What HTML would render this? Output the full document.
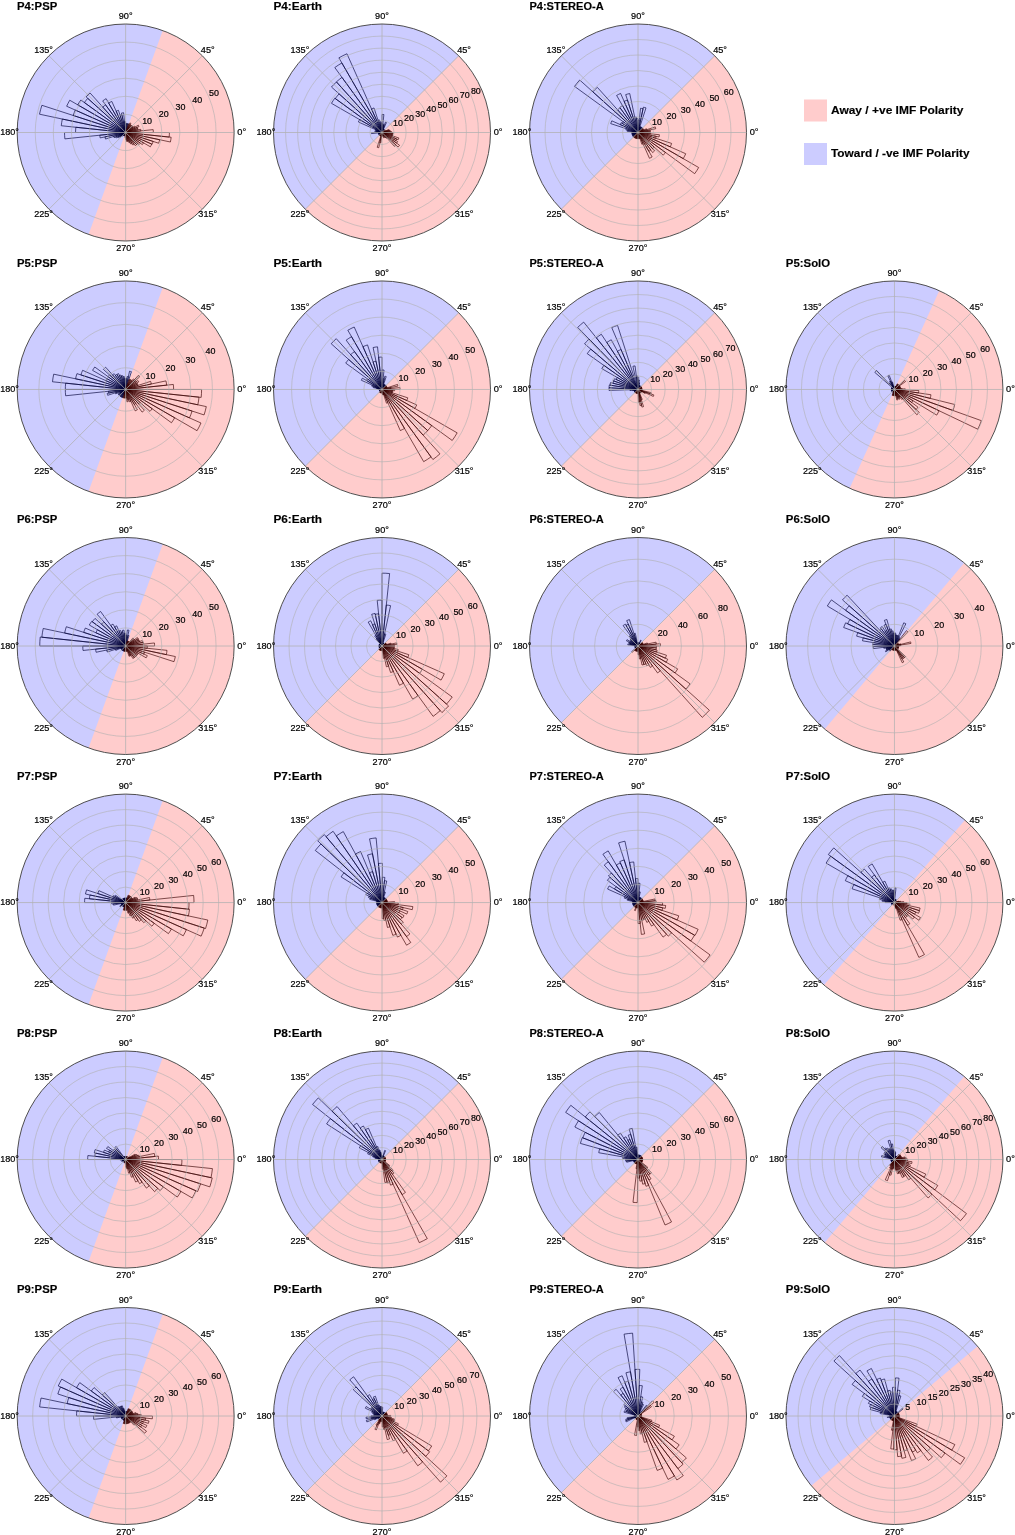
<!DOCTYPE html><html><head><meta charset="utf-8"><style>html,body{margin:0;padding:0;background:#fff;overflow:hidden;width:1015px;height:1535px;}svg{display:block;will-change:transform;}text{font-family:"Liberation Sans",sans-serif;}.t{font-size:8.5px;fill:#000;stroke:#000;stroke-width:0.2px;}.ti{font-size:10.6px;font-weight:bold;fill:#000;stroke:#000;stroke-width:0.15px;}.lg{font-size:10.5px;font-weight:bold;fill:#000;stroke:#000;stroke-width:0.15px;}</style></head><body>
<svg width="1015" height="1535" viewBox="0 0 1015 1535">
<clipPath id="c0"><circle cx="125.65" cy="132.5" r="108.5"/></clipPath>
<g clip-path="url(#c0)">
<circle cx="125.65" cy="132.5" r="108.5" fill="#ffcccc"/>
<polygon points="181.31,-20.43 0.11,-17.11 -66.68,166.41 69.99,285.43 125.65,132.5" fill="#ccccff"/>
<g fill="none" stroke="#000038" stroke-width="0.65"><path d="M125.65 132.5L128.44 123.9A9.04 9.04 0 0 0 127.53 123.66Z"/><path d="M125.65 132.5L127.53 123.66A9.04 9.04 0 0 0 126.6 123.51Z"/><path d="M125.65 132.5L126.6 123.51A9.04 9.04 0 0 0 125.65 123.46Z"/><path d="M125.65 132.5L125.65 121.65A10.85 10.85 0 0 0 124.52 121.71Z"/><path d="M125.65 132.5L123.57 112.72A19.89 19.89 0 0 0 121.51 113.04Z"/><path d="M125.65 132.5L121.89 114.81A18.08 18.08 0 0 0 120.06 115.3Z"/><path d="M125.65 132.5L118.44 110.31A23.33 23.33 0 0 0 116.16 111.19Z"/><path d="M125.65 132.5L111.82 101.44A34 34 0 0 0 108.65 103.06Z"/><path d="M125.65 132.5L106.12 98.67A39.06 39.06 0 0 0 102.69 100.9Z"/><path d="M125.65 132.5L105.56 104.85A34.18 34.18 0 0 0 102.78 107.1Z"/><path d="M125.65 132.5L90.08 92.99A53.16 53.16 0 0 0 86.14 96.93Z"/><path d="M125.65 132.5L87.75 98.38A50.99 50.99 0 0 0 84.39 102.53Z"/><path d="M125.65 132.5L80.88 99.97A55.34 55.34 0 0 0 77.73 104.83Z"/><path d="M125.65 132.5L69.74 100.22A64.56 64.56 0 0 0 66.67 106.24Z"/><path d="M125.65 132.5L75.26 110.07A55.15 55.15 0 0 0 73.2 115.46Z"/><path d="M125.65 132.5L41.89 105.29A88.07 88.07 0 0 0 39.51 114.19Z"/><path d="M125.65 132.5L62.33 119.04A64.74 64.74 0 0 0 61.27 125.73Z"/><path d="M125.65 132.5L75.83 127.26A50.09 50.09 0 0 0 75.56 132.5Z"/><path d="M125.65 132.5L64.53 132.5A61.12 61.12 0 0 0 64.86 138.89Z"/><path d="M125.65 132.5L99.75 135.22A26.04 26.04 0 0 0 100.18 137.91Z"/><path d="M125.65 132.5L104.95 136.9A21.16 21.16 0 0 0 105.53 139.04Z"/><path d="M125.65 132.5L113.61 136.41A12.66 12.66 0 0 0 114.09 137.65Z"/><path d="M125.65 132.5L115.74 136.91A10.85 10.85 0 0 0 116.25 137.93Z"/><path d="M125.65 132.5L117.82 137.02A9.04 9.04 0 0 0 118.34 137.81Z"/><path d="M125.65 132.5L119.8 136.75A7.23 7.23 0 0 0 120.27 137.34Z"/><path d="M125.65 132.5L121.62 136.13A5.42 5.42 0 0 0 122.02 136.53Z"/><path d="M125.65 132.5L123.23 135.19A3.62 3.62 0 0 0 123.52 135.43Z"/><path d="M125.65 132.5L123.52 135.43A3.62 3.62 0 0 0 123.84 135.63Z"/><path d="M125.65 132.5L123.84 135.63A3.62 3.62 0 0 0 124.18 135.8Z"/><path d="M125.65 132.5L124.18 135.8A3.62 3.62 0 0 0 124.53 135.94Z"/></g>
<g fill="none" stroke="#380000" stroke-width="0.65"><path d="M125.65 132.5L153.32 132.5A27.67 27.67 0 0 0 153.17 129.61Z"/><path d="M125.65 132.5L140.94 130.89A15.37 15.37 0 0 0 140.68 129.3Z"/><path d="M125.65 132.5L138.03 129.87A12.66 12.66 0 0 0 137.69 128.59Z"/><path d="M125.65 132.5L137.69 128.59A12.66 12.66 0 0 0 137.21 127.35Z"/><path d="M125.65 132.5L139.03 126.54A14.65 14.65 0 0 0 138.34 125.18Z"/><path d="M125.65 132.5L135.05 127.08A10.85 10.85 0 0 0 134.43 126.12Z"/><path d="M125.65 132.5L132.96 127.19A9.04 9.04 0 0 0 132.37 126.45Z"/><path d="M125.65 132.5L132.37 126.45A9.04 9.04 0 0 0 131.7 125.78Z"/><path d="M125.65 132.5L131.7 125.78A9.04 9.04 0 0 0 130.96 125.19Z"/><path d="M125.65 132.5L130.96 125.19A9.04 9.04 0 0 0 130.17 124.67Z"/><path d="M125.65 132.5L130.89 123.42A10.49 10.49 0 0 0 129.92 122.92Z"/><path d="M125.65 132.5L129.33 124.24A9.04 9.04 0 0 0 128.44 123.9Z"/><path d="M125.65 132.5L125.09 134.22A1.81 1.81 0 0 0 125.27 134.27Z"/><path d="M125.65 132.5L124.9 136.04A3.62 3.62 0 0 0 125.27 136.1Z"/><path d="M125.65 132.5L125.08 137.9A5.42 5.42 0 0 0 125.65 137.93Z"/><path d="M125.65 132.5L125.65 139.73A7.23 7.23 0 0 0 126.41 139.69Z"/><path d="M125.65 132.5L126.6 141.49A9.04 9.04 0 0 0 127.53 141.34Z"/><path d="M125.65 132.5L127.53 141.34A9.04 9.04 0 0 0 128.44 141.1Z"/><path d="M125.65 132.5L129 142.82A10.85 10.85 0 0 0 130.06 142.41Z"/><path d="M125.65 132.5L130.8 144.06A12.66 12.66 0 0 0 131.98 143.46Z"/><path d="M125.65 132.5L132.88 145.03A14.47 14.47 0 0 0 134.15 144.2Z"/><path d="M125.65 132.5L135.22 145.67A16.27 16.27 0 0 0 136.54 144.59Z"/><path d="M125.65 132.5L136.54 144.59A16.27 16.27 0 0 0 137.74 143.39Z"/><path d="M125.65 132.5L139.09 144.6A18.08 18.08 0 0 0 140.28 143.13Z"/><path d="M125.65 132.5L142.33 144.62A20.62 20.62 0 0 0 143.5 142.81Z"/><path d="M125.65 132.5L150.39 146.79A28.57 28.57 0 0 0 151.75 144.12Z"/><path d="M125.65 132.5L152.08 144.27A28.93 28.93 0 0 0 153.17 141.44Z"/><path d="M125.65 132.5L158.67 143.23A34.72 34.72 0 0 0 159.61 139.72Z"/><path d="M125.65 132.5L170.4 142.01A45.75 45.75 0 0 0 171.15 137.28Z"/><path d="M125.65 132.5L169.17 137.07A43.76 43.76 0 0 0 169.41 132.5Z"/></g>
<circle cx="125.65" cy="132.5" r="18.08" fill="none" stroke="#b0b0b0" stroke-width="0.6"/>
<circle cx="125.65" cy="132.5" r="36.17" fill="none" stroke="#b0b0b0" stroke-width="0.6"/>
<circle cx="125.65" cy="132.5" r="54.25" fill="none" stroke="#b0b0b0" stroke-width="0.6"/>
<circle cx="125.65" cy="132.5" r="72.33" fill="none" stroke="#b0b0b0" stroke-width="0.6"/>
<circle cx="125.65" cy="132.5" r="90.42" fill="none" stroke="#b0b0b0" stroke-width="0.6"/>
<path d="M234.15 132.5L17.15 132.5M202.37 55.78L48.93 209.22M125.65 24L125.65 241M48.93 55.78L202.37 209.22" stroke="#b0b0b0" stroke-width="0.75"/>
</g>
<circle cx="125.65" cy="132.5" r="108.5" fill="none" stroke="#474747" stroke-width="0.95"/>
<text class="t" x="241.75" y="135.2" text-anchor="middle" textLength="8.86" lengthAdjust="spacingAndGlyphs">0°</text>
<text class="t" x="207.75" y="53.1" text-anchor="middle" textLength="13.83" lengthAdjust="spacingAndGlyphs">45°</text>
<text class="t" x="125.65" y="19.1" text-anchor="middle" textLength="13.83" lengthAdjust="spacingAndGlyphs">90°</text>
<text class="t" x="43.55" y="53.1" text-anchor="middle" textLength="18.79" lengthAdjust="spacingAndGlyphs">135°</text>
<text class="t" x="9.55" y="135.2" text-anchor="middle" textLength="18.79" lengthAdjust="spacingAndGlyphs">180°</text>
<text class="t" x="43.55" y="217.3" text-anchor="middle" textLength="18.79" lengthAdjust="spacingAndGlyphs">225°</text>
<text class="t" x="125.65" y="251.3" text-anchor="middle" textLength="18.79" lengthAdjust="spacingAndGlyphs">270°</text>
<text class="t" x="207.75" y="217.3" text-anchor="middle" textLength="18.79" lengthAdjust="spacingAndGlyphs">315°</text>
<text class="t" x="142.16" y="123.78" textLength="9.93" lengthAdjust="spacingAndGlyphs">10</text>
<text class="t" x="158.86" y="116.86" textLength="9.93" lengthAdjust="spacingAndGlyphs">20</text>
<text class="t" x="175.57" y="109.94" textLength="9.93" lengthAdjust="spacingAndGlyphs">30</text>
<text class="t" x="192.28" y="103.02" textLength="9.93" lengthAdjust="spacingAndGlyphs">40</text>
<text class="t" x="208.98" y="96.1" textLength="9.93" lengthAdjust="spacingAndGlyphs">50</text>
<text class="ti" x="17.05" y="9.8" textLength="40.15" lengthAdjust="spacingAndGlyphs">P4:PSP</text>
<clipPath id="c1"><circle cx="382" cy="132.5" r="108.5"/></clipPath>
<g clip-path="url(#c1)">
<circle cx="382" cy="132.5" r="108.5" fill="#ffcccc"/>
<polygon points="497.08,17.42 331.45,-56.15 193.35,81.95 266.92,247.58 382,132.5" fill="#ccccff"/>
<g fill="none" stroke="#000038" stroke-width="0.65"><path d="M382 132.5L384.69 130.08A3.62 3.62 0 0 0 384.42 129.81Z"/><path d="M382 132.5L384.42 129.81A3.62 3.62 0 0 0 384.13 129.57Z"/><path d="M382 132.5L384.13 129.57A3.62 3.62 0 0 0 383.81 129.37Z"/><path d="M382 132.5L383.81 129.37A3.62 3.62 0 0 0 383.47 129.2Z"/><path d="M382 132.5L386.41 122.59A10.85 10.85 0 0 0 385.35 122.18Z"/><path d="M382 132.5L384.24 125.62A7.23 7.23 0 0 0 383.5 125.42Z"/><path d="M382 132.5L383.75 124.25A8.44 8.44 0 0 0 382.88 124.11Z"/><path d="M382 132.5L383.89 114.52A18.08 18.08 0 0 0 382 114.42Z"/><path d="M382 132.5L382 122.86A9.64 9.64 0 0 0 380.99 122.91Z"/><path d="M382 132.5L380.87 121.71A10.85 10.85 0 0 0 379.74 121.89Z"/><path d="M382 132.5L379.32 119.88A12.9 12.9 0 0 0 378.01 120.23Z"/><path d="M382 132.5L374.03 107.96A25.8 25.8 0 0 0 371.51 108.93Z"/><path d="M382 132.5L346.94 53.75A86.2 86.2 0 0 0 338.9 57.85Z"/><path d="M382 132.5L341.86 62.97A80.29 80.29 0 0 0 334.81 67.54Z"/><path d="M382 132.5L341.96 77.39A68.11 68.11 0 0 0 336.42 81.88Z"/><path d="M382 132.5L336.5 81.97A67.99 67.99 0 0 0 331.47 87Z"/><path d="M382 132.5L339.09 93.86A57.75 57.75 0 0 0 335.28 98.56Z"/><path d="M382 132.5L334.79 98.2A58.35 58.35 0 0 0 331.47 103.33Z"/><path d="M382 132.5L359.66 119.6A25.8 25.8 0 0 0 358.43 122.01Z"/><path d="M382 132.5L375.39 129.56A7.23 7.23 0 0 0 375.12 130.26Z"/><path d="M382 132.5L376.27 130.64A6.03 6.03 0 0 0 376.1 131.25Z"/><path d="M382 132.5L374.92 131A7.23 7.23 0 0 0 374.81 131.74Z"/><path d="M382 132.5L376.01 131.87A6.03 6.03 0 0 0 375.97 132.5Z"/><path d="M382 132.5L371.39 132.5A10.61 10.61 0 0 0 371.45 133.61Z"/><path d="M382 132.5L378.4 132.88A3.62 3.62 0 0 0 378.46 133.25Z"/><path d="M382 132.5L378.46 133.25A3.62 3.62 0 0 0 378.56 133.62Z"/><path d="M382 132.5L378.56 133.62A3.62 3.62 0 0 0 378.7 133.97Z"/><path d="M382 132.5L378.7 133.97A3.62 3.62 0 0 0 378.87 134.31Z"/><path d="M382 132.5L378.87 134.31A3.62 3.62 0 0 0 379.07 134.63Z"/><path d="M382 132.5L379.07 134.63A3.62 3.62 0 0 0 379.31 134.92Z"/></g>
<g fill="none" stroke="#380000" stroke-width="0.65"><path d="M382 132.5L391.64 132.5A9.64 9.64 0 0 0 391.59 131.49Z"/><path d="M382 132.5L390.39 131.62A8.44 8.44 0 0 0 390.25 130.75Z"/><path d="M382 132.5L389.9 130.82A8.08 8.08 0 0 0 389.68 130Z"/><path d="M382 132.5L388.88 130.26A7.23 7.23 0 0 0 388.61 129.56Z"/><path d="M382 132.5L385.3 131.03A3.62 3.62 0 0 0 385.13 130.69Z"/><path d="M382 132.5L385.13 130.69A3.62 3.62 0 0 0 384.93 130.37Z"/><path d="M382 132.5L384.93 130.37A3.62 3.62 0 0 0 384.69 130.08Z"/><path d="M382 132.5L379.31 134.92A3.62 3.62 0 0 0 379.58 135.19Z"/><path d="M382 132.5L379.58 135.19A3.62 3.62 0 0 0 379.87 135.43Z"/><path d="M382 132.5L379.87 135.43A3.62 3.62 0 0 0 380.19 135.63Z"/><path d="M382 132.5L380.19 135.63A3.62 3.62 0 0 0 380.53 135.8Z"/><path d="M382 132.5L380.53 135.8A3.62 3.62 0 0 0 380.88 135.94Z"/><path d="M382 132.5L377.19 147.29A15.55 15.55 0 0 0 378.77 147.71Z"/><path d="M382 132.5L379.84 142.64A10.37 10.37 0 0 0 380.92 142.81Z"/><path d="M382 132.5L381.62 136.1A3.62 3.62 0 0 0 382 136.12Z"/><path d="M382 132.5L382 136.12A3.62 3.62 0 0 0 382.38 136.1Z"/><path d="M382 132.5L382.38 136.1A3.62 3.62 0 0 0 382.75 136.04Z"/><path d="M382 132.5L382.75 136.04A3.62 3.62 0 0 0 383.12 135.94Z"/><path d="M382 132.5L383.75 137.89A5.67 5.67 0 0 0 384.3 137.68Z"/><path d="M382 132.5L383.47 135.8A3.62 3.62 0 0 0 383.81 135.63Z"/><path d="M382 132.5L385.01 137.72A6.03 6.03 0 0 0 385.54 137.38Z"/><path d="M382 132.5L386.25 138.35A7.23 7.23 0 0 0 386.84 137.88Z"/><path d="M382 132.5L394.42 146.3A18.57 18.57 0 0 0 395.8 144.92Z"/><path d="M382 132.5L398.13 147.02A21.7 21.7 0 0 0 399.56 145.25Z"/><path d="M382 132.5L396.63 143.13A18.08 18.08 0 0 0 397.66 141.54Z"/><path d="M382 132.5L395.99 140.58A16.15 16.15 0 0 0 396.76 139.07Z"/><path d="M382 132.5L398.19 139.71A17.72 17.72 0 0 0 398.85 137.98Z"/><path d="M382 132.5L392.32 135.85A10.85 10.85 0 0 0 392.61 134.76Z"/><path d="M382 132.5L392.61 134.76A10.85 10.85 0 0 0 392.79 133.63Z"/><path d="M382 132.5L393.15 133.67A11.21 11.21 0 0 0 393.21 132.5Z"/></g>
<circle cx="382" cy="132.5" r="12.06" fill="none" stroke="#b0b0b0" stroke-width="0.6"/>
<circle cx="382" cy="132.5" r="24.11" fill="none" stroke="#b0b0b0" stroke-width="0.6"/>
<circle cx="382" cy="132.5" r="36.17" fill="none" stroke="#b0b0b0" stroke-width="0.6"/>
<circle cx="382" cy="132.5" r="48.22" fill="none" stroke="#b0b0b0" stroke-width="0.6"/>
<circle cx="382" cy="132.5" r="60.28" fill="none" stroke="#b0b0b0" stroke-width="0.6"/>
<circle cx="382" cy="132.5" r="72.33" fill="none" stroke="#b0b0b0" stroke-width="0.6"/>
<circle cx="382" cy="132.5" r="84.39" fill="none" stroke="#b0b0b0" stroke-width="0.6"/>
<circle cx="382" cy="132.5" r="96.44" fill="none" stroke="#b0b0b0" stroke-width="0.6"/>
<path d="M490.5 132.5L273.5 132.5M458.72 55.78L305.28 209.22M382 24L382 241M305.28 55.78L458.72 209.22" stroke="#b0b0b0" stroke-width="0.75"/>
</g>
<circle cx="382" cy="132.5" r="108.5" fill="none" stroke="#474747" stroke-width="0.95"/>
<text class="t" x="498.1" y="135.2" text-anchor="middle" textLength="8.86" lengthAdjust="spacingAndGlyphs">0°</text>
<text class="t" x="464.1" y="53.1" text-anchor="middle" textLength="13.83" lengthAdjust="spacingAndGlyphs">45°</text>
<text class="t" x="382" y="19.1" text-anchor="middle" textLength="13.83" lengthAdjust="spacingAndGlyphs">90°</text>
<text class="t" x="299.9" y="53.1" text-anchor="middle" textLength="18.79" lengthAdjust="spacingAndGlyphs">135°</text>
<text class="t" x="265.9" y="135.2" text-anchor="middle" textLength="18.79" lengthAdjust="spacingAndGlyphs">180°</text>
<text class="t" x="299.9" y="217.3" text-anchor="middle" textLength="18.79" lengthAdjust="spacingAndGlyphs">225°</text>
<text class="t" x="382" y="251.3" text-anchor="middle" textLength="18.79" lengthAdjust="spacingAndGlyphs">270°</text>
<text class="t" x="464.1" y="217.3" text-anchor="middle" textLength="18.79" lengthAdjust="spacingAndGlyphs">315°</text>
<text class="t" x="392.94" y="126.09" textLength="9.93" lengthAdjust="spacingAndGlyphs">10</text>
<text class="t" x="404.08" y="121.47" textLength="9.93" lengthAdjust="spacingAndGlyphs">20</text>
<text class="t" x="415.21" y="116.86" textLength="9.93" lengthAdjust="spacingAndGlyphs">30</text>
<text class="t" x="426.35" y="112.25" textLength="9.93" lengthAdjust="spacingAndGlyphs">40</text>
<text class="t" x="437.49" y="107.63" textLength="9.93" lengthAdjust="spacingAndGlyphs">50</text>
<text class="t" x="448.63" y="103.02" textLength="9.93" lengthAdjust="spacingAndGlyphs">60</text>
<text class="t" x="459.77" y="98.41" textLength="9.93" lengthAdjust="spacingAndGlyphs">70</text>
<text class="t" x="470.9" y="93.79" textLength="9.93" lengthAdjust="spacingAndGlyphs">80</text>
<text class="ti" x="273.4" y="9.8" textLength="48.7" lengthAdjust="spacingAndGlyphs">P4:Earth</text>
<clipPath id="c2"><circle cx="638" cy="132.5" r="108.5"/></clipPath>
<g clip-path="url(#c2)">
<circle cx="638" cy="132.5" r="108.5" fill="#ffcccc"/>
<polygon points="753.08,17.42 587.45,-56.15 449.35,81.95 522.92,247.58 638,132.5" fill="#ccccff"/>
<g fill="none" stroke="#000038" stroke-width="0.65"><path d="M638 132.5L642.61 128.35A6.2 6.2 0 0 0 642.15 127.89Z"/><path d="M638 132.5L642.15 127.89A6.2 6.2 0 0 0 641.64 127.48Z"/><path d="M638 132.5L641.64 127.48A6.2 6.2 0 0 0 641.1 127.13Z"/><path d="M638 132.5L641.1 127.13A6.2 6.2 0 0 0 640.52 126.84Z"/><path d="M638 132.5L640.52 126.84A6.2 6.2 0 0 0 639.92 126.6Z"/><path d="M638 132.5L646 107.88A25.88 25.88 0 0 0 643.38 107.18Z"/><path d="M638 132.5L643.06 108.7A24.34 24.34 0 0 0 640.54 108.3Z"/><path d="M638 132.5L639.3 120.17A12.4 12.4 0 0 0 638 120.1Z"/><path d="M638 132.5L638 118.55A13.95 13.95 0 0 0 636.54 118.63Z"/><path d="M638 132.5L636.38 117.08A15.5 15.5 0 0 0 634.78 117.34Z"/><path d="M638 132.5L629.72 93.54A39.84 39.84 0 0 0 625.69 94.61Z"/><path d="M638 132.5L627.46 100.07A34.1 34.1 0 0 0 624.13 101.35Z"/><path d="M638 132.5L620.6 93.42A42.78 42.78 0 0 0 616.61 95.45Z"/><path d="M638 132.5L622.5 105.65A31 31 0 0 0 619.78 107.42Z"/><path d="M638 132.5L620.05 107.8A30.54 30.54 0 0 0 617.57 109.81Z"/><path d="M638 132.5L597.34 87.35A60.76 60.76 0 0 0 592.85 91.84Z"/><path d="M638 132.5L579.72 80.02A78.43 78.43 0 0 0 574.55 86.4Z"/><path d="M638 132.5L622.95 121.57A18.6 18.6 0 0 0 621.89 123.2Z"/><path d="M638 132.5L621.09 122.73A19.53 19.53 0 0 0 620.16 124.56Z"/><path d="M638 132.5L611.8 120.84A28.68 28.68 0 0 0 610.73 123.64Z"/><path d="M638 132.5L626.21 128.67A12.4 12.4 0 0 0 625.87 129.92Z"/><path d="M638 132.5L627.39 130.24A10.85 10.85 0 0 0 627.21 131.37Z"/><path d="M638 132.5L631.83 131.85A6.2 6.2 0 0 0 631.8 132.5Z"/><path d="M638 132.5L631.8 132.5A6.2 6.2 0 0 0 631.83 133.15Z"/><path d="M638 132.5L631.83 133.15A6.2 6.2 0 0 0 631.94 133.79Z"/><path d="M638 132.5L631.94 133.79A6.2 6.2 0 0 0 632.1 134.42Z"/><path d="M638 132.5L632.1 134.42A6.2 6.2 0 0 0 632.34 135.02Z"/><path d="M638 132.5L632.34 135.02A6.2 6.2 0 0 0 632.63 135.6Z"/><path d="M638 132.5L632.63 135.6A6.2 6.2 0 0 0 632.98 136.14Z"/><path d="M638 132.5L632.98 136.14A6.2 6.2 0 0 0 633.39 136.65Z"/></g>
<g fill="none" stroke="#380000" stroke-width="0.65"><path d="M638 132.5L650.4 132.5A12.4 12.4 0 0 0 650.33 131.2Z"/><path d="M638 132.5L650.33 131.2A12.4 12.4 0 0 0 650.13 129.92Z"/><path d="M638 132.5L655.74 128.73A18.13 18.13 0 0 0 655.25 126.9Z"/><path d="M638 132.5L646.84 129.63A9.3 9.3 0 0 0 646.5 128.72Z"/><path d="M638 132.5L643.66 129.98A6.2 6.2 0 0 0 643.37 129.4Z"/><path d="M638 132.5L643.37 129.4A6.2 6.2 0 0 0 643.02 128.86Z"/><path d="M638 132.5L643.02 128.86A6.2 6.2 0 0 0 642.61 128.35Z"/><path d="M638 132.5L633.39 136.65A6.2 6.2 0 0 0 633.85 137.11Z"/><path d="M638 132.5L633.85 137.11A6.2 6.2 0 0 0 634.36 137.52Z"/><path d="M638 132.5L634.36 137.52A6.2 6.2 0 0 0 634.9 137.87Z"/><path d="M638 132.5L634.9 137.87A6.2 6.2 0 0 0 635.48 138.16Z"/><path d="M638 132.5L635.48 138.16A6.2 6.2 0 0 0 636.08 138.4Z"/><path d="M638 132.5L636.08 138.4A6.2 6.2 0 0 0 636.71 138.56Z"/><path d="M638 132.5L636.71 138.56A6.2 6.2 0 0 0 637.35 138.67Z"/><path d="M638 132.5L637.35 138.67A6.2 6.2 0 0 0 638 138.7Z"/><path d="M638 132.5L638 138.7A6.2 6.2 0 0 0 638.65 138.67Z"/><path d="M638 132.5L638.65 138.67A6.2 6.2 0 0 0 639.29 138.56Z"/><path d="M638 132.5L639.29 138.56A6.2 6.2 0 0 0 639.92 138.4Z"/><path d="M638 132.5L641.83 144.29A12.4 12.4 0 0 0 643.04 143.83Z"/><path d="M638 132.5L649.47 158.27A28.21 28.21 0 0 0 652.11 156.93Z"/><path d="M638 132.5L648.85 151.29A21.7 21.7 0 0 0 650.75 150.06Z"/><path d="M638 132.5L652.58 152.56A24.8 24.8 0 0 0 654.59 150.93Z"/><path d="M638 132.5L652.52 148.63A21.7 21.7 0 0 0 654.13 147.02Z"/><path d="M638 132.5L663.23 155.21A33.95 33.95 0 0 0 665.46 152.45Z"/><path d="M638 132.5L694.68 173.68A70.06 70.06 0 0 0 698.67 167.53Z"/><path d="M638 132.5L683.24 158.62A52.24 52.24 0 0 0 685.72 153.75Z"/><path d="M638 132.5L670.28 146.87A35.34 35.34 0 0 0 671.61 143.42Z"/><path d="M638 132.5L655.69 138.25A18.6 18.6 0 0 0 656.19 136.37Z"/><path d="M638 132.5L659.07 136.98A21.55 21.55 0 0 0 659.43 134.75Z"/><path d="M638 132.5L650.33 133.8A12.4 12.4 0 0 0 650.4 132.5Z"/></g>
<circle cx="638" cy="132.5" r="15.5" fill="none" stroke="#b0b0b0" stroke-width="0.6"/>
<circle cx="638" cy="132.5" r="31" fill="none" stroke="#b0b0b0" stroke-width="0.6"/>
<circle cx="638" cy="132.5" r="46.5" fill="none" stroke="#b0b0b0" stroke-width="0.6"/>
<circle cx="638" cy="132.5" r="62" fill="none" stroke="#b0b0b0" stroke-width="0.6"/>
<circle cx="638" cy="132.5" r="77.5" fill="none" stroke="#b0b0b0" stroke-width="0.6"/>
<circle cx="638" cy="132.5" r="93" fill="none" stroke="#b0b0b0" stroke-width="0.6"/>
<path d="M746.5 132.5L529.5 132.5M714.72 55.78L561.28 209.22M638 24L638 241M561.28 55.78L714.72 209.22" stroke="#b0b0b0" stroke-width="0.75"/>
</g>
<circle cx="638" cy="132.5" r="108.5" fill="none" stroke="#474747" stroke-width="0.95"/>
<text class="t" x="754.1" y="135.2" text-anchor="middle" textLength="8.86" lengthAdjust="spacingAndGlyphs">0°</text>
<text class="t" x="720.1" y="53.1" text-anchor="middle" textLength="13.83" lengthAdjust="spacingAndGlyphs">45°</text>
<text class="t" x="638" y="19.1" text-anchor="middle" textLength="13.83" lengthAdjust="spacingAndGlyphs">90°</text>
<text class="t" x="555.9" y="53.1" text-anchor="middle" textLength="18.79" lengthAdjust="spacingAndGlyphs">135°</text>
<text class="t" x="521.9" y="135.2" text-anchor="middle" textLength="18.79" lengthAdjust="spacingAndGlyphs">180°</text>
<text class="t" x="555.9" y="217.3" text-anchor="middle" textLength="18.79" lengthAdjust="spacingAndGlyphs">225°</text>
<text class="t" x="638" y="251.3" text-anchor="middle" textLength="18.79" lengthAdjust="spacingAndGlyphs">270°</text>
<text class="t" x="720.1" y="217.3" text-anchor="middle" textLength="18.79" lengthAdjust="spacingAndGlyphs">315°</text>
<text class="t" x="652.12" y="124.77" textLength="9.93" lengthAdjust="spacingAndGlyphs">10</text>
<text class="t" x="666.44" y="118.84" textLength="9.93" lengthAdjust="spacingAndGlyphs">20</text>
<text class="t" x="680.76" y="112.91" textLength="9.93" lengthAdjust="spacingAndGlyphs">30</text>
<text class="t" x="695.08" y="106.97" textLength="9.93" lengthAdjust="spacingAndGlyphs">40</text>
<text class="t" x="709.4" y="101.04" textLength="9.93" lengthAdjust="spacingAndGlyphs">50</text>
<text class="t" x="723.72" y="95.11" textLength="9.93" lengthAdjust="spacingAndGlyphs">60</text>
<text class="ti" x="529.4" y="9.8" textLength="74.25" lengthAdjust="spacingAndGlyphs">P4:STEREO-A</text>
<clipPath id="c3"><circle cx="125.65" cy="389.46" r="108.5"/></clipPath>
<g clip-path="url(#c3)">
<circle cx="125.65" cy="389.46" r="108.5" fill="#ffcccc"/>
<polygon points="181.31,236.53 0.11,239.85 -66.68,423.37 69.99,542.39 125.65,389.46" fill="#ccccff"/>
<g fill="none" stroke="#000038" stroke-width="0.65"><path d="M125.65 389.46L131.42 371.71A18.66 18.66 0 0 0 129.53 371.21Z"/><path d="M125.65 389.46L128.36 376.72A13.02 13.02 0 0 0 127.01 376.51Z"/><path d="M125.65 389.46L126.78 378.67A10.85 10.85 0 0 0 125.65 378.61Z"/><path d="M125.65 389.46L125.65 378.61A10.85 10.85 0 0 0 124.52 378.67Z"/><path d="M125.65 389.46L124.29 376.51A13.02 13.02 0 0 0 122.94 376.72Z"/><path d="M125.65 389.46L122.72 375.66A14.11 14.11 0 0 0 121.29 376.05Z"/><path d="M125.65 389.46L120.96 375.01A15.19 15.19 0 0 0 119.47 375.58Z"/><path d="M125.65 389.46L118.59 373.6A17.36 17.36 0 0 0 116.97 374.43Z"/><path d="M125.65 389.46L116.97 374.43A17.36 17.36 0 0 0 115.45 375.42Z"/><path d="M125.65 389.46L114.17 373.66A19.53 19.53 0 0 0 112.58 374.95Z"/><path d="M125.65 389.46L105.61 367.21A29.95 29.95 0 0 0 103.4 369.42Z"/><path d="M125.65 389.46L109.52 374.94A21.7 21.7 0 0 0 108.09 376.71Z"/><path d="M125.65 389.46L94.75 367.01A38.19 38.19 0 0 0 92.57 370.36Z"/><path d="M125.65 389.46L106.86 378.61A21.7 21.7 0 0 0 105.83 380.63Z"/><path d="M125.65 389.46L82.63 370.31A47.09 47.09 0 0 0 80.87 374.91Z"/><path d="M125.65 389.46L76.94 373.63A51.21 51.21 0 0 0 75.56 378.81Z"/><path d="M125.65 389.46L53.69 374.17A73.56 73.56 0 0 0 52.49 381.77Z"/><path d="M125.65 389.46L65.65 383.15A60.33 60.33 0 0 0 65.32 389.46Z"/><path d="M125.65 389.46L65.32 389.46A60.33 60.33 0 0 0 65.65 395.77Z"/><path d="M125.65 389.46L108.39 391.27A17.36 17.36 0 0 0 108.67 393.07Z"/><path d="M125.65 389.46L107.18 393.39A18.88 18.88 0 0 0 107.7 395.29Z"/><path d="M125.65 389.46L115.33 392.81A10.85 10.85 0 0 0 115.74 393.87Z"/><path d="M125.65 389.46L119.7 392.11A6.51 6.51 0 0 0 120.01 392.71Z"/><path d="M125.65 389.46L118.13 393.8A8.68 8.68 0 0 0 118.63 394.56Z"/><path d="M125.65 389.46L118.63 394.56A8.68 8.68 0 0 0 119.2 395.27Z"/><path d="M125.65 389.46L119.2 395.27A8.68 8.68 0 0 0 119.84 395.91Z"/><path d="M125.65 389.46L119.84 395.91A8.68 8.68 0 0 0 120.55 396.48Z"/><path d="M125.65 389.46L120.55 396.48A8.68 8.68 0 0 0 121.31 396.98Z"/><path d="M125.65 389.46L121.31 396.98A8.68 8.68 0 0 0 122.12 397.39Z"/><path d="M125.65 389.46L122.12 397.39A8.68 8.68 0 0 0 122.97 397.72Z"/></g>
<g fill="none" stroke="#380000" stroke-width="0.65"><path d="M125.65 389.46L173.61 389.46A47.96 47.96 0 0 0 173.34 384.45Z"/><path d="M125.65 389.46L166.65 385.15A41.23 41.23 0 0 0 165.98 380.89Z"/><path d="M125.65 389.46L151.33 384A26.26 26.26 0 0 0 150.62 381.35Z"/><path d="M125.65 389.46L138.03 385.44A13.02 13.02 0 0 0 137.54 384.16Z"/><path d="M125.65 389.46L137.54 384.16A13.02 13.02 0 0 0 136.93 382.95Z"/><path d="M125.65 389.46L138.8 381.87A15.19 15.19 0 0 0 137.94 380.53Z"/><path d="M125.65 389.46L136.18 381.81A13.02 13.02 0 0 0 135.33 380.75Z"/><path d="M125.65 389.46L139.68 376.83A18.88 18.88 0 0 0 138.28 375.43Z"/><path d="M125.65 389.46L134.36 379.78A13.02 13.02 0 0 0 133.3 378.93Z"/><path d="M125.65 389.46L132.03 380.68A10.85 10.85 0 0 0 131.08 380.06Z"/><path d="M125.65 389.46L131.08 380.06A10.85 10.85 0 0 0 130.06 379.55Z"/><path d="M125.65 389.46L130.06 379.55A10.85 10.85 0 0 0 129 379.14Z"/><path d="M125.65 389.46L122.97 397.72A8.68 8.68 0 0 0 123.85 397.95Z"/><path d="M125.65 389.46L123.85 397.95A8.68 8.68 0 0 0 124.74 398.09Z"/><path d="M125.65 389.46L124.74 398.09A8.68 8.68 0 0 0 125.65 398.14Z"/><path d="M125.65 389.46L125.65 398.14A8.68 8.68 0 0 0 126.56 398.09Z"/><path d="M125.65 389.46L126.94 401.76A12.37 12.37 0 0 0 128.22 401.56Z"/><path d="M125.65 389.46L127.91 400.07A10.85 10.85 0 0 0 129 399.78Z"/><path d="M125.65 389.46L129.67 401.84A13.02 13.02 0 0 0 130.95 401.35Z"/><path d="M125.65 389.46L135.18 410.87A23.44 23.44 0 0 0 137.37 409.76Z"/><path d="M125.65 389.46L134.33 404.49A17.36 17.36 0 0 0 135.85 403.5Z"/><path d="M125.65 389.46L142.1 412.11A27.99 27.99 0 0 0 144.38 410.26Z"/><path d="M125.65 389.46L138.72 403.97A19.53 19.53 0 0 0 140.16 402.53Z"/><path d="M125.65 389.46L150 411.39A32.77 32.77 0 0 0 152.16 408.72Z"/><path d="M125.65 389.46L171.47 422.75A56.64 56.64 0 0 0 174.7 417.78Z"/><path d="M125.65 389.46L197.06 430.69A82.46 82.46 0 0 0 200.98 423Z"/><path d="M125.65 389.46L189.48 417.88A69.87 69.87 0 0 0 192.1 411.05Z"/><path d="M125.65 389.46L204.07 414.94A82.46 82.46 0 0 0 206.31 406.6Z"/><path d="M125.65 389.46L197.82 404.8A73.78 73.78 0 0 0 199.03 397.17Z"/><path d="M125.65 389.46L201.18 397.4A75.95 75.95 0 0 0 201.6 389.46Z"/></g>
<circle cx="125.65" cy="389.46" r="21.7" fill="none" stroke="#b0b0b0" stroke-width="0.6"/>
<circle cx="125.65" cy="389.46" r="43.4" fill="none" stroke="#b0b0b0" stroke-width="0.6"/>
<circle cx="125.65" cy="389.46" r="65.1" fill="none" stroke="#b0b0b0" stroke-width="0.6"/>
<circle cx="125.65" cy="389.46" r="86.8" fill="none" stroke="#b0b0b0" stroke-width="0.6"/>
<path d="M234.15 389.46L17.15 389.46M202.37 312.74L48.93 466.18M125.65 280.96L125.65 497.96M48.93 312.74L202.37 466.18" stroke="#b0b0b0" stroke-width="0.75"/>
</g>
<circle cx="125.65" cy="389.46" r="108.5" fill="none" stroke="#474747" stroke-width="0.95"/>
<text class="t" x="241.75" y="392.16" text-anchor="middle" textLength="8.86" lengthAdjust="spacingAndGlyphs">0°</text>
<text class="t" x="207.75" y="310.06" text-anchor="middle" textLength="13.83" lengthAdjust="spacingAndGlyphs">45°</text>
<text class="t" x="125.65" y="276.06" text-anchor="middle" textLength="13.83" lengthAdjust="spacingAndGlyphs">90°</text>
<text class="t" x="43.55" y="310.06" text-anchor="middle" textLength="18.79" lengthAdjust="spacingAndGlyphs">135°</text>
<text class="t" x="9.55" y="392.16" text-anchor="middle" textLength="18.79" lengthAdjust="spacingAndGlyphs">180°</text>
<text class="t" x="43.55" y="474.26" text-anchor="middle" textLength="18.79" lengthAdjust="spacingAndGlyphs">225°</text>
<text class="t" x="125.65" y="508.26" text-anchor="middle" textLength="18.79" lengthAdjust="spacingAndGlyphs">270°</text>
<text class="t" x="207.75" y="474.26" text-anchor="middle" textLength="18.79" lengthAdjust="spacingAndGlyphs">315°</text>
<text class="t" x="145.5" y="379.36" textLength="9.93" lengthAdjust="spacingAndGlyphs">10</text>
<text class="t" x="165.55" y="371.05" textLength="9.93" lengthAdjust="spacingAndGlyphs">20</text>
<text class="t" x="185.59" y="362.75" textLength="9.93" lengthAdjust="spacingAndGlyphs">30</text>
<text class="t" x="205.64" y="354.44" textLength="9.93" lengthAdjust="spacingAndGlyphs">40</text>
<text class="ti" x="17.05" y="266.76" textLength="40.15" lengthAdjust="spacingAndGlyphs">P5:PSP</text>
<clipPath id="c4"><circle cx="382" cy="389.46" r="108.5"/></clipPath>
<g clip-path="url(#c4)">
<circle cx="382" cy="389.46" r="108.5" fill="#ffcccc"/>
<polygon points="497.08,274.38 331.45,200.81 193.35,338.91 266.92,504.54 382,389.46" fill="#ccccff"/>
<g fill="none" stroke="#000038" stroke-width="0.65"><path d="M382 389.46L386.03 385.83A5.42 5.42 0 0 0 385.63 385.43Z"/><path d="M382 389.46L385.63 385.43A5.42 5.42 0 0 0 385.19 385.07Z"/><path d="M382 389.46L385.19 385.07A5.42 5.42 0 0 0 384.71 384.76Z"/><path d="M382 389.46L384.71 384.76A5.42 5.42 0 0 0 384.21 384.5Z"/><path d="M382 389.46L384.21 384.5A5.42 5.42 0 0 0 383.68 384.3Z"/><path d="M382 389.46L386.19 376.56A13.56 13.56 0 0 0 384.82 376.19Z"/><path d="M382 389.46L384.26 378.85A10.85 10.85 0 0 0 383.13 378.67Z"/><path d="M382 389.46L384.04 370.04A19.53 19.53 0 0 0 382 369.93Z"/><path d="M382 389.46L382 357.09A32.37 32.37 0 0 0 378.62 357.27Z"/><path d="M382 389.46L377.52 346.84A42.86 42.86 0 0 0 373.09 347.54Z"/><path d="M382 389.46L375.98 361.16A28.93 28.93 0 0 0 373.06 361.94Z"/><path d="M382 389.46L367.53 344.92A46.84 46.84 0 0 0 362.95 346.67Z"/><path d="M382 389.46L354.2 327.01A68.35 68.35 0 0 0 347.82 330.26Z"/><path d="M382 389.46L351.53 336.68A60.94 60.94 0 0 0 346.18 340.16Z"/><path d="M382 389.46L354.47 351.57A46.84 46.84 0 0 0 350.66 354.65Z"/><path d="M382 389.46L336.26 338.66A68.35 68.35 0 0 0 331.2 343.72Z"/><path d="M382 389.46L348.67 359.45A44.85 44.85 0 0 0 345.72 363.1Z"/><path d="M382 389.46L367.37 378.83A18.08 18.08 0 0 0 366.34 380.42Z"/><path d="M382 389.46L362.42 378.16A22.6 22.6 0 0 0 361.35 380.27Z"/><path d="M382 389.46L372.09 385.05A10.85 10.85 0 0 0 371.68 386.11Z"/><path d="M382 389.46L373.4 386.67A9.04 9.04 0 0 0 373.16 387.58Z"/><path d="M382 389.46L376.69 388.33A5.42 5.42 0 0 0 376.6 388.89Z"/><path d="M382 389.46L378.4 389.08A3.62 3.62 0 0 0 378.38 389.46Z"/><path d="M382 389.46L379.29 389.46A2.71 2.71 0 0 0 379.3 389.74Z"/><path d="M382 389.46L379.3 389.74A2.71 2.71 0 0 0 379.35 390.02Z"/><path d="M382 389.46L379.35 390.02A2.71 2.71 0 0 0 379.42 390.3Z"/><path d="M382 389.46L379.42 390.3A2.71 2.71 0 0 0 379.52 390.56Z"/><path d="M382 389.46L379.52 390.56A2.71 2.71 0 0 0 379.65 390.82Z"/><path d="M382 389.46L379.65 390.82A2.71 2.71 0 0 0 379.81 391.05Z"/><path d="M382 389.46L379.81 391.05A2.71 2.71 0 0 0 379.98 391.28Z"/></g>
<g fill="none" stroke="#380000" stroke-width="0.65"><path d="M382 389.46L400.08 389.46A18.08 18.08 0 0 0 399.98 387.57Z"/><path d="M382 389.46L390.99 388.51A9.04 9.04 0 0 0 390.84 387.58Z"/><path d="M382 389.46L397.92 386.08A16.27 16.27 0 0 0 397.48 384.43Z"/><path d="M382 389.46L387.16 387.78A5.42 5.42 0 0 0 386.96 387.25Z"/><path d="M382 389.46L386.96 387.25A5.42 5.42 0 0 0 386.7 386.75Z"/><path d="M382 389.46L386.7 386.75A5.42 5.42 0 0 0 386.39 386.27Z"/><path d="M382 389.46L386.39 386.27A5.42 5.42 0 0 0 386.03 385.83Z"/><path d="M382 389.46L379.98 391.28A2.71 2.71 0 0 0 380.18 391.48Z"/><path d="M382 389.46L379.58 392.15A3.62 3.62 0 0 0 379.87 392.39Z"/><path d="M382 389.46L379.87 392.39A3.62 3.62 0 0 0 380.19 392.59Z"/><path d="M382 389.46L380.19 392.59A3.62 3.62 0 0 0 380.53 392.76Z"/><path d="M382 389.46L380.53 392.76A3.62 3.62 0 0 0 380.88 392.9Z"/><path d="M382 389.46L380.88 392.9A3.62 3.62 0 0 0 381.25 393Z"/><path d="M382 389.46L381.25 393A3.62 3.62 0 0 0 381.62 393.06Z"/><path d="M382 389.46L381.62 393.06A3.62 3.62 0 0 0 382 393.08Z"/><path d="M382 389.46L382 393.08A3.62 3.62 0 0 0 382.38 393.06Z"/><path d="M382 389.46L382.57 394.86A5.42 5.42 0 0 0 383.13 394.77Z"/><path d="M382 389.46L383.13 394.77A5.42 5.42 0 0 0 383.68 394.62Z"/><path d="M382 389.46L386.47 403.22A14.47 14.47 0 0 0 387.88 402.68Z"/><path d="M382 389.46L400.31 430.59A45.03 45.03 0 0 0 404.51 428.45Z"/><path d="M382 389.46L423.68 461.66A83.36 83.36 0 0 0 431 456.9Z"/><path d="M382 389.46L432.91 459.54A86.62 86.62 0 0 0 439.96 453.83Z"/><path d="M382 389.46L423.14 435.15A61.48 61.48 0 0 0 427.69 430.6Z"/><path d="M382 389.46L427.69 430.6A61.48 61.48 0 0 0 431.74 425.6Z"/><path d="M382 389.46L452.22 440.48A86.8 86.8 0 0 0 457.17 432.86Z"/><path d="M382 389.46L414.89 408.45A37.98 37.98 0 0 0 416.69 404.91Z"/><path d="M382 389.46L406.78 400.49A27.12 27.12 0 0 0 407.8 397.84Z"/><path d="M382 389.46L392.32 392.81A10.85 10.85 0 0 0 392.61 391.72Z"/><path d="M382 389.46L392.61 391.72A10.85 10.85 0 0 0 392.79 390.59Z"/><path d="M382 389.46L394.59 390.78A12.66 12.66 0 0 0 394.66 389.46Z"/></g>
<circle cx="382" cy="389.46" r="18.08" fill="none" stroke="#b0b0b0" stroke-width="0.6"/>
<circle cx="382" cy="389.46" r="36.17" fill="none" stroke="#b0b0b0" stroke-width="0.6"/>
<circle cx="382" cy="389.46" r="54.25" fill="none" stroke="#b0b0b0" stroke-width="0.6"/>
<circle cx="382" cy="389.46" r="72.33" fill="none" stroke="#b0b0b0" stroke-width="0.6"/>
<circle cx="382" cy="389.46" r="90.42" fill="none" stroke="#b0b0b0" stroke-width="0.6"/>
<path d="M490.5 389.46L273.5 389.46M458.72 312.74L305.28 466.18M382 280.96L382 497.96M305.28 312.74L458.72 466.18" stroke="#b0b0b0" stroke-width="0.75"/>
</g>
<circle cx="382" cy="389.46" r="108.5" fill="none" stroke="#474747" stroke-width="0.95"/>
<text class="t" x="498.1" y="392.16" text-anchor="middle" textLength="8.86" lengthAdjust="spacingAndGlyphs">0°</text>
<text class="t" x="464.1" y="310.06" text-anchor="middle" textLength="13.83" lengthAdjust="spacingAndGlyphs">45°</text>
<text class="t" x="382" y="276.06" text-anchor="middle" textLength="13.83" lengthAdjust="spacingAndGlyphs">90°</text>
<text class="t" x="299.9" y="310.06" text-anchor="middle" textLength="18.79" lengthAdjust="spacingAndGlyphs">135°</text>
<text class="t" x="265.9" y="392.16" text-anchor="middle" textLength="18.79" lengthAdjust="spacingAndGlyphs">180°</text>
<text class="t" x="299.9" y="474.26" text-anchor="middle" textLength="18.79" lengthAdjust="spacingAndGlyphs">225°</text>
<text class="t" x="382" y="508.26" text-anchor="middle" textLength="18.79" lengthAdjust="spacingAndGlyphs">270°</text>
<text class="t" x="464.1" y="474.26" text-anchor="middle" textLength="18.79" lengthAdjust="spacingAndGlyphs">315°</text>
<text class="t" x="398.51" y="380.74" textLength="9.93" lengthAdjust="spacingAndGlyphs">10</text>
<text class="t" x="415.21" y="373.82" textLength="9.93" lengthAdjust="spacingAndGlyphs">20</text>
<text class="t" x="431.92" y="366.9" textLength="9.93" lengthAdjust="spacingAndGlyphs">30</text>
<text class="t" x="448.63" y="359.98" textLength="9.93" lengthAdjust="spacingAndGlyphs">40</text>
<text class="t" x="465.33" y="353.06" textLength="9.93" lengthAdjust="spacingAndGlyphs">50</text>
<text class="ti" x="273.4" y="266.76" textLength="48.7" lengthAdjust="spacingAndGlyphs">P5:Earth</text>
<clipPath id="c5"><circle cx="638" cy="389.46" r="108.5"/></clipPath>
<g clip-path="url(#c5)">
<circle cx="638" cy="389.46" r="108.5" fill="#ffcccc"/>
<polygon points="753.08,274.38 587.45,200.81 449.35,338.91 522.92,504.54 638,389.46" fill="#ccccff"/>
<g fill="none" stroke="#000038" stroke-width="0.65"><path d="M638 389.46L640.92 386.63A4.07 4.07 0 0 0 640.65 386.37Z"/><path d="M638 389.46L640.65 386.37A4.07 4.07 0 0 0 640.35 386.14Z"/><path d="M638 389.46L640.35 386.14A4.07 4.07 0 0 0 640.03 385.94Z"/><path d="M638 389.46L640.03 385.94A4.07 4.07 0 0 0 639.7 385.76Z"/><path d="M638 389.46L639.7 385.76A4.07 4.07 0 0 0 639.35 385.62Z"/><path d="M638 389.46L639.35 385.62A4.07 4.07 0 0 0 638.99 385.51Z"/><path d="M638 389.46L639.65 382.88A6.78 6.78 0 0 0 639.04 382.76Z"/><path d="M638 389.46L639.45 380.08A9.49 9.49 0 0 0 638.58 379.98Z"/><path d="M638 389.46L638.75 377.28A12.21 12.21 0 0 0 637.62 377.26Z"/><path d="M638 389.46L637.57 375.9A13.56 13.56 0 0 0 636.32 376Z"/><path d="M638 389.46L635.07 365.91A23.73 23.73 0 0 0 632.9 366.28Z"/><path d="M638 389.46L637.13 385.49A4.07 4.07 0 0 0 636.76 385.58Z"/><path d="M638 389.46L617.55 325.37A67.27 67.27 0 0 0 611.72 327.54Z"/><path d="M638 389.46L621.04 349.51A43.4 43.4 0 0 0 617.42 351.25Z"/><path d="M638 389.46L611.25 339.78A56.42 56.42 0 0 0 606.78 342.47Z"/><path d="M638 389.46L601.3 334.22A66.32 66.32 0 0 0 596.35 337.85Z"/><path d="M638 389.46L583.66 322.12A86.53 86.53 0 0 0 577.68 327.43Z"/><path d="M638 389.46L589.02 339.09A70.25 70.25 0 0 0 584.58 343.83Z"/><path d="M638 389.46L590.77 349.12A62.12 62.12 0 0 0 587.24 353.65Z"/><path d="M638 389.46L603.87 365.38A41.77 41.77 0 0 0 601.79 368.64Z"/><path d="M638 389.46L617.07 377.43A24.14 24.14 0 0 0 616.05 379.41Z"/><path d="M638 389.46L614.57 378.73A25.77 25.77 0 0 0 613.68 380.94Z"/><path d="M638 389.46L613.68 380.94A25.77 25.77 0 0 0 613 383.23Z"/><path d="M638 389.46L610.5 382.6A28.35 28.35 0 0 0 609.98 385.17Z"/><path d="M638 389.46L609.31 385.07A29.02 29.02 0 0 0 609.03 387.74Z"/><path d="M638 389.46L609.03 387.74A29.02 29.02 0 0 0 608.99 390.42Z"/><path d="M638 389.46L629.87 389.73A8.14 8.14 0 0 0 629.93 390.48Z"/><path d="M638 389.46L632.62 390.14A5.42 5.42 0 0 0 632.7 390.63Z"/><path d="M638 389.46L634.03 390.34A4.07 4.07 0 0 0 634.13 390.7Z"/><path d="M638 389.46L634.13 390.7A4.07 4.07 0 0 0 634.26 391.06Z"/><path d="M638 389.46L634.26 391.06A4.07 4.07 0 0 0 634.42 391.4Z"/><path d="M638 389.46L634.42 391.4A4.07 4.07 0 0 0 634.61 391.72Z"/><path d="M638 389.46L634.61 391.72A4.07 4.07 0 0 0 634.84 392.02Z"/><path d="M638 389.46L634.84 392.02A4.07 4.07 0 0 0 635.09 392.3Z"/></g>
<g fill="none" stroke="#380000" stroke-width="0.65"><path d="M638 389.46L642.06 389.72A4.07 4.07 0 0 0 642.07 389.34Z"/><path d="M638 389.46L642.07 389.34A4.07 4.07 0 0 0 642.04 388.96Z"/><path d="M638 389.46L642.04 388.96A4.07 4.07 0 0 0 641.98 388.59Z"/><path d="M638 389.46L641.98 388.59A4.07 4.07 0 0 0 641.88 388.23Z"/><path d="M638 389.46L641.88 388.23A4.07 4.07 0 0 0 641.75 387.88Z"/><path d="M638 389.46L641.75 387.88A4.07 4.07 0 0 0 641.59 387.54Z"/><path d="M638 389.46L641.59 387.54A4.07 4.07 0 0 0 641.39 387.21Z"/><path d="M638 389.46L641.39 387.21A4.07 4.07 0 0 0 641.17 386.91Z"/><path d="M638 389.46L641.17 386.91A4.07 4.07 0 0 0 640.92 386.63Z"/><path d="M638 389.46L635.09 392.3A4.07 4.07 0 0 0 635.36 392.56Z"/><path d="M638 389.46L635.36 392.56A4.07 4.07 0 0 0 635.66 392.79Z"/><path d="M638 389.46L635.66 392.79A4.07 4.07 0 0 0 635.98 392.99Z"/><path d="M638 389.46L635.98 392.99A4.07 4.07 0 0 0 636.31 393.16Z"/><path d="M638 389.46L636.31 393.16A4.07 4.07 0 0 0 636.66 393.3Z"/><path d="M638 389.46L636.66 393.3A4.07 4.07 0 0 0 637.02 393.41Z"/><path d="M638 389.46L637.02 393.41A4.07 4.07 0 0 0 637.39 393.48Z"/><path d="M638 389.46L637.39 393.48A4.07 4.07 0 0 0 637.77 393.52Z"/><path d="M638 389.46L637.77 393.52A4.07 4.07 0 0 0 638.14 393.53Z"/><path d="M638 389.46L638.45 402.34A12.88 12.88 0 0 0 639.64 402.24Z"/><path d="M638 389.46L640.07 405.6A16.27 16.27 0 0 0 641.55 405.34Z"/><path d="M638 389.46L641.93 407.06A18.04 18.04 0 0 0 643.54 406.62Z"/><path d="M638 389.46L641.33 399.78A10.85 10.85 0 0 0 642.27 399.43Z"/><path d="M638 389.46L639.6 393.2A4.07 4.07 0 0 0 639.94 393.04Z"/><path d="M638 389.46L639.94 393.04A4.07 4.07 0 0 0 640.26 392.84Z"/><path d="M638 389.46L640.26 392.84A4.07 4.07 0 0 0 640.57 392.62Z"/><path d="M638 389.46L640.57 392.62A4.07 4.07 0 0 0 640.85 392.37Z"/><path d="M638 389.46L640.85 392.37A4.07 4.07 0 0 0 641.1 392.09Z"/><path d="M638 389.46L641.1 392.09A4.07 4.07 0 0 0 641.33 391.79Z"/><path d="M638 389.46L641.33 391.79A4.07 4.07 0 0 0 641.53 391.48Z"/><path d="M638 389.46L645.07 393.49A8.14 8.14 0 0 0 645.41 392.82Z"/><path d="M638 389.46L653.32 396.41A16.82 16.82 0 0 0 653.89 394.96Z"/><path d="M638 389.46L650.82 393.9A13.56 13.56 0 0 0 651.17 392.7Z"/><path d="M638 389.46L641.95 390.43A4.07 4.07 0 0 0 642.02 390.06Z"/><path d="M638 389.46L642.02 390.06A4.07 4.07 0 0 0 642.06 389.69Z"/><path d="M638 389.46L642.06 389.69A4.07 4.07 0 0 0 642.07 389.31Z"/></g>
<circle cx="638" cy="389.46" r="13.56" fill="none" stroke="#b0b0b0" stroke-width="0.6"/>
<circle cx="638" cy="389.46" r="27.12" fill="none" stroke="#b0b0b0" stroke-width="0.6"/>
<circle cx="638" cy="389.46" r="40.69" fill="none" stroke="#b0b0b0" stroke-width="0.6"/>
<circle cx="638" cy="389.46" r="54.25" fill="none" stroke="#b0b0b0" stroke-width="0.6"/>
<circle cx="638" cy="389.46" r="67.81" fill="none" stroke="#b0b0b0" stroke-width="0.6"/>
<circle cx="638" cy="389.46" r="81.38" fill="none" stroke="#b0b0b0" stroke-width="0.6"/>
<circle cx="638" cy="389.46" r="94.94" fill="none" stroke="#b0b0b0" stroke-width="0.6"/>
<path d="M746.5 389.46L529.5 389.46M714.72 312.74L561.28 466.18M638 280.96L638 497.96M561.28 312.74L714.72 466.18" stroke="#b0b0b0" stroke-width="0.75"/>
</g>
<circle cx="638" cy="389.46" r="108.5" fill="none" stroke="#474747" stroke-width="0.95"/>
<text class="t" x="754.1" y="392.16" text-anchor="middle" textLength="8.86" lengthAdjust="spacingAndGlyphs">0°</text>
<text class="t" x="720.1" y="310.06" text-anchor="middle" textLength="13.83" lengthAdjust="spacingAndGlyphs">45°</text>
<text class="t" x="638" y="276.06" text-anchor="middle" textLength="13.83" lengthAdjust="spacingAndGlyphs">90°</text>
<text class="t" x="555.9" y="310.06" text-anchor="middle" textLength="18.79" lengthAdjust="spacingAndGlyphs">135°</text>
<text class="t" x="521.9" y="392.16" text-anchor="middle" textLength="18.79" lengthAdjust="spacingAndGlyphs">180°</text>
<text class="t" x="555.9" y="474.26" text-anchor="middle" textLength="18.79" lengthAdjust="spacingAndGlyphs">225°</text>
<text class="t" x="638" y="508.26" text-anchor="middle" textLength="18.79" lengthAdjust="spacingAndGlyphs">270°</text>
<text class="t" x="720.1" y="474.26" text-anchor="middle" textLength="18.79" lengthAdjust="spacingAndGlyphs">315°</text>
<text class="t" x="650.33" y="382.47" textLength="9.93" lengthAdjust="spacingAndGlyphs">10</text>
<text class="t" x="662.86" y="377.28" textLength="9.93" lengthAdjust="spacingAndGlyphs">20</text>
<text class="t" x="675.39" y="372.09" textLength="9.93" lengthAdjust="spacingAndGlyphs">30</text>
<text class="t" x="687.92" y="366.9" textLength="9.93" lengthAdjust="spacingAndGlyphs">40</text>
<text class="t" x="700.45" y="361.71" textLength="9.93" lengthAdjust="spacingAndGlyphs">50</text>
<text class="t" x="712.98" y="356.52" textLength="9.93" lengthAdjust="spacingAndGlyphs">60</text>
<text class="t" x="725.51" y="351.33" textLength="9.93" lengthAdjust="spacingAndGlyphs">70</text>
<text class="ti" x="529.4" y="266.76" textLength="74.25" lengthAdjust="spacingAndGlyphs">P5:STEREO-A</text>
<clipPath id="c6"><circle cx="894.45" cy="389.46" r="108.5"/></clipPath>
<g clip-path="url(#c6)">
<circle cx="894.45" cy="389.46" r="108.5" fill="#ffcccc"/>
<polygon points="961.68,241.25 780.76,230.66 700.08,408.52 827.22,537.67 894.45,389.46" fill="#ccccff"/>
<g fill="none" stroke="#000038" stroke-width="0.65"><path d="M894.45 389.46L895.8 386.67A3.1 3.1 0 0 0 895.51 386.55Z"/><path d="M894.45 389.46L895.51 386.55A3.1 3.1 0 0 0 895.21 386.46Z"/><path d="M894.45 389.46L895.21 386.46A3.1 3.1 0 0 0 894.91 386.39Z"/><path d="M894.45 389.46L894.91 386.39A3.1 3.1 0 0 0 894.6 386.36Z"/><path d="M894.45 389.46L894.6 386.36A3.1 3.1 0 0 0 894.29 386.36Z"/><path d="M894.45 389.46L894.29 386.36A3.1 3.1 0 0 0 893.98 386.4Z"/><path d="M894.45 389.46L893.98 386.4A3.1 3.1 0 0 0 893.67 386.46Z"/><path d="M894.45 389.46L892.51 381.96A7.75 7.75 0 0 0 891.77 382.19Z"/><path d="M894.45 389.46L889.25 375.35A15.04 15.04 0 0 0 887.86 375.95Z"/><path d="M894.45 389.46L890.37 381.1A9.3 9.3 0 0 0 889.56 381.55Z"/><path d="M894.45 389.46L892.82 386.82A3.1 3.1 0 0 0 892.56 387Z"/><path d="M894.45 389.46L889.73 383.31A7.75 7.75 0 0 0 889.14 383.82Z"/><path d="M894.45 389.46L876.61 370.49A26.04 26.04 0 0 0 874.8 372.38Z"/><path d="M894.45 389.46L892.11 387.43A3.1 3.1 0 0 0 891.92 387.67Z"/><path d="M894.45 389.46L891.92 387.67A3.1 3.1 0 0 0 891.75 387.93Z"/><path d="M894.45 389.46L891.75 387.93A3.1 3.1 0 0 0 891.61 388.21Z"/><path d="M894.45 389.46L891.61 388.21A3.1 3.1 0 0 0 891.5 388.5Z"/><path d="M894.45 389.46L891.5 388.5A3.1 3.1 0 0 0 891.42 388.8Z"/><path d="M894.45 389.46L891.42 388.8A3.1 3.1 0 0 0 891.37 389.11Z"/><path d="M894.45 389.46L891.37 389.11A3.1 3.1 0 0 0 891.35 389.42Z"/><path d="M894.45 389.46L891.35 389.42A3.1 3.1 0 0 0 891.36 389.73Z"/><path d="M894.45 389.46L891.36 389.73A3.1 3.1 0 0 0 891.4 390.04Z"/><path d="M894.45 389.46L891.4 390.04A3.1 3.1 0 0 0 891.48 390.34Z"/><path d="M894.45 389.46L891.48 390.34A3.1 3.1 0 0 0 891.58 390.63Z"/><path d="M894.45 389.46L891.58 390.63A3.1 3.1 0 0 0 891.71 390.92Z"/><path d="M894.45 389.46L891.71 390.92A3.1 3.1 0 0 0 891.87 391.18Z"/><path d="M894.45 389.46L891.87 391.18A3.1 3.1 0 0 0 892.06 391.43Z"/><path d="M894.45 389.46L892.06 391.43A3.1 3.1 0 0 0 892.27 391.66Z"/><path d="M894.45 389.46L892.27 391.66A3.1 3.1 0 0 0 892.5 391.87Z"/><path d="M894.45 389.46L892.5 391.87A3.1 3.1 0 0 0 892.75 392.05Z"/><path d="M894.45 389.46L892.75 392.05A3.1 3.1 0 0 0 893.02 392.21Z"/><path d="M894.45 389.46L893.02 392.21A3.1 3.1 0 0 0 893.3 392.34Z"/></g>
<g fill="none" stroke="#380000" stroke-width="0.65"><path d="M894.45 389.46L900.63 389.97A6.2 6.2 0 0 0 900.65 389.35Z"/><path d="M894.45 389.46L902.2 389.32A7.75 7.75 0 0 0 902.15 388.55Z"/><path d="M894.45 389.46L900.61 388.73A6.2 6.2 0 0 0 900.5 388.12Z"/><path d="M894.45 389.46L900.5 388.12A6.2 6.2 0 0 0 900.34 387.52Z"/><path d="M894.45 389.46L900.34 387.52A6.2 6.2 0 0 0 900.11 386.94Z"/><path d="M894.45 389.46L900.11 386.94A6.2 6.2 0 0 0 899.83 386.38Z"/><path d="M894.45 389.46L899.83 386.38A6.2 6.2 0 0 0 899.5 385.86Z"/><path d="M894.45 389.46L905.55 381.54A13.64 13.64 0 0 0 904.71 380.47Z"/><path d="M894.45 389.46L899.11 385.37A6.2 6.2 0 0 0 898.68 384.93Z"/><path d="M894.45 389.46L898.68 384.93A6.2 6.2 0 0 0 898.2 384.52Z"/><path d="M894.45 389.46L898.2 384.52A6.2 6.2 0 0 0 897.69 384.17Z"/><path d="M894.45 389.46L897.69 384.17A6.2 6.2 0 0 0 897.14 383.88Z"/><path d="M894.45 389.46L892.15 395.22A6.2 6.2 0 0 0 892.74 395.42Z"/><path d="M894.45 389.46L892.74 395.42A6.2 6.2 0 0 0 893.35 395.56Z"/><path d="M894.45 389.46L893.35 395.56A6.2 6.2 0 0 0 893.96 395.64Z"/><path d="M894.45 389.46L893.96 395.64A6.2 6.2 0 0 0 894.59 395.66Z"/><path d="M894.45 389.46L894.59 395.66A6.2 6.2 0 0 0 895.21 395.61Z"/><path d="M894.45 389.46L895.21 395.61A6.2 6.2 0 0 0 895.82 395.51Z"/><path d="M894.45 389.46L896.84 400.04A10.85 10.85 0 0 0 897.89 399.75Z"/><path d="M894.45 389.46L897.4 398.28A9.3 9.3 0 0 0 898.27 397.94Z"/><path d="M894.45 389.46L898.91 399.35A10.85 10.85 0 0 0 899.88 398.86Z"/><path d="M894.45 389.46L899.1 397.51A9.3 9.3 0 0 0 899.88 397.01Z"/><path d="M894.45 389.46L901.69 399.52A12.4 12.4 0 0 0 902.67 398.75Z"/><path d="M894.45 389.46L916.84 414.77A33.79 33.79 0 0 0 919.26 412.4Z"/><path d="M894.45 389.46L916.08 409.45A29.45 29.45 0 0 0 917.97 407.18Z"/><path d="M894.45 389.46L911.78 402.52A21.7 21.7 0 0 0 913 400.72Z"/><path d="M894.45 389.46L936.72 415.11A49.45 49.45 0 0 0 939.08 410.75Z"/><path d="M894.45 389.46L977.83 429.23A92.38 92.38 0 0 0 981.4 420.68Z"/><path d="M894.45 389.46L952.95 410.46A62.16 62.16 0 0 0 954.76 404.5Z"/><path d="M894.45 389.46L930.24 398.38A36.89 36.89 0 0 0 930.96 394.75Z"/><path d="M894.45 389.46L918.53 392.95A24.34 24.34 0 0 0 918.76 390.52Z"/><path d="M894.45 389.46L905.29 389.93A10.85 10.85 0 0 0 905.28 388.84Z"/></g>
<circle cx="894.45" cy="389.46" r="15.5" fill="none" stroke="#b0b0b0" stroke-width="0.6"/>
<circle cx="894.45" cy="389.46" r="31" fill="none" stroke="#b0b0b0" stroke-width="0.6"/>
<circle cx="894.45" cy="389.46" r="46.5" fill="none" stroke="#b0b0b0" stroke-width="0.6"/>
<circle cx="894.45" cy="389.46" r="62" fill="none" stroke="#b0b0b0" stroke-width="0.6"/>
<circle cx="894.45" cy="389.46" r="77.5" fill="none" stroke="#b0b0b0" stroke-width="0.6"/>
<circle cx="894.45" cy="389.46" r="93" fill="none" stroke="#b0b0b0" stroke-width="0.6"/>
<path d="M1002.95 389.46L785.95 389.46M971.17 312.74L817.73 466.18M894.45 280.96L894.45 497.96M817.73 312.74L971.17 466.18" stroke="#b0b0b0" stroke-width="0.75"/>
</g>
<circle cx="894.45" cy="389.46" r="108.5" fill="none" stroke="#474747" stroke-width="0.95"/>
<text class="t" x="1010.55" y="392.16" text-anchor="middle" textLength="8.86" lengthAdjust="spacingAndGlyphs">0°</text>
<text class="t" x="976.55" y="310.06" text-anchor="middle" textLength="13.83" lengthAdjust="spacingAndGlyphs">45°</text>
<text class="t" x="894.45" y="276.06" text-anchor="middle" textLength="13.83" lengthAdjust="spacingAndGlyphs">90°</text>
<text class="t" x="812.35" y="310.06" text-anchor="middle" textLength="18.79" lengthAdjust="spacingAndGlyphs">135°</text>
<text class="t" x="778.35" y="392.16" text-anchor="middle" textLength="18.79" lengthAdjust="spacingAndGlyphs">180°</text>
<text class="t" x="812.35" y="474.26" text-anchor="middle" textLength="18.79" lengthAdjust="spacingAndGlyphs">225°</text>
<text class="t" x="894.45" y="508.26" text-anchor="middle" textLength="18.79" lengthAdjust="spacingAndGlyphs">270°</text>
<text class="t" x="976.55" y="474.26" text-anchor="middle" textLength="18.79" lengthAdjust="spacingAndGlyphs">315°</text>
<text class="t" x="908.57" y="381.73" textLength="9.93" lengthAdjust="spacingAndGlyphs">10</text>
<text class="t" x="922.89" y="375.8" textLength="9.93" lengthAdjust="spacingAndGlyphs">20</text>
<text class="t" x="937.21" y="369.87" textLength="9.93" lengthAdjust="spacingAndGlyphs">30</text>
<text class="t" x="951.53" y="363.93" textLength="9.93" lengthAdjust="spacingAndGlyphs">40</text>
<text class="t" x="965.85" y="358" textLength="9.93" lengthAdjust="spacingAndGlyphs">50</text>
<text class="t" x="980.17" y="352.07" textLength="9.93" lengthAdjust="spacingAndGlyphs">60</text>
<text class="ti" x="785.85" y="266.76" textLength="44.29" lengthAdjust="spacingAndGlyphs">P5:SolO</text>
<clipPath id="c7"><circle cx="125.65" cy="646" r="108.5"/></clipPath>
<g clip-path="url(#c7)">
<circle cx="125.65" cy="646" r="108.5" fill="#ffcccc"/>
<polygon points="181.31,493.07 0.11,496.39 -66.68,679.91 69.99,798.93 125.65,646" fill="#ccccff"/>
<g fill="none" stroke="#000038" stroke-width="0.65"><path d="M125.65 646L129 635.68A10.85 10.85 0 0 0 127.91 635.39Z"/><path d="M125.65 646L129 630.26A16.09 16.09 0 0 0 127.33 629.99Z"/><path d="M125.65 646L126.78 635.21A10.85 10.85 0 0 0 125.65 635.15Z"/><path d="M125.65 646L125.65 633.34A12.66 12.66 0 0 0 124.33 633.41Z"/><path d="M125.65 646L123.99 630.17A15.91 15.91 0 0 0 122.34 630.43Z"/><path d="M125.65 646L122.64 631.85A14.47 14.47 0 0 0 121.18 632.24Z"/><path d="M125.65 646L120.62 630.52A16.27 16.27 0 0 0 119.03 631.13Z"/><path d="M125.65 646L116.68 625.85A22.06 22.06 0 0 0 114.62 626.89Z"/><path d="M125.65 646L112.99 624.08A25.32 25.32 0 0 0 110.77 625.52Z"/><path d="M125.65 646L100.57 611.47A42.68 42.68 0 0 0 97.09 614.29Z"/><path d="M125.65 646L103.87 621.81A32.55 32.55 0 0 0 101.46 624.22Z"/><path d="M125.65 646L95.01 618.41A41.23 41.23 0 0 0 92.29 621.77Z"/><path d="M125.65 646L91.71 621.34A41.95 41.95 0 0 0 89.32 625.02Z"/><path d="M125.65 646L97.46 629.73A32.55 32.55 0 0 0 95.91 632.76Z"/><path d="M125.65 646L85.34 628.05A44.12 44.12 0 0 0 83.69 632.37Z"/><path d="M125.65 646L66.32 626.72A62.39 62.39 0 0 0 64.63 633.03Z"/><path d="M125.65 646L43.22 628.48A84.27 84.27 0 0 0 41.84 637.19Z"/><path d="M125.65 646L40.22 637.02A85.9 85.9 0 0 0 39.75 646Z"/><path d="M125.65 646L82.79 646A42.86 42.86 0 0 0 83.03 650.48Z"/><path d="M125.65 646L95.62 649.16A30.2 30.2 0 0 0 96.11 652.28Z"/><path d="M125.65 646L106.72 650.02A19.35 19.35 0 0 0 107.25 651.98Z"/><path d="M125.65 646L115.33 649.35A10.85 10.85 0 0 0 115.74 650.41Z"/><path d="M125.65 646L120.69 648.21A5.42 5.42 0 0 0 120.95 648.71Z"/><path d="M125.65 646L120.95 648.71A5.42 5.42 0 0 0 121.26 649.19Z"/><path d="M125.65 646L121.26 649.19A5.42 5.42 0 0 0 121.62 649.63Z"/><path d="M125.65 646L121.62 649.63A5.42 5.42 0 0 0 122.02 650.03Z"/><path d="M125.65 646L122.02 650.03A5.42 5.42 0 0 0 122.46 650.39Z"/><path d="M125.65 646L122.46 650.39A5.42 5.42 0 0 0 122.94 650.7Z"/><path d="M125.65 646L122.94 650.7A5.42 5.42 0 0 0 123.44 650.96Z"/><path d="M125.65 646L123.44 650.96A5.42 5.42 0 0 0 123.97 651.16Z"/></g>
<g fill="none" stroke="#380000" stroke-width="0.65"><path d="M125.65 646L154.58 646A28.93 28.93 0 0 0 154.42 642.98Z"/><path d="M125.65 646L143.63 644.11A18.08 18.08 0 0 0 143.34 642.24Z"/><path d="M125.65 646L142.81 642.35A17.54 17.54 0 0 0 142.33 640.58Z"/><path d="M125.65 646L139.58 641.47A14.65 14.65 0 0 0 139.03 640.04Z"/><path d="M125.65 646L138.87 640.12A14.47 14.47 0 0 0 138.18 638.77Z"/><path d="M125.65 646L138.18 638.77A14.47 14.47 0 0 0 137.35 637.5Z"/><path d="M125.65 646L134.43 639.62A10.85 10.85 0 0 0 133.71 638.74Z"/><path d="M125.65 646L133.71 638.74A10.85 10.85 0 0 0 132.91 637.94Z"/><path d="M125.65 646L129.28 641.97A5.42 5.42 0 0 0 128.84 641.61Z"/><path d="M125.65 646L128.84 641.61A5.42 5.42 0 0 0 128.36 641.3Z"/><path d="M125.65 646L128.36 641.3A5.42 5.42 0 0 0 127.86 641.04Z"/><path d="M125.65 646L127.86 641.04A5.42 5.42 0 0 0 127.33 640.84Z"/><path d="M125.65 646L123.97 651.16A5.42 5.42 0 0 0 124.52 651.31Z"/><path d="M125.65 646L124.52 651.31A5.42 5.42 0 0 0 125.08 651.4Z"/><path d="M125.65 646L125.08 651.4A5.42 5.42 0 0 0 125.65 651.42Z"/><path d="M125.65 646L125.65 651.42A5.42 5.42 0 0 0 126.22 651.4Z"/><path d="M125.65 646L126.22 651.4A5.42 5.42 0 0 0 126.78 651.31Z"/><path d="M125.65 646L126.78 651.31A5.42 5.42 0 0 0 127.33 651.16Z"/><path d="M125.65 646L129 656.32A10.85 10.85 0 0 0 130.06 655.91Z"/><path d="M125.65 646L130.06 655.91A10.85 10.85 0 0 0 131.08 655.4Z"/><path d="M125.65 646L132.88 658.53A14.47 14.47 0 0 0 134.15 657.7Z"/><path d="M125.65 646L134.15 657.7A14.47 14.47 0 0 0 135.33 656.75Z"/><path d="M125.65 646L135.33 656.75A14.47 14.47 0 0 0 136.4 655.68Z"/><path d="M125.65 646L136.4 655.68A14.47 14.47 0 0 0 137.35 654.5Z"/><path d="M125.65 646L137.35 654.5A14.47 14.47 0 0 0 138.18 653.23Z"/><path d="M125.65 646L146.17 657.84A23.69 23.69 0 0 0 147.29 655.64Z"/><path d="M125.65 646L143.82 654.09A19.89 19.89 0 0 0 144.57 652.15Z"/><path d="M125.65 646L173.98 661.7A50.81 50.81 0 0 0 175.35 656.56Z"/><path d="M125.65 646L166.33 654.65A41.59 41.59 0 0 0 167.01 650.35Z"/><path d="M125.65 646L147.23 648.27A21.7 21.7 0 0 0 147.35 646Z"/></g>
<circle cx="125.65" cy="646" r="18.08" fill="none" stroke="#b0b0b0" stroke-width="0.6"/>
<circle cx="125.65" cy="646" r="36.17" fill="none" stroke="#b0b0b0" stroke-width="0.6"/>
<circle cx="125.65" cy="646" r="54.25" fill="none" stroke="#b0b0b0" stroke-width="0.6"/>
<circle cx="125.65" cy="646" r="72.33" fill="none" stroke="#b0b0b0" stroke-width="0.6"/>
<circle cx="125.65" cy="646" r="90.42" fill="none" stroke="#b0b0b0" stroke-width="0.6"/>
<path d="M234.15 646L17.15 646M202.37 569.28L48.93 722.72M125.65 537.5L125.65 754.5M48.93 569.28L202.37 722.72" stroke="#b0b0b0" stroke-width="0.75"/>
</g>
<circle cx="125.65" cy="646" r="108.5" fill="none" stroke="#474747" stroke-width="0.95"/>
<text class="t" x="241.75" y="648.7" text-anchor="middle" textLength="8.86" lengthAdjust="spacingAndGlyphs">0°</text>
<text class="t" x="207.75" y="566.6" text-anchor="middle" textLength="13.83" lengthAdjust="spacingAndGlyphs">45°</text>
<text class="t" x="125.65" y="532.6" text-anchor="middle" textLength="13.83" lengthAdjust="spacingAndGlyphs">90°</text>
<text class="t" x="43.55" y="566.6" text-anchor="middle" textLength="18.79" lengthAdjust="spacingAndGlyphs">135°</text>
<text class="t" x="9.55" y="648.7" text-anchor="middle" textLength="18.79" lengthAdjust="spacingAndGlyphs">180°</text>
<text class="t" x="43.55" y="730.8" text-anchor="middle" textLength="18.79" lengthAdjust="spacingAndGlyphs">225°</text>
<text class="t" x="125.65" y="764.8" text-anchor="middle" textLength="18.79" lengthAdjust="spacingAndGlyphs">270°</text>
<text class="t" x="207.75" y="730.8" text-anchor="middle" textLength="18.79" lengthAdjust="spacingAndGlyphs">315°</text>
<text class="t" x="142.16" y="637.28" textLength="9.93" lengthAdjust="spacingAndGlyphs">10</text>
<text class="t" x="158.86" y="630.36" textLength="9.93" lengthAdjust="spacingAndGlyphs">20</text>
<text class="t" x="175.57" y="623.44" textLength="9.93" lengthAdjust="spacingAndGlyphs">30</text>
<text class="t" x="192.28" y="616.52" textLength="9.93" lengthAdjust="spacingAndGlyphs">40</text>
<text class="t" x="208.98" y="609.6" textLength="9.93" lengthAdjust="spacingAndGlyphs">50</text>
<text class="ti" x="17.05" y="523.3" textLength="40.15" lengthAdjust="spacingAndGlyphs">P6:PSP</text>
<clipPath id="c8"><circle cx="382" cy="646" r="108.5"/></clipPath>
<g clip-path="url(#c8)">
<circle cx="382" cy="646" r="108.5" fill="#ffcccc"/>
<polygon points="497.08,530.92 331.45,457.35 193.35,595.45 266.92,761.08 382,646" fill="#ccccff"/>
<g fill="none" stroke="#000038" stroke-width="0.65"><path d="M382 646L384.3 643.93A3.1 3.1 0 0 0 384.07 643.7Z"/><path d="M382 646L384.07 643.7A3.1 3.1 0 0 0 383.82 643.49Z"/><path d="M382 646L383.82 643.49A3.1 3.1 0 0 0 383.55 643.32Z"/><path d="M382 646L383.55 643.32A3.1 3.1 0 0 0 383.26 643.17Z"/><path d="M382 646L383.26 643.17A3.1 3.1 0 0 0 382.96 643.05Z"/><path d="M382 646L385.83 634.21A12.4 12.4 0 0 0 384.58 633.87Z"/><path d="M382 646L390.57 605.67A41.23 41.23 0 0 0 386.31 605Z"/><path d="M382 646L389.61 573.55A72.85 72.85 0 0 0 382 573.15Z"/><path d="M382 646L382 600.12A45.88 45.88 0 0 0 377.2 600.37Z"/><path d="M382 646L378.61 613.78A32.39 32.39 0 0 0 375.26 614.31Z"/><path d="M382 646L375.07 613.4A33.33 33.33 0 0 0 371.7 614.31Z"/><path d="M382 646L374.82 623.89A23.25 23.25 0 0 0 372.54 624.76Z"/><path d="M382 646L370.78 620.8A27.59 27.59 0 0 0 368.2 622.11Z"/><path d="M382 646L375.8 635.26A12.4 12.4 0 0 0 374.71 635.97Z"/><path d="M382 646L376.53 638.48A9.3 9.3 0 0 0 375.78 639.09Z"/><path d="M382 646L379.93 643.7A3.1 3.1 0 0 0 379.7 643.93Z"/><path d="M382 646L379.7 643.93A3.1 3.1 0 0 0 379.49 644.18Z"/><path d="M382 646L379.49 644.18A3.1 3.1 0 0 0 379.32 644.45Z"/><path d="M382 646L379.32 644.45A3.1 3.1 0 0 0 379.17 644.74Z"/><path d="M382 646L379.17 644.74A3.1 3.1 0 0 0 379.05 645.04Z"/><path d="M382 646L379.05 645.04A3.1 3.1 0 0 0 378.97 645.36Z"/><path d="M382 646L378.97 645.36A3.1 3.1 0 0 0 378.92 645.68Z"/><path d="M382 646L378.92 645.68A3.1 3.1 0 0 0 378.9 646Z"/><path d="M382 646L378.9 646A3.1 3.1 0 0 0 378.92 646.32Z"/><path d="M382 646L378.92 646.32A3.1 3.1 0 0 0 378.97 646.64Z"/><path d="M382 646L378.97 646.64A3.1 3.1 0 0 0 379.05 646.96Z"/><path d="M382 646L379.05 646.96A3.1 3.1 0 0 0 379.17 647.26Z"/><path d="M382 646L379.17 647.26A3.1 3.1 0 0 0 379.32 647.55Z"/><path d="M382 646L379.32 647.55A3.1 3.1 0 0 0 379.49 647.82Z"/><path d="M382 646L379.49 647.82A3.1 3.1 0 0 0 379.7 648.07Z"/></g>
<g fill="none" stroke="#380000" stroke-width="0.65"><path d="M382 646L394.4 646A12.4 12.4 0 0 0 394.33 644.7Z"/><path d="M382 646L396.8 644.44A14.88 14.88 0 0 0 396.55 642.91Z"/><path d="M382 646L391.1 644.07A9.3 9.3 0 0 0 390.84 643.13Z"/><path d="M382 646L386.42 644.56A4.65 4.65 0 0 0 386.25 644.11Z"/><path d="M382 646L386.25 644.11A4.65 4.65 0 0 0 386.03 643.67Z"/><path d="M382 646L386.03 643.67A4.65 4.65 0 0 0 385.76 643.27Z"/><path d="M382 646L385.76 643.27A4.65 4.65 0 0 0 385.46 642.89Z"/><path d="M382 646L378.54 649.11A4.65 4.65 0 0 0 378.89 649.46Z"/><path d="M382 646L378.89 649.46A4.65 4.65 0 0 0 379.27 649.76Z"/><path d="M382 646L379.27 649.76A4.65 4.65 0 0 0 379.68 650.03Z"/><path d="M382 646L379.68 650.03A4.65 4.65 0 0 0 380.11 650.25Z"/><path d="M382 646L380.11 650.25A4.65 4.65 0 0 0 380.56 650.42Z"/><path d="M382 646L380.56 650.42A4.65 4.65 0 0 0 381.03 650.55Z"/><path d="M382 646L381.03 650.55A4.65 4.65 0 0 0 381.51 650.62Z"/><path d="M382 646L381.51 650.62A4.65 4.65 0 0 0 382 650.65Z"/><path d="M382 646L382 650.65A4.65 4.65 0 0 0 382.49 650.62Z"/><path d="M382 646L383.3 658.33A12.4 12.4 0 0 0 384.58 658.13Z"/><path d="M382 646L386.42 666.77A21.23 21.23 0 0 0 388.56 666.2Z"/><path d="M382 646L390.62 672.53A27.9 27.9 0 0 0 393.35 671.49Z"/><path d="M382 646L399.46 685.22A42.94 42.94 0 0 0 403.47 683.18Z"/><path d="M382 646L412.69 699.16A61.38 61.38 0 0 0 418.08 695.66Z"/><path d="M382 646L433.11 716.35A86.95 86.95 0 0 0 440.18 710.62Z"/><path d="M382 646L441.95 712.58A89.59 89.59 0 0 0 448.58 705.95Z"/><path d="M382 646L446.5 704.08A86.8 86.8 0 0 0 452.22 697.02Z"/><path d="M382 646L419.62 673.33A46.5 46.5 0 0 0 422.27 669.25Z"/><path d="M382 646L441.06 680.1A68.2 68.2 0 0 0 444.3 673.74Z"/><path d="M382 646L407.77 657.47A28.21 28.21 0 0 0 408.83 654.72Z"/><path d="M382 646L397.77 651.13A16.59 16.59 0 0 0 398.22 649.45Z"/><path d="M382 646L394.13 648.58A12.4 12.4 0 0 0 394.33 647.3Z"/><path d="M382 646L394.33 647.3A12.4 12.4 0 0 0 394.4 646Z"/></g>
<circle cx="382" cy="646" r="15.5" fill="none" stroke="#b0b0b0" stroke-width="0.6"/>
<circle cx="382" cy="646" r="31" fill="none" stroke="#b0b0b0" stroke-width="0.6"/>
<circle cx="382" cy="646" r="46.5" fill="none" stroke="#b0b0b0" stroke-width="0.6"/>
<circle cx="382" cy="646" r="62" fill="none" stroke="#b0b0b0" stroke-width="0.6"/>
<circle cx="382" cy="646" r="77.5" fill="none" stroke="#b0b0b0" stroke-width="0.6"/>
<circle cx="382" cy="646" r="93" fill="none" stroke="#b0b0b0" stroke-width="0.6"/>
<path d="M490.5 646L273.5 646M458.72 569.28L305.28 722.72M382 537.5L382 754.5M305.28 569.28L458.72 722.72" stroke="#b0b0b0" stroke-width="0.75"/>
</g>
<circle cx="382" cy="646" r="108.5" fill="none" stroke="#474747" stroke-width="0.95"/>
<text class="t" x="498.1" y="648.7" text-anchor="middle" textLength="8.86" lengthAdjust="spacingAndGlyphs">0°</text>
<text class="t" x="464.1" y="566.6" text-anchor="middle" textLength="13.83" lengthAdjust="spacingAndGlyphs">45°</text>
<text class="t" x="382" y="532.6" text-anchor="middle" textLength="13.83" lengthAdjust="spacingAndGlyphs">90°</text>
<text class="t" x="299.9" y="566.6" text-anchor="middle" textLength="18.79" lengthAdjust="spacingAndGlyphs">135°</text>
<text class="t" x="265.9" y="648.7" text-anchor="middle" textLength="18.79" lengthAdjust="spacingAndGlyphs">180°</text>
<text class="t" x="299.9" y="730.8" text-anchor="middle" textLength="18.79" lengthAdjust="spacingAndGlyphs">225°</text>
<text class="t" x="382" y="764.8" text-anchor="middle" textLength="18.79" lengthAdjust="spacingAndGlyphs">270°</text>
<text class="t" x="464.1" y="730.8" text-anchor="middle" textLength="18.79" lengthAdjust="spacingAndGlyphs">315°</text>
<text class="t" x="396.12" y="638.27" textLength="9.93" lengthAdjust="spacingAndGlyphs">10</text>
<text class="t" x="410.44" y="632.34" textLength="9.93" lengthAdjust="spacingAndGlyphs">20</text>
<text class="t" x="424.76" y="626.41" textLength="9.93" lengthAdjust="spacingAndGlyphs">30</text>
<text class="t" x="439.08" y="620.47" textLength="9.93" lengthAdjust="spacingAndGlyphs">40</text>
<text class="t" x="453.4" y="614.54" textLength="9.93" lengthAdjust="spacingAndGlyphs">50</text>
<text class="t" x="467.72" y="608.61" textLength="9.93" lengthAdjust="spacingAndGlyphs">60</text>
<text class="ti" x="273.4" y="523.3" textLength="48.7" lengthAdjust="spacingAndGlyphs">P6:Earth</text>
<clipPath id="c9"><circle cx="638" cy="646" r="108.5"/></clipPath>
<g clip-path="url(#c9)">
<circle cx="638" cy="646" r="108.5" fill="#ffcccc"/>
<polygon points="753.08,530.92 587.45,457.35 449.35,595.45 522.92,761.08 638,646" fill="#ccccff"/>
<g fill="none" stroke="#000038" stroke-width="0.65"><path d="M638 646L640.42 643.82A3.25 3.25 0 0 0 640.18 643.58Z"/><path d="M638 646L640.18 643.58A3.25 3.25 0 0 0 639.91 643.37Z"/><path d="M638 646L639.91 643.37A3.25 3.25 0 0 0 639.63 643.18Z"/><path d="M638 646L641.2 640.46A6.4 6.4 0 0 0 640.6 640.15Z"/><path d="M638 646L639.32 643.03A3.25 3.25 0 0 0 639.01 642.9Z"/><path d="M638 646L639.01 642.9A3.25 3.25 0 0 0 638.68 642.82Z"/><path d="M638 646L638.68 642.82A3.25 3.25 0 0 0 638.34 642.76Z"/><path d="M638 646L638.34 642.76A3.25 3.25 0 0 0 638 642.75Z"/><path d="M638 646L638 642.75A3.25 3.25 0 0 0 637.66 642.76Z"/><path d="M638 646L637.66 642.76A3.25 3.25 0 0 0 637.32 642.82Z"/><path d="M638 646L635.29 633.26A13.02 13.02 0 0 0 633.98 633.62Z"/><path d="M638 646L629.42 619.58A27.78 27.78 0 0 0 626.7 620.63Z"/><path d="M638 646L628.29 624.19A23.87 23.87 0 0 0 626.07 625.33Z"/><path d="M638 646L625.36 624.11A25.28 25.28 0 0 0 623.14 625.55Z"/><path d="M638 646L630.35 635.47A13.02 13.02 0 0 0 629.29 636.32Z"/><path d="M638 646L630.74 637.94A10.85 10.85 0 0 0 629.94 638.74Z"/><path d="M638 646L630.74 639.47A9.77 9.77 0 0 0 630.1 640.26Z"/><path d="M638 646L630.98 640.9A8.68 8.68 0 0 0 630.48 641.66Z"/><path d="M638 646L627.01 639.65A12.69 12.69 0 0 0 626.4 640.84Z"/><path d="M638 646L629.08 642.03A9.77 9.77 0 0 0 628.71 642.98Z"/><path d="M638 646L629.74 643.32A8.68 8.68 0 0 0 629.51 644.2Z"/><path d="M638 646L627.92 643.86A10.31 10.31 0 0 0 627.75 644.92Z"/><path d="M638 646L634.76 645.66A3.25 3.25 0 0 0 634.75 646Z"/><path d="M638 646L634.75 646A3.25 3.25 0 0 0 634.76 646.34Z"/><path d="M638 646L634.76 646.34A3.25 3.25 0 0 0 634.82 646.68Z"/><path d="M638 646L634.82 646.68A3.25 3.25 0 0 0 634.9 647.01Z"/><path d="M638 646L634.9 647.01A3.25 3.25 0 0 0 635.03 647.32Z"/><path d="M638 646L635.03 647.32A3.25 3.25 0 0 0 635.18 647.63Z"/><path d="M638 646L635.18 647.63A3.25 3.25 0 0 0 635.37 647.91Z"/><path d="M638 646L635.37 647.91A3.25 3.25 0 0 0 635.58 648.18Z"/></g>
<g fill="none" stroke="#380000" stroke-width="0.65"><path d="M638 646L660.46 646A22.46 22.46 0 0 0 660.34 643.65Z"/><path d="M638 646L656.34 644.07A18.45 18.45 0 0 0 656.04 642.17Z"/><path d="M638 646L647.55 643.97A9.77 9.77 0 0 0 647.29 642.98Z"/><path d="M638 646L643.16 644.32A5.42 5.42 0 0 0 642.96 643.79Z"/><path d="M638 646L642.96 643.79A5.42 5.42 0 0 0 642.7 643.29Z"/><path d="M638 646L642.7 643.29A5.42 5.42 0 0 0 642.39 642.81Z"/><path d="M638 646L642.39 642.81A5.42 5.42 0 0 0 642.03 642.37Z"/><path d="M638 646L631.63 651.74A8.57 8.57 0 0 0 632.26 652.37Z"/><path d="M638 646L634.37 650.03A5.42 5.42 0 0 0 634.81 650.39Z"/><path d="M638 646L634.81 650.39A5.42 5.42 0 0 0 635.29 650.7Z"/><path d="M638 646L635.29 650.7A5.42 5.42 0 0 0 635.79 650.96Z"/><path d="M638 646L635.79 650.96A5.42 5.42 0 0 0 636.32 651.16Z"/><path d="M638 646L636.32 651.16A5.42 5.42 0 0 0 636.87 651.31Z"/><path d="M638 646L636.87 651.31A5.42 5.42 0 0 0 637.43 651.4Z"/><path d="M638 646L637.43 651.4A5.42 5.42 0 0 0 638 651.42Z"/><path d="M638 646L638 654.68A8.68 8.68 0 0 0 638.91 654.63Z"/><path d="M638 646L639.36 658.95A13.02 13.02 0 0 0 640.71 658.74Z"/><path d="M638 646L642.04 665A19.42 19.42 0 0 0 644 664.47Z"/><path d="M638 646L644.04 664.57A19.53 19.53 0 0 0 645.94 663.84Z"/><path d="M638 646L646.83 665.82A21.7 21.7 0 0 0 648.85 664.79Z"/><path d="M638 646L650.37 667.42A24.74 24.74 0 0 0 652.54 666.01Z"/><path d="M638 646L657.58 672.95A33.31 33.31 0 0 0 660.29 670.75Z"/><path d="M638 646L702.25 717.36A96.02 96.02 0 0 0 709.36 710.25Z"/><path d="M638 646L685.89 689.12A64.45 64.45 0 0 0 690.14 683.88Z"/><path d="M638 646L675.04 672.91A45.79 45.79 0 0 0 677.65 668.89Z"/><path d="M638 646L666.19 662.27A32.55 32.55 0 0 0 667.74 659.24Z"/><path d="M638 646L665.36 658.18A29.95 29.95 0 0 0 666.48 655.25Z"/><path d="M638 646L656.57 652.04A19.53 19.53 0 0 0 657.1 650.06Z"/><path d="M638 646L656.04 649.83A18.45 18.45 0 0 0 656.34 647.93Z"/><path d="M638 646L656.34 647.93A18.45 18.45 0 0 0 656.45 646Z"/></g>
<circle cx="638" cy="646" r="21.7" fill="none" stroke="#b0b0b0" stroke-width="0.6"/>
<circle cx="638" cy="646" r="43.4" fill="none" stroke="#b0b0b0" stroke-width="0.6"/>
<circle cx="638" cy="646" r="65.1" fill="none" stroke="#b0b0b0" stroke-width="0.6"/>
<circle cx="638" cy="646" r="86.8" fill="none" stroke="#b0b0b0" stroke-width="0.6"/>
<path d="M746.5 646L529.5 646M714.72 569.28L561.28 722.72M638 537.5L638 754.5M561.28 569.28L714.72 722.72" stroke="#b0b0b0" stroke-width="0.75"/>
</g>
<circle cx="638" cy="646" r="108.5" fill="none" stroke="#474747" stroke-width="0.95"/>
<text class="t" x="754.1" y="648.7" text-anchor="middle" textLength="8.86" lengthAdjust="spacingAndGlyphs">0°</text>
<text class="t" x="720.1" y="566.6" text-anchor="middle" textLength="13.83" lengthAdjust="spacingAndGlyphs">45°</text>
<text class="t" x="638" y="532.6" text-anchor="middle" textLength="13.83" lengthAdjust="spacingAndGlyphs">90°</text>
<text class="t" x="555.9" y="566.6" text-anchor="middle" textLength="18.79" lengthAdjust="spacingAndGlyphs">135°</text>
<text class="t" x="521.9" y="648.7" text-anchor="middle" textLength="18.79" lengthAdjust="spacingAndGlyphs">180°</text>
<text class="t" x="555.9" y="730.8" text-anchor="middle" textLength="18.79" lengthAdjust="spacingAndGlyphs">225°</text>
<text class="t" x="638" y="764.8" text-anchor="middle" textLength="18.79" lengthAdjust="spacingAndGlyphs">270°</text>
<text class="t" x="720.1" y="730.8" text-anchor="middle" textLength="18.79" lengthAdjust="spacingAndGlyphs">315°</text>
<text class="t" x="657.85" y="635.9" textLength="9.93" lengthAdjust="spacingAndGlyphs">20</text>
<text class="t" x="677.9" y="627.59" textLength="9.93" lengthAdjust="spacingAndGlyphs">40</text>
<text class="t" x="697.94" y="619.29" textLength="9.93" lengthAdjust="spacingAndGlyphs">60</text>
<text class="t" x="717.99" y="610.98" textLength="9.93" lengthAdjust="spacingAndGlyphs">80</text>
<text class="ti" x="529.4" y="523.3" textLength="74.25" lengthAdjust="spacingAndGlyphs">P6:STEREO-A</text>
<clipPath id="c10"><circle cx="894.45" cy="646" r="108.5"/></clipPath>
<g clip-path="url(#c10)">
<circle cx="894.45" cy="646" r="108.5" fill="#ffcccc"/>
<polygon points="999.06,521.33 827.65,462.48 702.12,612.09 789.84,770.67 894.45,646" fill="#ccccff"/>
<g fill="none" stroke="#000038" stroke-width="0.65"><path d="M894.45 646L899.79 639.16A8.68 8.68 0 0 0 899.13 638.69Z"/><path d="M894.45 646L899.71 637.77A9.77 9.77 0 0 0 898.91 637.31Z"/><path d="M894.45 646L905.86 623.8A24.95 24.95 0 0 0 903.72 622.83Z"/><path d="M894.45 646L898.48 635.93A10.85 10.85 0 0 0 897.51 635.59Z"/><path d="M894.45 646L897.51 635.59A10.85 10.85 0 0 0 896.52 635.35Z"/><path d="M894.45 646L896.6 634.92A11.28 11.28 0 0 0 895.55 634.77Z"/><path d="M894.45 646L895.72 633.04A13.02 13.02 0 0 0 894.5 632.98Z"/><path d="M894.45 646L894.5 632.98A13.02 13.02 0 0 0 893.27 633.03Z"/><path d="M894.45 646L893.07 630.87A15.19 15.19 0 0 0 891.66 631.07Z"/><path d="M894.45 646L891.26 628.94A17.36 17.36 0 0 0 889.66 629.31Z"/><path d="M894.45 646L886.85 619.51A27.56 27.56 0 0 0 884.39 620.34Z"/><path d="M894.45 646L885.98 624.38A23.22 23.22 0 0 0 883.98 625.28Z"/><path d="M894.45 646L886.62 630.5A17.36 17.36 0 0 0 885.2 631.31Z"/><path d="M894.45 646L882.19 626.54A23 23 0 0 0 880.42 627.78Z"/><path d="M894.45 646L881.21 628.81A21.7 21.7 0 0 0 879.65 630.13Z"/><path d="M894.45 646L847.09 595.21A69.44 69.44 0 0 0 842.52 599.9Z"/><path d="M894.45 646L849.18 605.8A60.54 60.54 0 0 0 845.59 610.24Z"/><path d="M894.45 646L831.41 599.86A78.12 78.12 0 0 0 827.35 606Z"/><path d="M894.45 646L849.9 619.44A51.86 51.86 0 0 0 847.6 623.75Z"/><path d="M894.45 646L845.64 622.82A54.03 54.03 0 0 0 843.68 627.52Z"/><path d="M894.45 646L857.75 632.64A39.06 39.06 0 0 0 856.65 636.15Z"/><path d="M894.45 646L863.16 637.85A32.33 32.33 0 0 0 862.53 640.83Z"/><path d="M894.45 646L873.03 642.53A21.7 21.7 0 0 0 872.8 644.56Z"/><path d="M894.45 646L872.8 644.56A21.7 21.7 0 0 0 872.76 646.61Z"/><path d="M894.45 646L873.19 646.59A21.27 21.27 0 0 0 873.34 648.59Z"/><path d="M894.45 646L883.68 647.32A10.85 10.85 0 0 0 883.85 648.33Z"/><path d="M894.45 646L885.97 647.86A8.68 8.68 0 0 0 886.19 648.65Z"/><path d="M894.45 646L886.19 648.65A8.68 8.68 0 0 0 886.47 649.42Z"/><path d="M894.45 646L886.47 649.42A8.68 8.68 0 0 0 886.83 650.16Z"/><path d="M894.45 646L885.3 650.99A10.42 10.42 0 0 0 885.81 651.82Z"/><path d="M894.45 646L889.05 649.64A6.51 6.51 0 0 0 889.42 650.13Z"/><path d="M894.45 646L889.42 650.13A6.51 6.51 0 0 0 889.83 650.59Z"/><path d="M894.45 646L889.83 650.59A6.51 6.51 0 0 0 890.28 651Z"/></g>
<g fill="none" stroke="#380000" stroke-width="0.65"><path d="M894.45 646L898.79 646.15A4.34 4.34 0 0 0 898.78 645.74Z"/><path d="M894.45 646L900.95 645.61A6.51 6.51 0 0 0 900.88 645Z"/><path d="M894.45 646L910.96 643.44A16.71 16.71 0 0 0 910.65 641.9Z"/><path d="M894.45 646L900.76 644.4A6.51 6.51 0 0 0 900.58 643.82Z"/><path d="M894.45 646L898.54 644.54A4.34 4.34 0 0 0 898.38 644.17Z"/><path d="M894.45 646L898.38 644.17A4.34 4.34 0 0 0 898.19 643.8Z"/><path d="M894.45 646L898.19 643.8A4.34 4.34 0 0 0 897.97 643.46Z"/><path d="M894.45 646L897.97 643.46A4.34 4.34 0 0 0 897.72 643.14Z"/><path d="M894.45 646L897.72 643.14A4.34 4.34 0 0 0 897.43 642.85Z"/><path d="M894.45 646L907.87 631.81A19.53 19.53 0 0 0 906.47 630.61Z"/><path d="M894.45 646L891.67 649.33A4.34 4.34 0 0 0 892 649.58Z"/><path d="M894.45 646L892 649.58A4.34 4.34 0 0 0 892.35 649.8Z"/><path d="M894.45 646L892.35 649.8A4.34 4.34 0 0 0 892.71 649.98Z"/><path d="M894.45 646L892.71 649.98A4.34 4.34 0 0 0 893.09 650.12Z"/><path d="M894.45 646L893.09 650.12A4.34 4.34 0 0 0 893.49 650.23Z"/><path d="M894.45 646L893.49 650.23A4.34 4.34 0 0 0 893.89 650.3Z"/><path d="M894.45 646L893.89 650.3A4.34 4.34 0 0 0 894.3 650.34Z"/><path d="M894.45 646L894.3 650.34A4.34 4.34 0 0 0 894.71 650.33Z"/><path d="M894.45 646L894.71 650.33A4.34 4.34 0 0 0 895.11 650.29Z"/><path d="M894.45 646L895.11 650.29A4.34 4.34 0 0 0 895.51 650.21Z"/><path d="M894.45 646L895.51 650.21A4.34 4.34 0 0 0 895.91 650.09Z"/><path d="M894.45 646L895.91 650.09A4.34 4.34 0 0 0 896.28 649.93Z"/><path d="M894.45 646L902.25 662.72A18.45 18.45 0 0 0 903.78 661.91Z"/><path d="M894.45 646L902.14 659.1A15.19 15.19 0 0 0 903.34 658.32Z"/><path d="M894.45 646L903.34 658.32A15.19 15.19 0 0 0 904.46 657.43Z"/><path d="M894.45 646L904.6 657.59A15.41 15.41 0 0 0 905.64 656.59Z"/><path d="M894.45 646L897.6 648.98A4.34 4.34 0 0 0 897.87 648.67Z"/><path d="M894.45 646L897.87 648.67A4.34 4.34 0 0 0 898.11 648.34Z"/><path d="M894.45 646L898.11 648.34A4.34 4.34 0 0 0 898.31 647.98Z"/><path d="M894.45 646L898.31 647.98A4.34 4.34 0 0 0 898.48 647.61Z"/><path d="M894.45 646L898.48 647.61A4.34 4.34 0 0 0 898.61 647.23Z"/><path d="M894.45 646L898.61 647.23A4.34 4.34 0 0 0 898.71 646.83Z"/><path d="M894.45 646L898.71 646.83A4.34 4.34 0 0 0 898.77 646.42Z"/><path d="M894.45 646L898.77 646.42A4.34 4.34 0 0 0 898.79 646.02Z"/><path d="M894.45 646L898.79 646.02A4.34 4.34 0 0 0 898.77 645.61Z"/></g>
<circle cx="894.45" cy="646" r="21.7" fill="none" stroke="#b0b0b0" stroke-width="0.6"/>
<circle cx="894.45" cy="646" r="43.4" fill="none" stroke="#b0b0b0" stroke-width="0.6"/>
<circle cx="894.45" cy="646" r="65.1" fill="none" stroke="#b0b0b0" stroke-width="0.6"/>
<circle cx="894.45" cy="646" r="86.8" fill="none" stroke="#b0b0b0" stroke-width="0.6"/>
<path d="M1002.95 646L785.95 646M971.17 569.28L817.73 722.72M894.45 537.5L894.45 754.5M817.73 569.28L971.17 722.72" stroke="#b0b0b0" stroke-width="0.75"/>
</g>
<circle cx="894.45" cy="646" r="108.5" fill="none" stroke="#474747" stroke-width="0.95"/>
<text class="t" x="1010.55" y="648.7" text-anchor="middle" textLength="8.86" lengthAdjust="spacingAndGlyphs">0°</text>
<text class="t" x="976.55" y="566.6" text-anchor="middle" textLength="13.83" lengthAdjust="spacingAndGlyphs">45°</text>
<text class="t" x="894.45" y="532.6" text-anchor="middle" textLength="13.83" lengthAdjust="spacingAndGlyphs">90°</text>
<text class="t" x="812.35" y="566.6" text-anchor="middle" textLength="18.79" lengthAdjust="spacingAndGlyphs">135°</text>
<text class="t" x="778.35" y="648.7" text-anchor="middle" textLength="18.79" lengthAdjust="spacingAndGlyphs">180°</text>
<text class="t" x="812.35" y="730.8" text-anchor="middle" textLength="18.79" lengthAdjust="spacingAndGlyphs">225°</text>
<text class="t" x="894.45" y="764.8" text-anchor="middle" textLength="18.79" lengthAdjust="spacingAndGlyphs">270°</text>
<text class="t" x="976.55" y="730.8" text-anchor="middle" textLength="18.79" lengthAdjust="spacingAndGlyphs">315°</text>
<text class="t" x="914.3" y="635.9" textLength="9.93" lengthAdjust="spacingAndGlyphs">10</text>
<text class="t" x="934.35" y="627.59" textLength="9.93" lengthAdjust="spacingAndGlyphs">20</text>
<text class="t" x="954.39" y="619.29" textLength="9.93" lengthAdjust="spacingAndGlyphs">30</text>
<text class="t" x="974.44" y="610.98" textLength="9.93" lengthAdjust="spacingAndGlyphs">40</text>
<text class="ti" x="785.85" y="523.3" textLength="44.29" lengthAdjust="spacingAndGlyphs">P6:SolO</text>
<clipPath id="c11"><circle cx="125.65" cy="902.57" r="108.5"/></clipPath>
<g clip-path="url(#c11)">
<circle cx="125.65" cy="902.57" r="108.5" fill="#ffcccc"/>
<polygon points="181.31,749.64 0.11,752.96 -66.68,936.48 69.99,1055.5 125.65,902.57" fill="#ccccff"/>
<g fill="none" stroke="#000038" stroke-width="0.65"><path d="M125.65 902.57L127.09 898.15A4.65 4.65 0 0 0 126.62 898.02Z"/><path d="M125.65 902.57L126.62 898.02A4.65 4.65 0 0 0 126.14 897.95Z"/><path d="M125.65 902.57L126.14 897.95A4.65 4.65 0 0 0 125.65 897.92Z"/><path d="M125.65 902.57L125.65 897.92A4.65 4.65 0 0 0 125.16 897.95Z"/><path d="M125.65 902.57L125.16 897.95A4.65 4.65 0 0 0 124.68 898.02Z"/><path d="M125.65 902.57L124.68 898.02A4.65 4.65 0 0 0 124.21 898.15Z"/><path d="M125.65 902.57L124.21 898.15A4.65 4.65 0 0 0 123.76 898.32Z"/><path d="M125.65 902.57L123.76 898.32A4.65 4.65 0 0 0 123.33 898.54Z"/><path d="M125.65 902.57L123.33 898.54A4.65 4.65 0 0 0 122.92 898.81Z"/><path d="M125.65 902.57L122.92 898.81A4.65 4.65 0 0 0 122.54 899.11Z"/><path d="M125.65 902.57L122.54 899.11A4.65 4.65 0 0 0 122.19 899.46Z"/><path d="M125.65 902.57L122.19 899.46A4.65 4.65 0 0 0 121.89 899.84Z"/><path d="M125.65 902.57L115.62 895.28A12.4 12.4 0 0 0 114.91 896.37Z"/><path d="M125.65 902.57L113.57 895.6A13.95 13.95 0 0 0 112.91 896.9Z"/><path d="M125.65 902.57L98.89 890.65A29.29 29.29 0 0 0 97.79 893.52Z"/><path d="M125.65 902.57L86.59 889.88A41.08 41.08 0 0 0 85.47 894.03Z"/><path d="M125.65 902.57L90.02 895A36.43 36.43 0 0 0 89.42 898.76Z"/><path d="M125.65 902.57L84.8 898.28A41.08 41.08 0 0 0 84.58 902.57Z"/><path d="M125.65 902.57L111.7 902.57A13.95 13.95 0 0 0 111.78 904.03Z"/><path d="M125.65 902.57L113.32 903.87A12.4 12.4 0 0 0 113.52 905.15Z"/><path d="M125.65 902.57L121.1 903.54A4.65 4.65 0 0 0 121.23 904.01Z"/><path d="M125.65 902.57L121.23 904.01A4.65 4.65 0 0 0 121.4 904.46Z"/><path d="M125.65 902.57L121.4 904.46A4.65 4.65 0 0 0 121.62 904.9Z"/><path d="M125.65 902.57L119.74 905.98A6.82 6.82 0 0 0 120.13 906.58Z"/><path d="M125.65 902.57L121.89 905.3A4.65 4.65 0 0 0 122.19 905.68Z"/><path d="M125.65 902.57L122.19 905.68A4.65 4.65 0 0 0 122.54 906.03Z"/><path d="M125.65 902.57L122.54 906.03A4.65 4.65 0 0 0 122.92 906.33Z"/><path d="M125.65 902.57L122.92 906.33A4.65 4.65 0 0 0 123.33 906.6Z"/><path d="M125.65 902.57L123.33 906.6A4.65 4.65 0 0 0 123.76 906.82Z"/><path d="M125.65 902.57L123.76 906.82A4.65 4.65 0 0 0 124.21 906.99Z"/></g>
<g fill="none" stroke="#380000" stroke-width="0.65"><path d="M125.65 902.57L194 902.57A68.36 68.36 0 0 0 193.63 895.42Z"/><path d="M125.65 902.57L149.85 900.03A24.34 24.34 0 0 0 149.45 897.51Z"/><path d="M125.65 902.57L137.78 899.99A12.4 12.4 0 0 0 137.44 898.74Z"/><path d="M125.65 902.57L137.44 898.74A12.4 12.4 0 0 0 136.98 897.53Z"/><path d="M125.65 902.57L135.56 898.16A10.85 10.85 0 0 0 135.05 897.15Z"/><path d="M125.65 902.57L132.36 898.7A7.75 7.75 0 0 0 131.92 898.01Z"/><path d="M125.65 902.57L131.92 898.01A7.75 7.75 0 0 0 131.41 897.38Z"/><path d="M125.65 902.57L131.41 897.38A7.75 7.75 0 0 0 130.84 896.81Z"/><path d="M125.65 902.57L130.84 896.81A7.75 7.75 0 0 0 130.21 896.3Z"/><path d="M125.65 902.57L130.21 896.3A7.75 7.75 0 0 0 129.53 895.86Z"/><path d="M125.65 902.57L129.53 895.86A7.75 7.75 0 0 0 128.8 895.49Z"/><path d="M125.65 902.57L128.8 895.49A7.75 7.75 0 0 0 128.04 895.2Z"/><path d="M125.65 902.57L123.26 909.94A7.75 7.75 0 0 0 124.04 910.15Z"/><path d="M125.65 902.57L124.04 910.15A7.75 7.75 0 0 0 124.84 910.28Z"/><path d="M125.65 902.57L124.84 910.28A7.75 7.75 0 0 0 125.65 910.32Z"/><path d="M125.65 902.57L125.65 910.32A7.75 7.75 0 0 0 126.46 910.28Z"/><path d="M125.65 902.57L126.46 910.28A7.75 7.75 0 0 0 127.26 910.15Z"/><path d="M125.65 902.57L127.91 913.18A10.85 10.85 0 0 0 129 912.89Z"/><path d="M125.65 902.57L129.96 915.84A13.95 13.95 0 0 0 131.32 915.31Z"/><path d="M125.65 902.57L132.58 918.15A17.05 17.05 0 0 0 134.18 917.34Z"/><path d="M125.65 902.57L136.11 920.69A20.93 20.93 0 0 0 137.95 919.5Z"/><path d="M125.65 902.57L139.32 921.38A23.25 23.25 0 0 0 141.21 919.85Z"/><path d="M125.65 902.57L143.8 922.73A27.12 27.12 0 0 0 145.81 920.72Z"/><path d="M125.65 902.57L151.91 926.22A35.34 35.34 0 0 0 154.24 923.34Z"/><path d="M125.65 902.57L168.41 933.64A52.86 52.86 0 0 0 171.42 929Z"/><path d="M125.65 902.57L183.24 935.82A66.5 66.5 0 0 0 186.4 929.62Z"/><path d="M125.65 902.57L201.12 936.17A82.61 82.61 0 0 0 204.22 928.1Z"/><path d="M125.65 902.57L205.55 928.53A84.01 84.01 0 0 0 207.82 920.04Z"/><path d="M125.65 902.57L188.42 915.91A64.17 64.17 0 0 0 189.47 909.28Z"/><path d="M125.65 902.57L188.7 909.2A63.4 63.4 0 0 0 189.05 902.57Z"/></g>
<circle cx="125.65" cy="902.57" r="15.5" fill="none" stroke="#b0b0b0" stroke-width="0.6"/>
<circle cx="125.65" cy="902.57" r="31" fill="none" stroke="#b0b0b0" stroke-width="0.6"/>
<circle cx="125.65" cy="902.57" r="46.5" fill="none" stroke="#b0b0b0" stroke-width="0.6"/>
<circle cx="125.65" cy="902.57" r="62" fill="none" stroke="#b0b0b0" stroke-width="0.6"/>
<circle cx="125.65" cy="902.57" r="77.5" fill="none" stroke="#b0b0b0" stroke-width="0.6"/>
<circle cx="125.65" cy="902.57" r="93" fill="none" stroke="#b0b0b0" stroke-width="0.6"/>
<path d="M234.15 902.57L17.15 902.57M202.37 825.85L48.93 979.29M125.65 794.07L125.65 1011.07M48.93 825.85L202.37 979.29" stroke="#b0b0b0" stroke-width="0.75"/>
</g>
<circle cx="125.65" cy="902.57" r="108.5" fill="none" stroke="#474747" stroke-width="0.95"/>
<text class="t" x="241.75" y="905.27" text-anchor="middle" textLength="8.86" lengthAdjust="spacingAndGlyphs">0°</text>
<text class="t" x="207.75" y="823.17" text-anchor="middle" textLength="13.83" lengthAdjust="spacingAndGlyphs">45°</text>
<text class="t" x="125.65" y="789.17" text-anchor="middle" textLength="13.83" lengthAdjust="spacingAndGlyphs">90°</text>
<text class="t" x="43.55" y="823.17" text-anchor="middle" textLength="18.79" lengthAdjust="spacingAndGlyphs">135°</text>
<text class="t" x="9.55" y="905.27" text-anchor="middle" textLength="18.79" lengthAdjust="spacingAndGlyphs">180°</text>
<text class="t" x="43.55" y="987.37" text-anchor="middle" textLength="18.79" lengthAdjust="spacingAndGlyphs">225°</text>
<text class="t" x="125.65" y="1021.37" text-anchor="middle" textLength="18.79" lengthAdjust="spacingAndGlyphs">270°</text>
<text class="t" x="207.75" y="987.37" text-anchor="middle" textLength="18.79" lengthAdjust="spacingAndGlyphs">315°</text>
<text class="t" x="139.77" y="894.84" textLength="9.93" lengthAdjust="spacingAndGlyphs">10</text>
<text class="t" x="154.09" y="888.91" textLength="9.93" lengthAdjust="spacingAndGlyphs">20</text>
<text class="t" x="168.41" y="882.98" textLength="9.93" lengthAdjust="spacingAndGlyphs">30</text>
<text class="t" x="182.73" y="877.04" textLength="9.93" lengthAdjust="spacingAndGlyphs">40</text>
<text class="t" x="197.05" y="871.11" textLength="9.93" lengthAdjust="spacingAndGlyphs">50</text>
<text class="t" x="211.37" y="865.18" textLength="9.93" lengthAdjust="spacingAndGlyphs">60</text>
<text class="ti" x="17.05" y="779.87" textLength="40.15" lengthAdjust="spacingAndGlyphs">P7:PSP</text>
<clipPath id="c12"><circle cx="382" cy="902.57" r="108.5"/></clipPath>
<g clip-path="url(#c12)">
<circle cx="382" cy="902.57" r="108.5" fill="#ffcccc"/>
<polygon points="497.08,787.49 331.45,713.92 193.35,852.02 266.92,1017.65 382,902.57" fill="#ccccff"/>
<g fill="none" stroke="#000038" stroke-width="0.65"><path d="M382 902.57L386 898.9A5.42 5.42 0 0 0 385.6 898.51Z"/><path d="M382 902.57L385.6 898.51A5.42 5.42 0 0 0 385.17 898.17Z"/><path d="M382 902.57L385.17 898.17A5.42 5.42 0 0 0 384.7 897.87Z"/><path d="M382 902.57L384.7 897.87A5.42 5.42 0 0 0 384.21 897.62Z"/><path d="M382 902.57L384.21 897.62A5.42 5.42 0 0 0 383.69 897.42Z"/><path d="M382 902.57L385.39 892.26A10.85 10.85 0 0 0 384.32 891.97Z"/><path d="M382 902.57L386.72 881.02A22.06 22.06 0 0 0 384.5 880.65Z"/><path d="M382 902.57L384.87 877.42A25.32 25.32 0 0 0 382.29 877.25Z"/><path d="M382 902.57L382.45 863.33A39.24 39.24 0 0 0 378.44 863.49Z"/><path d="M382 902.57L376.12 837.92A64.92 64.92 0 0 0 369.56 838.85Z"/><path d="M382 902.57L372.47 853.76A49.73 49.73 0 0 0 367.54 854.99Z"/><path d="M382 902.57L372.59 871.6A32.37 32.37 0 0 0 369.48 872.72Z"/><path d="M382 902.57L360.6 851.54A55.34 55.34 0 0 0 355.51 853.99Z"/><path d="M382 902.57L343.31 831.6A80.83 80.83 0 0 0 336.27 835.91Z"/><path d="M382 902.57L333.1 831.29A86.44 86.44 0 0 0 326.09 836.65Z"/><path d="M382 902.57L324.34 834.58A89.15 89.15 0 0 0 317.71 840.81Z"/><path d="M382 902.57L320.97 843.94A84.63 84.63 0 0 0 315.31 850.47Z"/><path d="M382 902.57L343.95 872.84A48.28 48.28 0 0 0 341.12 876.88Z"/><path d="M382 902.57L366.69 892.95A18.08 18.08 0 0 0 365.79 894.56Z"/><path d="M382 902.57L369.03 896.16A14.47 14.47 0 0 0 368.45 897.52Z"/><path d="M382 902.57L370.14 898.15A12.66 12.66 0 0 0 369.75 899.38Z"/><path d="M382 902.57L376.75 901.2A5.42 5.42 0 0 0 376.64 901.74Z"/><path d="M382 902.57L376.64 901.74A5.42 5.42 0 0 0 376.58 902.3Z"/><path d="M382 902.57L376.58 902.3A5.42 5.42 0 0 0 376.58 902.85Z"/><path d="M382 902.57L376.58 902.85A5.42 5.42 0 0 0 376.64 903.4Z"/><path d="M382 902.57L376.64 903.4A5.42 5.42 0 0 0 376.75 903.94Z"/><path d="M382 902.57L376.75 903.94A5.42 5.42 0 0 0 376.92 904.47Z"/><path d="M382 902.57L376.92 904.47A5.42 5.42 0 0 0 377.14 904.98Z"/><path d="M382 902.57L377.14 904.98A5.42 5.42 0 0 0 377.41 905.46Z"/><path d="M382 902.57L377.41 905.46A5.42 5.42 0 0 0 377.73 905.91Z"/><path d="M382 902.57L377.73 905.91A5.42 5.42 0 0 0 378.09 906.33Z"/></g>
<g fill="none" stroke="#380000" stroke-width="0.65"><path d="M382 902.57L387.41 902.97A5.42 5.42 0 0 0 387.42 902.42Z"/><path d="M382 902.57L387.42 902.42A5.42 5.42 0 0 0 387.38 901.87Z"/><path d="M382 902.57L387.38 901.87A5.42 5.42 0 0 0 387.28 901.32Z"/><path d="M382 902.57L387.28 901.32A5.42 5.42 0 0 0 387.12 900.79Z"/><path d="M382 902.57L387.12 900.79A5.42 5.42 0 0 0 386.92 900.28Z"/><path d="M382 902.57L386.92 900.28A5.42 5.42 0 0 0 386.66 899.79Z"/><path d="M382 902.57L386.66 899.79A5.42 5.42 0 0 0 386.35 899.33Z"/><path d="M382 902.57L386.35 899.33A5.42 5.42 0 0 0 386 898.9Z"/><path d="M382 902.57L378.09 906.33A5.42 5.42 0 0 0 378.49 906.71Z"/><path d="M382 902.57L378.49 906.71A5.42 5.42 0 0 0 378.94 907.05Z"/><path d="M382 902.57L378.94 907.05A5.42 5.42 0 0 0 379.41 907.34Z"/><path d="M382 902.57L379.41 907.34A5.42 5.42 0 0 0 379.91 907.57Z"/><path d="M382 902.57L379.91 907.57A5.42 5.42 0 0 0 380.43 907.76Z"/><path d="M382 902.57L380.43 907.76A5.42 5.42 0 0 0 380.96 907.9Z"/><path d="M382 902.57L380.96 907.9A5.42 5.42 0 0 0 381.51 907.97Z"/><path d="M382 902.57L381.51 907.97A5.42 5.42 0 0 0 382.07 907.99Z"/><path d="M382 902.57L382.2 918.66A16.09 16.09 0 0 0 383.84 918.56Z"/><path d="M382 902.57L384.06 920.54A18.08 18.08 0 0 0 385.88 920.23Z"/><path d="M382 902.57L387.48 927.47A25.5 25.5 0 0 0 389.98 926.78Z"/><path d="M382 902.57L392.82 935.37A34.54 34.54 0 0 0 396.1 934.1Z"/><path d="M382 902.57L397.43 937.07A37.79 37.79 0 0 0 400.87 935.32Z"/><path d="M382 902.57L406.56 945.19A49.19 49.19 0 0 0 410.77 942.46Z"/><path d="M382 902.57L406.54 936.6A41.95 41.95 0 0 0 409.88 933.92Z"/><path d="M382 902.57L401.23 924.19A28.93 28.93 0 0 0 403.33 922.12Z"/><path d="M382 902.57L400.4 919.43A24.96 24.96 0 0 0 402.02 917.47Z"/><path d="M382 902.57L402.6 917.9A25.68 25.68 0 0 0 404.06 915.72Z"/><path d="M382 902.57L399.09 912.76A19.89 19.89 0 0 0 400.04 910.96Z"/><path d="M382 902.57L406.76 914.09A27.31 27.31 0 0 0 407.8 911.5Z"/><path d="M382 902.57L402.51 909.67A21.7 21.7 0 0 0 403.12 907.54Z"/><path d="M382 902.57L412.28 909.7A31.1 31.1 0 0 0 412.84 906.58Z"/><path d="M382 902.57L398.14 904.67A16.27 16.27 0 0 0 398.27 903.01Z"/><path d="M382 902.57L394.65 902.91A12.66 12.66 0 0 0 394.62 901.62Z"/></g>
<circle cx="382" cy="902.57" r="18.08" fill="none" stroke="#b0b0b0" stroke-width="0.6"/>
<circle cx="382" cy="902.57" r="36.17" fill="none" stroke="#b0b0b0" stroke-width="0.6"/>
<circle cx="382" cy="902.57" r="54.25" fill="none" stroke="#b0b0b0" stroke-width="0.6"/>
<circle cx="382" cy="902.57" r="72.33" fill="none" stroke="#b0b0b0" stroke-width="0.6"/>
<circle cx="382" cy="902.57" r="90.42" fill="none" stroke="#b0b0b0" stroke-width="0.6"/>
<path d="M490.5 902.57L273.5 902.57M458.72 825.85L305.28 979.29M382 794.07L382 1011.07M305.28 825.85L458.72 979.29" stroke="#b0b0b0" stroke-width="0.75"/>
</g>
<circle cx="382" cy="902.57" r="108.5" fill="none" stroke="#474747" stroke-width="0.95"/>
<text class="t" x="498.1" y="905.27" text-anchor="middle" textLength="8.86" lengthAdjust="spacingAndGlyphs">0°</text>
<text class="t" x="464.1" y="823.17" text-anchor="middle" textLength="13.83" lengthAdjust="spacingAndGlyphs">45°</text>
<text class="t" x="382" y="789.17" text-anchor="middle" textLength="13.83" lengthAdjust="spacingAndGlyphs">90°</text>
<text class="t" x="299.9" y="823.17" text-anchor="middle" textLength="18.79" lengthAdjust="spacingAndGlyphs">135°</text>
<text class="t" x="265.9" y="905.27" text-anchor="middle" textLength="18.79" lengthAdjust="spacingAndGlyphs">180°</text>
<text class="t" x="299.9" y="987.37" text-anchor="middle" textLength="18.79" lengthAdjust="spacingAndGlyphs">225°</text>
<text class="t" x="382" y="1021.37" text-anchor="middle" textLength="18.79" lengthAdjust="spacingAndGlyphs">270°</text>
<text class="t" x="464.1" y="987.37" text-anchor="middle" textLength="18.79" lengthAdjust="spacingAndGlyphs">315°</text>
<text class="t" x="398.51" y="893.85" textLength="9.93" lengthAdjust="spacingAndGlyphs">10</text>
<text class="t" x="415.21" y="886.93" textLength="9.93" lengthAdjust="spacingAndGlyphs">20</text>
<text class="t" x="431.92" y="880.01" textLength="9.93" lengthAdjust="spacingAndGlyphs">30</text>
<text class="t" x="448.63" y="873.09" textLength="9.93" lengthAdjust="spacingAndGlyphs">40</text>
<text class="t" x="465.33" y="866.17" textLength="9.93" lengthAdjust="spacingAndGlyphs">50</text>
<text class="ti" x="273.4" y="779.87" textLength="48.7" lengthAdjust="spacingAndGlyphs">P7:Earth</text>
<clipPath id="c13"><circle cx="638" cy="902.57" r="108.5"/></clipPath>
<g clip-path="url(#c13)">
<circle cx="638" cy="902.57" r="108.5" fill="#ffcccc"/>
<polygon points="753.08,787.49 587.45,713.92 449.35,852.02 522.92,1017.65 638,902.57" fill="#ccccff"/>
<g fill="none" stroke="#000038" stroke-width="0.65"><path d="M638 902.57L642.03 898.94A5.42 5.42 0 0 0 641.63 898.54Z"/><path d="M638 902.57L641.63 898.54A5.42 5.42 0 0 0 641.19 898.18Z"/><path d="M638 902.57L641.19 898.18A5.42 5.42 0 0 0 640.71 897.87Z"/><path d="M638 902.57L640.71 897.87A5.42 5.42 0 0 0 640.21 897.61Z"/><path d="M638 902.57L640.21 897.61A5.42 5.42 0 0 0 639.68 897.41Z"/><path d="M638 902.57L639.68 897.41A5.42 5.42 0 0 0 639.13 897.26Z"/><path d="M638 902.57L640.26 891.96A10.85 10.85 0 0 0 639.13 891.78Z"/><path d="M638 902.57L640.02 883.33A19.35 19.35 0 0 0 638 883.22Z"/><path d="M638 902.57L638 878.52A24.05 24.05 0 0 0 635.49 878.65Z"/><path d="M638 902.57L633.73 861.93A40.87 40.87 0 0 0 629.5 862.59Z"/><path d="M638 902.57L624.95 841.19A62.75 62.75 0 0 0 618.61 842.89Z"/><path d="M638 902.57L624.14 859.92A44.85 44.85 0 0 0 619.76 861.6Z"/><path d="M638 902.57L620.35 862.92A43.4 43.4 0 0 0 616.3 864.98Z"/><path d="M638 902.57L608.16 850.89A59.67 59.67 0 0 0 602.92 854.29Z"/><path d="M638 902.57L608.34 861.75A50.45 50.45 0 0 0 604.24 865.08Z"/><path d="M638 902.57L611.38 873.01A39.78 39.78 0 0 0 608.44 875.95Z"/><path d="M638 902.57L609.91 877.28A37.79 37.79 0 0 0 607.42 880.36Z"/><path d="M638 902.57L616.06 886.63A27.12 27.12 0 0 0 614.51 889.01Z"/><path d="M638 902.57L609.18 885.93A33.27 33.27 0 0 0 607.6 889.04Z"/><path d="M638 902.57L624.78 896.69A14.47 14.47 0 0 0 624.24 898.1Z"/><path d="M638 902.57L627.68 899.22A10.85 10.85 0 0 0 627.39 900.31Z"/><path d="M638 902.57L632.69 901.44A5.42 5.42 0 0 0 632.6 902Z"/><path d="M638 902.57L632.6 902A5.42 5.42 0 0 0 632.58 902.57Z"/><path d="M638 902.57L632.58 902.57A5.42 5.42 0 0 0 632.6 903.14Z"/><path d="M638 902.57L632.6 903.14A5.42 5.42 0 0 0 632.69 903.7Z"/><path d="M638 902.57L632.69 903.7A5.42 5.42 0 0 0 632.84 904.25Z"/><path d="M638 902.57L632.84 904.25A5.42 5.42 0 0 0 633.04 904.78Z"/><path d="M638 902.57L633.04 904.78A5.42 5.42 0 0 0 633.3 905.28Z"/><path d="M638 902.57L633.3 905.28A5.42 5.42 0 0 0 633.61 905.76Z"/><path d="M638 902.57L633.61 905.76A5.42 5.42 0 0 0 633.97 906.2Z"/></g>
<g fill="none" stroke="#380000" stroke-width="0.65"><path d="M638 902.57L656.08 902.57A18.08 18.08 0 0 0 655.98 900.68Z"/><path d="M638 902.57L655.26 900.76A17.36 17.36 0 0 0 654.98 898.96Z"/><path d="M638 902.57L643.31 901.44A5.42 5.42 0 0 0 643.16 900.89Z"/><path d="M638 902.57L643.16 900.89A5.42 5.42 0 0 0 642.96 900.36Z"/><path d="M638 902.57L642.96 900.36A5.42 5.42 0 0 0 642.7 899.86Z"/><path d="M638 902.57L642.7 899.86A5.42 5.42 0 0 0 642.39 899.38Z"/><path d="M638 902.57L642.39 899.38A5.42 5.42 0 0 0 642.03 898.94Z"/><path d="M638 902.57L633.97 906.2A5.42 5.42 0 0 0 634.37 906.6Z"/><path d="M638 902.57L634.37 906.6A5.42 5.42 0 0 0 634.81 906.96Z"/><path d="M638 902.57L634.81 906.96A5.42 5.42 0 0 0 635.29 907.27Z"/><path d="M638 902.57L635.29 907.27A5.42 5.42 0 0 0 635.79 907.53Z"/><path d="M638 902.57L634.54 910.33A8.5 8.5 0 0 0 635.37 910.65Z"/><path d="M638 902.57L636.32 907.73A5.42 5.42 0 0 0 636.87 907.88Z"/><path d="M638 902.57L636.87 907.88A5.42 5.42 0 0 0 637.43 907.97Z"/><path d="M638 902.57L637.43 907.97A5.42 5.42 0 0 0 638 908Z"/><path d="M638 902.57L638 923.55A20.98 20.98 0 0 0 640.19 923.43Z"/><path d="M638 902.57L641.35 934.4A32.01 32.01 0 0 0 644.65 933.88Z"/><path d="M638 902.57L641.76 920.26A18.08 18.08 0 0 0 643.59 919.77Z"/><path d="M638 902.57L643.59 919.77A18.08 18.08 0 0 0 645.36 919.09Z"/><path d="M638 902.57L646.83 922.39A21.7 21.7 0 0 0 648.85 921.36Z"/><path d="M638 902.57L651.56 926.06A27.12 27.12 0 0 0 653.94 924.51Z"/><path d="M638 902.57L663.08 937.1A42.68 42.68 0 0 0 666.56 934.28Z"/><path d="M638 902.57L668.25 936.17A45.21 45.21 0 0 0 671.6 932.82Z"/><path d="M638 902.57L704.25 962.22A89.15 89.15 0 0 0 710.12 954.97Z"/><path d="M638 902.57L690.81 940.94A65.28 65.28 0 0 0 694.53 935.21Z"/><path d="M638 902.57L695 935.48A65.82 65.82 0 0 0 698.13 929.34Z"/><path d="M638 902.57L677.15 920A42.86 42.86 0 0 0 678.76 915.81Z"/><path d="M638 902.57L662.08 910.39A25.32 25.32 0 0 0 662.76 907.83Z"/><path d="M638 902.57L665.24 908.36A27.85 27.85 0 0 0 665.7 905.48Z"/><path d="M638 902.57L662.46 905.14A24.59 24.59 0 0 0 662.59 902.57Z"/></g>
<circle cx="638" cy="902.57" r="18.08" fill="none" stroke="#b0b0b0" stroke-width="0.6"/>
<circle cx="638" cy="902.57" r="36.17" fill="none" stroke="#b0b0b0" stroke-width="0.6"/>
<circle cx="638" cy="902.57" r="54.25" fill="none" stroke="#b0b0b0" stroke-width="0.6"/>
<circle cx="638" cy="902.57" r="72.33" fill="none" stroke="#b0b0b0" stroke-width="0.6"/>
<circle cx="638" cy="902.57" r="90.42" fill="none" stroke="#b0b0b0" stroke-width="0.6"/>
<path d="M746.5 902.57L529.5 902.57M714.72 825.85L561.28 979.29M638 794.07L638 1011.07M561.28 825.85L714.72 979.29" stroke="#b0b0b0" stroke-width="0.75"/>
</g>
<circle cx="638" cy="902.57" r="108.5" fill="none" stroke="#474747" stroke-width="0.95"/>
<text class="t" x="754.1" y="905.27" text-anchor="middle" textLength="8.86" lengthAdjust="spacingAndGlyphs">0°</text>
<text class="t" x="720.1" y="823.17" text-anchor="middle" textLength="13.83" lengthAdjust="spacingAndGlyphs">45°</text>
<text class="t" x="638" y="789.17" text-anchor="middle" textLength="13.83" lengthAdjust="spacingAndGlyphs">90°</text>
<text class="t" x="555.9" y="823.17" text-anchor="middle" textLength="18.79" lengthAdjust="spacingAndGlyphs">135°</text>
<text class="t" x="521.9" y="905.27" text-anchor="middle" textLength="18.79" lengthAdjust="spacingAndGlyphs">180°</text>
<text class="t" x="555.9" y="987.37" text-anchor="middle" textLength="18.79" lengthAdjust="spacingAndGlyphs">225°</text>
<text class="t" x="638" y="1021.37" text-anchor="middle" textLength="18.79" lengthAdjust="spacingAndGlyphs">270°</text>
<text class="t" x="720.1" y="987.37" text-anchor="middle" textLength="18.79" lengthAdjust="spacingAndGlyphs">315°</text>
<text class="t" x="654.51" y="893.85" textLength="9.93" lengthAdjust="spacingAndGlyphs">10</text>
<text class="t" x="671.21" y="886.93" textLength="9.93" lengthAdjust="spacingAndGlyphs">20</text>
<text class="t" x="687.92" y="880.01" textLength="9.93" lengthAdjust="spacingAndGlyphs">30</text>
<text class="t" x="704.63" y="873.09" textLength="9.93" lengthAdjust="spacingAndGlyphs">40</text>
<text class="t" x="721.33" y="866.17" textLength="9.93" lengthAdjust="spacingAndGlyphs">50</text>
<text class="ti" x="529.4" y="779.87" textLength="74.25" lengthAdjust="spacingAndGlyphs">P7:STEREO-A</text>
<clipPath id="c14"><circle cx="894.45" cy="902.57" r="108.5"/></clipPath>
<g clip-path="url(#c14)">
<circle cx="894.45" cy="902.57" r="108.5" fill="#ffcccc"/>
<polygon points="1000.15,778.81 829.26,718.47 702.42,866.98 788.75,1026.33 894.45,902.57" fill="#ccccff"/>
<g fill="none" stroke="#000038" stroke-width="0.65"><path d="M894.45 902.57L896.52 900.27A3.1 3.1 0 0 0 896.27 900.06Z"/><path d="M894.45 902.57L896.27 900.06A3.1 3.1 0 0 0 896 899.89Z"/><path d="M894.45 902.57L896 899.89A3.1 3.1 0 0 0 895.71 899.74Z"/><path d="M894.45 902.57L895.71 899.74A3.1 3.1 0 0 0 895.41 899.62Z"/><path d="M894.45 902.57L895.41 899.62A3.1 3.1 0 0 0 895.09 899.54Z"/><path d="M894.45 902.57L895.09 899.54A3.1 3.1 0 0 0 894.77 899.49Z"/><path d="M894.45 902.57L895.99 887.93A14.72 14.72 0 0 0 894.45 887.85Z"/><path d="M894.45 902.57L894.45 890.17A12.4 12.4 0 0 0 893.15 890.24Z"/><path d="M894.45 902.57L893.15 890.24A12.4 12.4 0 0 0 891.87 890.44Z"/><path d="M894.45 902.57L891.55 888.92A13.95 13.95 0 0 0 890.14 889.3Z"/><path d="M894.45 902.57L889.66 887.83A15.5 15.5 0 0 0 888.15 888.41Z"/><path d="M894.45 902.57L884.93 881.19A23.41 23.41 0 0 0 882.75 882.3Z"/><path d="M894.45 902.57L872.13 863.91A44.64 44.64 0 0 0 868.21 866.46Z"/><path d="M894.45 902.57L874.41 874.98A34.1 34.1 0 0 0 871.63 877.23Z"/><path d="M894.45 902.57L864.27 869.05A45.11 45.11 0 0 0 860.93 872.39Z"/><path d="M894.45 902.57L833.75 847.91A81.69 81.69 0 0 0 828.37 854.56Z"/><path d="M894.45 902.57L830.62 856.2A78.89 78.89 0 0 0 826.12 863.12Z"/><path d="M894.45 902.57L847.87 875.68A53.79 53.79 0 0 0 845.31 880.69Z"/><path d="M894.45 902.57L853.81 884.48A44.48 44.48 0 0 0 852.14 888.82Z"/><path d="M894.45 902.57L879.71 897.78A15.5 15.5 0 0 0 879.29 899.35Z"/><path d="M894.45 902.57L882.32 899.99A12.4 12.4 0 0 0 882.12 901.27Z"/><path d="M894.45 902.57L885.2 901.6A9.3 9.3 0 0 0 885.15 902.57Z"/><path d="M894.45 902.57L891.35 902.57A3.1 3.1 0 0 0 891.37 902.89Z"/><path d="M894.45 902.57L891.37 902.89A3.1 3.1 0 0 0 891.42 903.21Z"/><path d="M894.45 902.57L891.42 903.21A3.1 3.1 0 0 0 891.5 903.53Z"/><path d="M894.45 902.57L891.5 903.53A3.1 3.1 0 0 0 891.62 903.83Z"/><path d="M894.45 902.57L891.62 903.83A3.1 3.1 0 0 0 891.77 904.12Z"/><path d="M894.45 902.57L891.77 904.12A3.1 3.1 0 0 0 891.94 904.39Z"/><path d="M894.45 902.57L891.94 904.39A3.1 3.1 0 0 0 892.15 904.64Z"/><path d="M894.45 902.57L892.15 904.64A3.1 3.1 0 0 0 892.38 904.87Z"/></g>
<g fill="none" stroke="#380000" stroke-width="0.65"><path d="M894.45 902.57L903.75 902.57A9.3 9.3 0 0 0 903.7 901.6Z"/><path d="M894.45 902.57L900.62 901.92A6.2 6.2 0 0 0 900.51 901.28Z"/><path d="M894.45 902.57L899 901.6A4.65 4.65 0 0 0 898.87 901.13Z"/><path d="M894.45 902.57L895.92 902.09A1.55 1.55 0 0 0 895.87 901.94Z"/><path d="M894.45 902.57L895.87 901.94A1.55 1.55 0 0 0 895.79 901.8Z"/><path d="M894.45 902.57L895.79 901.8A1.55 1.55 0 0 0 895.7 901.66Z"/><path d="M894.45 902.57L895.7 901.66A1.55 1.55 0 0 0 895.6 901.53Z"/><path d="M894.45 902.57L895.6 901.53A1.55 1.55 0 0 0 895.49 901.42Z"/><path d="M894.45 902.57L893.41 903.72A1.55 1.55 0 0 0 893.54 903.82Z"/><path d="M894.45 902.57L893.54 903.82A1.55 1.55 0 0 0 893.68 903.91Z"/><path d="M894.45 902.57L893.68 903.91A1.55 1.55 0 0 0 893.82 903.99Z"/><path d="M894.45 902.57L893.82 903.99A1.55 1.55 0 0 0 893.97 904.04Z"/><path d="M894.45 902.57L893.97 904.04A1.55 1.55 0 0 0 894.13 904.09Z"/><path d="M894.45 902.57L894.13 904.09A1.55 1.55 0 0 0 894.29 904.11Z"/><path d="M894.45 902.57L894.13 905.65A3.1 3.1 0 0 0 894.45 905.67Z"/><path d="M894.45 902.57L894.45 905.67A3.1 3.1 0 0 0 894.77 905.65Z"/><path d="M894.45 902.57L894.94 907.19A4.65 4.65 0 0 0 895.42 907.12Z"/><path d="M894.45 902.57L895.74 908.63A6.2 6.2 0 0 0 896.37 908.47Z"/><path d="M894.45 902.57L900.2 920.26A18.6 18.6 0 0 0 902.02 919.56Z"/><path d="M894.45 902.57L918.85 957.37A59.99 59.99 0 0 0 924.44 954.52Z"/><path d="M894.45 902.57L907.55 925.26A26.2 26.2 0 0 0 909.85 923.76Z"/><path d="M894.45 902.57L905.38 917.62A18.6 18.6 0 0 0 906.9 916.39Z"/><path d="M894.45 902.57L906.9 916.39A18.6 18.6 0 0 0 908.27 915.02Z"/><path d="M894.45 902.57L912.76 919.06A24.64 24.64 0 0 0 914.39 917.06Z"/><path d="M894.45 902.57L918.78 920.24A30.07 30.07 0 0 0 920.49 917.61Z"/><path d="M894.45 902.57L914.59 914.2A23.25 23.25 0 0 0 915.69 912.03Z"/><path d="M894.45 902.57L918.52 913.29A26.35 26.35 0 0 0 919.51 910.71Z"/><path d="M894.45 902.57L919.36 910.66A26.2 26.2 0 0 0 920.07 908.02Z"/><path d="M894.45 902.57L909.61 905.79A15.5 15.5 0 0 0 909.87 904.19Z"/><path d="M894.45 902.57L906.78 903.87A12.4 12.4 0 0 0 906.85 902.57Z"/></g>
<circle cx="894.45" cy="902.57" r="15.5" fill="none" stroke="#b0b0b0" stroke-width="0.6"/>
<circle cx="894.45" cy="902.57" r="31" fill="none" stroke="#b0b0b0" stroke-width="0.6"/>
<circle cx="894.45" cy="902.57" r="46.5" fill="none" stroke="#b0b0b0" stroke-width="0.6"/>
<circle cx="894.45" cy="902.57" r="62" fill="none" stroke="#b0b0b0" stroke-width="0.6"/>
<circle cx="894.45" cy="902.57" r="77.5" fill="none" stroke="#b0b0b0" stroke-width="0.6"/>
<circle cx="894.45" cy="902.57" r="93" fill="none" stroke="#b0b0b0" stroke-width="0.6"/>
<path d="M1002.95 902.57L785.95 902.57M971.17 825.85L817.73 979.29M894.45 794.07L894.45 1011.07M817.73 825.85L971.17 979.29" stroke="#b0b0b0" stroke-width="0.75"/>
</g>
<circle cx="894.45" cy="902.57" r="108.5" fill="none" stroke="#474747" stroke-width="0.95"/>
<text class="t" x="1010.55" y="905.27" text-anchor="middle" textLength="8.86" lengthAdjust="spacingAndGlyphs">0°</text>
<text class="t" x="976.55" y="823.17" text-anchor="middle" textLength="13.83" lengthAdjust="spacingAndGlyphs">45°</text>
<text class="t" x="894.45" y="789.17" text-anchor="middle" textLength="13.83" lengthAdjust="spacingAndGlyphs">90°</text>
<text class="t" x="812.35" y="823.17" text-anchor="middle" textLength="18.79" lengthAdjust="spacingAndGlyphs">135°</text>
<text class="t" x="778.35" y="905.27" text-anchor="middle" textLength="18.79" lengthAdjust="spacingAndGlyphs">180°</text>
<text class="t" x="812.35" y="987.37" text-anchor="middle" textLength="18.79" lengthAdjust="spacingAndGlyphs">225°</text>
<text class="t" x="894.45" y="1021.37" text-anchor="middle" textLength="18.79" lengthAdjust="spacingAndGlyphs">270°</text>
<text class="t" x="976.55" y="987.37" text-anchor="middle" textLength="18.79" lengthAdjust="spacingAndGlyphs">315°</text>
<text class="t" x="908.57" y="894.84" textLength="9.93" lengthAdjust="spacingAndGlyphs">10</text>
<text class="t" x="922.89" y="888.91" textLength="9.93" lengthAdjust="spacingAndGlyphs">20</text>
<text class="t" x="937.21" y="882.98" textLength="9.93" lengthAdjust="spacingAndGlyphs">30</text>
<text class="t" x="951.53" y="877.04" textLength="9.93" lengthAdjust="spacingAndGlyphs">40</text>
<text class="t" x="965.85" y="871.11" textLength="9.93" lengthAdjust="spacingAndGlyphs">50</text>
<text class="t" x="980.17" y="865.18" textLength="9.93" lengthAdjust="spacingAndGlyphs">60</text>
<text class="ti" x="785.85" y="779.87" textLength="44.29" lengthAdjust="spacingAndGlyphs">P7:SolO</text>
<clipPath id="c15"><circle cx="125.65" cy="1159.52" r="108.5"/></clipPath>
<g clip-path="url(#c15)">
<circle cx="125.65" cy="1159.52" r="108.5" fill="#ffcccc"/>
<polygon points="181.31,1006.59 0.11,1009.91 -66.68,1193.43 69.99,1312.45 125.65,1159.52" fill="#ccccff"/>
<g fill="none" stroke="#000038" stroke-width="0.65"><path d="M125.65 1159.52L126.61 1156.57A3.1 3.1 0 0 0 126.29 1156.49Z"/><path d="M125.65 1159.52L126.29 1156.49A3.1 3.1 0 0 0 125.97 1156.44Z"/><path d="M125.65 1159.52L125.97 1156.44A3.1 3.1 0 0 0 125.65 1156.42Z"/><path d="M125.65 1159.52L125.65 1156.42A3.1 3.1 0 0 0 125.33 1156.44Z"/><path d="M125.65 1159.52L125.33 1156.44A3.1 3.1 0 0 0 125.01 1156.49Z"/><path d="M125.65 1159.52L125.01 1156.49A3.1 3.1 0 0 0 124.69 1156.57Z"/><path d="M125.65 1159.52L124.69 1156.57A3.1 3.1 0 0 0 124.39 1156.69Z"/><path d="M125.65 1159.52L124.39 1156.69A3.1 3.1 0 0 0 124.1 1156.84Z"/><path d="M125.65 1159.52L124.1 1156.84A3.1 3.1 0 0 0 123.83 1157.01Z"/><path d="M125.65 1159.52L116.17 1146.48A16.12 16.12 0 0 0 114.86 1147.54Z"/><path d="M125.65 1159.52L116.32 1149.15A13.95 13.95 0 0 0 115.28 1150.19Z"/><path d="M125.65 1159.52L114.13 1149.15A15.5 15.5 0 0 0 113.11 1150.41Z"/><path d="M125.65 1159.52L107.84 1146.58A22.01 22.01 0 0 0 106.59 1148.51Z"/><path d="M125.65 1159.52L109.54 1150.22A18.6 18.6 0 0 0 108.66 1151.95Z"/><path d="M125.65 1159.52L104.41 1150.06A23.25 23.25 0 0 0 103.54 1152.34Z"/><path d="M125.65 1159.52L95.14 1149.61A32.09 32.09 0 0 0 94.27 1152.85Z"/><path d="M125.65 1159.52L95.33 1153.07A31 31 0 0 0 94.82 1156.28Z"/><path d="M125.65 1159.52L87.88 1155.55A37.98 37.98 0 0 0 87.68 1159.52Z"/><path d="M125.65 1159.52L120.23 1159.52A5.42 5.42 0 0 0 120.25 1160.09Z"/><path d="M125.65 1159.52L122.57 1159.84A3.1 3.1 0 0 0 122.62 1160.16Z"/><path d="M125.65 1159.52L122.62 1160.16A3.1 3.1 0 0 0 122.7 1160.48Z"/><path d="M125.65 1159.52L121.52 1160.86A4.34 4.34 0 0 0 121.69 1161.29Z"/><path d="M125.65 1159.52L122.82 1160.78A3.1 3.1 0 0 0 122.97 1161.07Z"/><path d="M125.65 1159.52L122.97 1161.07A3.1 3.1 0 0 0 123.14 1161.34Z"/><path d="M125.65 1159.52L123.14 1161.34A3.1 3.1 0 0 0 123.35 1161.59Z"/><path d="M125.65 1159.52L123.35 1161.59A3.1 3.1 0 0 0 123.58 1161.82Z"/><path d="M125.65 1159.52L123.58 1161.82A3.1 3.1 0 0 0 123.83 1162.03Z"/><path d="M125.65 1159.52L123.83 1162.03A3.1 3.1 0 0 0 124.1 1162.2Z"/><path d="M125.65 1159.52L124.1 1162.2A3.1 3.1 0 0 0 124.39 1162.35Z"/><path d="M125.65 1159.52L124.39 1162.35A3.1 3.1 0 0 0 124.69 1162.47Z"/></g>
<g fill="none" stroke="#380000" stroke-width="0.65"><path d="M125.65 1159.52L158.51 1159.52A32.86 32.86 0 0 0 158.33 1156.09Z"/><path d="M125.65 1159.52L154.78 1156.46A29.29 29.29 0 0 0 154.3 1153.43Z"/><path d="M125.65 1159.52L139.3 1156.62A13.95 13.95 0 0 0 138.92 1155.21Z"/><path d="M125.65 1159.52L137.44 1155.69A12.4 12.4 0 0 0 136.98 1154.48Z"/><path d="M125.65 1159.52L135.56 1155.11A10.85 10.85 0 0 0 135.05 1154.1Z"/><path d="M125.65 1159.52L129.68 1157.19A4.65 4.65 0 0 0 129.41 1156.79Z"/><path d="M125.65 1159.52L128.16 1157.7A3.1 3.1 0 0 0 127.95 1157.45Z"/><path d="M125.65 1159.52L127.95 1157.45A3.1 3.1 0 0 0 127.72 1157.22Z"/><path d="M125.65 1159.52L127.72 1157.22A3.1 3.1 0 0 0 127.47 1157.01Z"/><path d="M125.65 1159.52L127.47 1157.01A3.1 3.1 0 0 0 127.2 1156.84Z"/><path d="M125.65 1159.52L127.2 1156.84A3.1 3.1 0 0 0 126.91 1156.69Z"/><path d="M125.65 1159.52L126.91 1156.69A3.1 3.1 0 0 0 126.61 1156.57Z"/><path d="M125.65 1159.52L124.69 1162.47A3.1 3.1 0 0 0 125.01 1162.55Z"/><path d="M125.65 1159.52L125.01 1162.55A3.1 3.1 0 0 0 125.33 1162.6Z"/><path d="M125.65 1159.52L125.16 1164.14A4.65 4.65 0 0 0 125.65 1164.17Z"/><path d="M125.65 1159.52L125.65 1167.27A7.75 7.75 0 0 0 126.46 1167.23Z"/><path d="M125.65 1159.52L126.62 1168.77A9.3 9.3 0 0 0 127.58 1168.62Z"/><path d="M125.65 1159.52L128.55 1173.17A13.95 13.95 0 0 0 129.96 1172.79Z"/><path d="M125.65 1159.52L131.4 1177.21A18.6 18.6 0 0 0 133.22 1176.51Z"/><path d="M125.65 1159.52L135.67 1182.03A24.64 24.64 0 0 0 137.97 1180.86Z"/><path d="M125.65 1159.52L139.6 1183.68A27.9 27.9 0 0 0 142.05 1182.09Z"/><path d="M125.65 1159.52L146.42 1188.11A35.34 35.34 0 0 0 149.3 1185.78Z"/><path d="M125.65 1159.52L154.59 1191.66A43.24 43.24 0 0 0 157.79 1188.46Z"/><path d="M125.65 1159.52L160.21 1190.63A46.5 46.5 0 0 0 163.27 1186.85Z"/><path d="M125.65 1159.52L177.31 1197.06A63.86 63.86 0 0 0 180.95 1191.45Z"/><path d="M125.65 1159.52L192.23 1197.96A76.88 76.88 0 0 0 195.88 1190.79Z"/><path d="M125.65 1159.52L197.58 1191.55A78.74 78.74 0 0 0 200.54 1183.85Z"/><path d="M125.65 1159.52L209.82 1186.87A88.51 88.51 0 0 0 212.22 1177.92Z"/><path d="M125.65 1159.52L211.01 1177.66A87.27 87.27 0 0 0 212.44 1168.64Z"/><path d="M125.65 1159.52L181.61 1165.4A56.27 56.27 0 0 0 181.92 1159.52Z"/></g>
<circle cx="125.65" cy="1159.52" r="15.5" fill="none" stroke="#b0b0b0" stroke-width="0.6"/>
<circle cx="125.65" cy="1159.52" r="31" fill="none" stroke="#b0b0b0" stroke-width="0.6"/>
<circle cx="125.65" cy="1159.52" r="46.5" fill="none" stroke="#b0b0b0" stroke-width="0.6"/>
<circle cx="125.65" cy="1159.52" r="62" fill="none" stroke="#b0b0b0" stroke-width="0.6"/>
<circle cx="125.65" cy="1159.52" r="77.5" fill="none" stroke="#b0b0b0" stroke-width="0.6"/>
<circle cx="125.65" cy="1159.52" r="93" fill="none" stroke="#b0b0b0" stroke-width="0.6"/>
<path d="M234.15 1159.52L17.15 1159.52M202.37 1082.8L48.93 1236.24M125.65 1051.02L125.65 1268.02M48.93 1082.8L202.37 1236.24" stroke="#b0b0b0" stroke-width="0.75"/>
</g>
<circle cx="125.65" cy="1159.52" r="108.5" fill="none" stroke="#474747" stroke-width="0.95"/>
<text class="t" x="241.75" y="1162.22" text-anchor="middle" textLength="8.86" lengthAdjust="spacingAndGlyphs">0°</text>
<text class="t" x="207.75" y="1080.12" text-anchor="middle" textLength="13.83" lengthAdjust="spacingAndGlyphs">45°</text>
<text class="t" x="125.65" y="1046.12" text-anchor="middle" textLength="13.83" lengthAdjust="spacingAndGlyphs">90°</text>
<text class="t" x="43.55" y="1080.12" text-anchor="middle" textLength="18.79" lengthAdjust="spacingAndGlyphs">135°</text>
<text class="t" x="9.55" y="1162.22" text-anchor="middle" textLength="18.79" lengthAdjust="spacingAndGlyphs">180°</text>
<text class="t" x="43.55" y="1244.32" text-anchor="middle" textLength="18.79" lengthAdjust="spacingAndGlyphs">225°</text>
<text class="t" x="125.65" y="1278.32" text-anchor="middle" textLength="18.79" lengthAdjust="spacingAndGlyphs">270°</text>
<text class="t" x="207.75" y="1244.32" text-anchor="middle" textLength="18.79" lengthAdjust="spacingAndGlyphs">315°</text>
<text class="t" x="139.77" y="1151.79" textLength="9.93" lengthAdjust="spacingAndGlyphs">10</text>
<text class="t" x="154.09" y="1145.86" textLength="9.93" lengthAdjust="spacingAndGlyphs">20</text>
<text class="t" x="168.41" y="1139.93" textLength="9.93" lengthAdjust="spacingAndGlyphs">30</text>
<text class="t" x="182.73" y="1133.99" textLength="9.93" lengthAdjust="spacingAndGlyphs">40</text>
<text class="t" x="197.05" y="1128.06" textLength="9.93" lengthAdjust="spacingAndGlyphs">50</text>
<text class="t" x="211.37" y="1122.13" textLength="9.93" lengthAdjust="spacingAndGlyphs">60</text>
<text class="ti" x="17.05" y="1036.82" textLength="40.15" lengthAdjust="spacingAndGlyphs">P8:PSP</text>
<clipPath id="c16"><circle cx="382" cy="1159.52" r="108.5"/></clipPath>
<g clip-path="url(#c16)">
<circle cx="382" cy="1159.52" r="108.5" fill="#ffcccc"/>
<polygon points="497.08,1044.44 331.45,970.87 193.35,1108.97 266.92,1274.6 382,1159.52" fill="#ccccff"/>
<g fill="none" stroke="#000038" stroke-width="0.65"><path d="M382 1159.52L384.53 1156.94A3.62 3.62 0 0 0 384.27 1156.7Z"/><path d="M382 1159.52L384.27 1156.7A3.62 3.62 0 0 0 383.98 1156.49Z"/><path d="M382 1159.52L383.98 1156.49A3.62 3.62 0 0 0 383.67 1156.31Z"/><path d="M382 1159.52L383.67 1156.31A3.62 3.62 0 0 0 383.35 1156.16Z"/><path d="M382 1159.52L385.54 1150.68A9.52 9.52 0 0 0 384.66 1150.37Z"/><path d="M382 1159.52L383.01 1156.05A3.62 3.62 0 0 0 382.66 1155.96Z"/><path d="M382 1159.52L382.66 1155.96A3.62 3.62 0 0 0 382.31 1155.92Z"/><path d="M382 1159.52L382.31 1155.92A3.62 3.62 0 0 0 381.95 1155.9Z"/><path d="M382 1159.52L381.95 1155.9A3.62 3.62 0 0 0 381.6 1155.93Z"/><path d="M382 1159.52L381.19 1152.33A7.23 7.23 0 0 0 380.49 1152.45Z"/><path d="M382 1159.52L379.99 1150.09A9.64 9.64 0 0 0 379.07 1150.33Z"/><path d="M382 1159.52L377.82 1146.43A13.74 13.74 0 0 0 376.55 1146.9Z"/><path d="M382 1159.52L368.48 1128.2A34.12 34.12 0 0 0 365.46 1129.68Z"/><path d="M382 1159.52L363.41 1125.99A38.34 38.34 0 0 0 360.2 1127.98Z"/><path d="M382 1159.52L356.84 1123.12A44.24 44.24 0 0 0 353.38 1125.78Z"/><path d="M382 1159.52L337.09 1106.56A69.44 69.44 0 0 0 332.09 1111.24Z"/><path d="M382 1159.52L318.31 1097.91A88.61 88.61 0 0 0 312.56 1104.48Z"/><path d="M382 1159.52L330.41 1118.63A65.82 65.82 0 0 0 326.64 1123.91Z"/><path d="M382 1159.52L360.61 1145.76A25.44 25.44 0 0 0 359.36 1147.93Z"/><path d="M382 1159.52L368.26 1152.49A15.43 15.43 0 0 0 367.64 1153.88Z"/><path d="M382 1159.52L373.02 1155.99A9.64 9.64 0 0 0 372.72 1156.89Z"/><path d="M382 1159.52L375.04 1157.55A7.23 7.23 0 0 0 374.88 1158.25Z"/><path d="M382 1159.52L378.44 1158.88A3.62 3.62 0 0 0 378.39 1159.24Z"/><path d="M382 1159.52L378.39 1159.24A3.62 3.62 0 0 0 378.38 1159.59Z"/><path d="M382 1159.52L378.38 1159.59A3.62 3.62 0 0 0 378.41 1159.95Z"/><path d="M382 1159.52L378.41 1159.95A3.62 3.62 0 0 0 378.47 1160.3Z"/><path d="M382 1159.52L378.47 1160.3A3.62 3.62 0 0 0 378.56 1160.64Z"/><path d="M382 1159.52L378.56 1160.64A3.62 3.62 0 0 0 378.69 1160.98Z"/><path d="M382 1159.52L378.69 1160.98A3.62 3.62 0 0 0 378.85 1161.3Z"/><path d="M382 1159.52L378.85 1161.3A3.62 3.62 0 0 0 379.04 1161.6Z"/><path d="M382 1159.52L379.04 1161.6A3.62 3.62 0 0 0 379.26 1161.88Z"/><path d="M382 1159.52L379.26 1161.88A3.62 3.62 0 0 0 379.5 1162.14Z"/></g>
<g fill="none" stroke="#380000" stroke-width="0.65"><path d="M382 1159.52L385.6 1159.85A3.62 3.62 0 0 0 385.62 1159.5Z"/><path d="M382 1159.52L385.62 1159.5A3.62 3.62 0 0 0 385.6 1159.14Z"/><path d="M382 1159.52L385.6 1159.14A3.62 3.62 0 0 0 385.54 1158.79Z"/><path d="M382 1159.52L385.54 1158.79A3.62 3.62 0 0 0 385.45 1158.44Z"/><path d="M382 1159.52L385.45 1158.44A3.62 3.62 0 0 0 385.33 1158.11Z"/><path d="M382 1159.52L385.33 1158.11A3.62 3.62 0 0 0 385.18 1157.79Z"/><path d="M382 1159.52L385.18 1157.79A3.62 3.62 0 0 0 384.99 1157.48Z"/><path d="M382 1159.52L384.99 1157.48A3.62 3.62 0 0 0 384.77 1157.2Z"/><path d="M382 1159.52L384.77 1157.2A3.62 3.62 0 0 0 384.53 1156.94Z"/><path d="M382 1159.52L379.5 1162.14A3.62 3.62 0 0 0 379.77 1162.37Z"/><path d="M382 1159.52L379.77 1162.37A3.62 3.62 0 0 0 380.06 1162.58Z"/><path d="M382 1159.52L380.06 1162.58A3.62 3.62 0 0 0 380.37 1162.75Z"/><path d="M382 1159.52L380.37 1162.75A3.62 3.62 0 0 0 380.7 1162.9Z"/><path d="M382 1159.52L380.7 1162.9A3.62 3.62 0 0 0 381.04 1163.01Z"/><path d="M382 1159.52L381.04 1163.01A3.62 3.62 0 0 0 381.39 1163.08Z"/><path d="M382 1159.52L381.39 1163.08A3.62 3.62 0 0 0 381.74 1163.13Z"/><path d="M382 1159.52L381.74 1163.13A3.62 3.62 0 0 0 382.1 1163.14Z"/><path d="M382 1159.52L382.26 1169.16A9.64 9.64 0 0 0 383.21 1169.09Z"/><path d="M382 1159.52L384.9 1182.48A23.15 23.15 0 0 0 387.15 1182.09Z"/><path d="M382 1159.52L387.36 1183.03A24.11 24.11 0 0 0 389.65 1182.39Z"/><path d="M382 1159.52L390.57 1185.13A27 27 0 0 0 393.05 1184.16Z"/><path d="M382 1159.52L419.29 1242.68A91.14 91.14 0 0 0 427.29 1238.61Z"/><path d="M382 1159.52L402.07 1194.57A40.39 40.39 0 0 0 405.42 1192.42Z"/><path d="M382 1159.52L392.49 1174.25A18.08 18.08 0 0 0 393.89 1173.15Z"/><path d="M382 1159.52L392.14 1171.15A15.43 15.43 0 0 0 393.24 1170.09Z"/><path d="M382 1159.52L389.02 1166.13A9.64 9.64 0 0 0 389.64 1165.4Z"/><path d="M382 1159.52L384.87 1161.73A3.62 3.62 0 0 0 385.07 1161.43Z"/><path d="M382 1159.52L385.07 1161.43A3.62 3.62 0 0 0 385.24 1161.12Z"/><path d="M382 1159.52L385.24 1161.12A3.62 3.62 0 0 0 385.38 1160.8Z"/><path d="M382 1159.52L385.38 1160.8A3.62 3.62 0 0 0 385.49 1160.46Z"/><path d="M382 1159.52L385.49 1160.46A3.62 3.62 0 0 0 385.57 1160.11Z"/><path d="M382 1159.52L385.57 1160.11A3.62 3.62 0 0 0 385.61 1159.75Z"/><path d="M382 1159.52L385.61 1159.75A3.62 3.62 0 0 0 385.61 1159.4Z"/></g>
<circle cx="382" cy="1159.52" r="12.06" fill="none" stroke="#b0b0b0" stroke-width="0.6"/>
<circle cx="382" cy="1159.52" r="24.11" fill="none" stroke="#b0b0b0" stroke-width="0.6"/>
<circle cx="382" cy="1159.52" r="36.17" fill="none" stroke="#b0b0b0" stroke-width="0.6"/>
<circle cx="382" cy="1159.52" r="48.22" fill="none" stroke="#b0b0b0" stroke-width="0.6"/>
<circle cx="382" cy="1159.52" r="60.28" fill="none" stroke="#b0b0b0" stroke-width="0.6"/>
<circle cx="382" cy="1159.52" r="72.33" fill="none" stroke="#b0b0b0" stroke-width="0.6"/>
<circle cx="382" cy="1159.52" r="84.39" fill="none" stroke="#b0b0b0" stroke-width="0.6"/>
<circle cx="382" cy="1159.52" r="96.44" fill="none" stroke="#b0b0b0" stroke-width="0.6"/>
<path d="M490.5 1159.52L273.5 1159.52M458.72 1082.8L305.28 1236.24M382 1051.02L382 1268.02M305.28 1082.8L458.72 1236.24" stroke="#b0b0b0" stroke-width="0.75"/>
</g>
<circle cx="382" cy="1159.52" r="108.5" fill="none" stroke="#474747" stroke-width="0.95"/>
<text class="t" x="498.1" y="1162.22" text-anchor="middle" textLength="8.86" lengthAdjust="spacingAndGlyphs">0°</text>
<text class="t" x="464.1" y="1080.12" text-anchor="middle" textLength="13.83" lengthAdjust="spacingAndGlyphs">45°</text>
<text class="t" x="382" y="1046.12" text-anchor="middle" textLength="13.83" lengthAdjust="spacingAndGlyphs">90°</text>
<text class="t" x="299.9" y="1080.12" text-anchor="middle" textLength="18.79" lengthAdjust="spacingAndGlyphs">135°</text>
<text class="t" x="265.9" y="1162.22" text-anchor="middle" textLength="18.79" lengthAdjust="spacingAndGlyphs">180°</text>
<text class="t" x="299.9" y="1244.32" text-anchor="middle" textLength="18.79" lengthAdjust="spacingAndGlyphs">225°</text>
<text class="t" x="382" y="1278.32" text-anchor="middle" textLength="18.79" lengthAdjust="spacingAndGlyphs">270°</text>
<text class="t" x="464.1" y="1244.32" text-anchor="middle" textLength="18.79" lengthAdjust="spacingAndGlyphs">315°</text>
<text class="t" x="392.94" y="1153.11" textLength="9.93" lengthAdjust="spacingAndGlyphs">10</text>
<text class="t" x="404.08" y="1148.49" textLength="9.93" lengthAdjust="spacingAndGlyphs">20</text>
<text class="t" x="415.21" y="1143.88" textLength="9.93" lengthAdjust="spacingAndGlyphs">30</text>
<text class="t" x="426.35" y="1139.27" textLength="9.93" lengthAdjust="spacingAndGlyphs">40</text>
<text class="t" x="437.49" y="1134.65" textLength="9.93" lengthAdjust="spacingAndGlyphs">50</text>
<text class="t" x="448.63" y="1130.04" textLength="9.93" lengthAdjust="spacingAndGlyphs">60</text>
<text class="t" x="459.77" y="1125.43" textLength="9.93" lengthAdjust="spacingAndGlyphs">70</text>
<text class="t" x="470.9" y="1120.81" textLength="9.93" lengthAdjust="spacingAndGlyphs">80</text>
<text class="ti" x="273.4" y="1036.82" textLength="48.7" lengthAdjust="spacingAndGlyphs">P8:Earth</text>
<clipPath id="c17"><circle cx="638" cy="1159.52" r="108.5"/></clipPath>
<g clip-path="url(#c17)">
<circle cx="638" cy="1159.52" r="108.5" fill="#ffcccc"/>
<polygon points="753.08,1044.44 587.45,970.87 449.35,1108.97 522.92,1274.6 638,1159.52" fill="#ccccff"/>
<g fill="none" stroke="#000038" stroke-width="0.65"><path d="M638 1159.52L641.45 1156.4A4.65 4.65 0 0 0 641.11 1156.07Z"/><path d="M638 1159.52L641.11 1156.07A4.65 4.65 0 0 0 640.75 1155.77Z"/><path d="M638 1159.52L640.75 1155.77A4.65 4.65 0 0 0 640.35 1155.51Z"/><path d="M638 1159.52L640.35 1155.51A4.65 4.65 0 0 0 639.93 1155.29Z"/><path d="M638 1159.52L639.93 1155.29A4.65 4.65 0 0 0 639.49 1155.12Z"/><path d="M638 1159.52L639.49 1155.12A4.65 4.65 0 0 0 639.04 1154.99Z"/><path d="M638 1159.52L639.04 1154.99A4.65 4.65 0 0 0 638.57 1154.91Z"/><path d="M638 1159.52L638.57 1154.91A4.65 4.65 0 0 0 638.1 1154.87Z"/><path d="M638 1159.52L638.1 1154.87A4.65 4.65 0 0 0 637.63 1154.88Z"/><path d="M638 1159.52L637.02 1147.16A12.4 12.4 0 0 0 635.77 1147.32Z"/><path d="M638 1159.52L632.31 1128.42A31.62 31.62 0 0 0 629.19 1129.15Z"/><path d="M638 1159.52L630.7 1134.36A26.2 26.2 0 0 0 628.19 1135.23Z"/><path d="M638 1159.52L629.87 1139.4A21.7 21.7 0 0 0 627.87 1140.33Z"/><path d="M638 1159.52L625.99 1136.76A25.73 25.73 0 0 0 623.75 1138.1Z"/><path d="M638 1159.52L620.48 1133.2A31.62 31.62 0 0 0 617.9 1135.11Z"/><path d="M638 1159.52L599.29 1112.49A60.91 60.91 0 0 0 594.72 1116.66Z"/><path d="M638 1159.52L589.87 1111.86A67.73 67.73 0 0 0 585.29 1116.98Z"/><path d="M638 1159.52L570.81 1105.3A86.34 86.34 0 0 0 565.66 1112.4Z"/><path d="M638 1159.52L578.52 1120.77A70.99 70.99 0 0 0 574.89 1127Z"/><path d="M638 1159.52L585.23 1132.33A59.36 59.36 0 0 0 582.74 1137.82Z"/><path d="M638 1159.52L582.31 1137.65A59.83 59.83 0 0 0 580.38 1143.41Z"/><path d="M638 1159.52L599.64 1148.79A39.84 39.84 0 0 0 598.75 1152.74Z"/><path d="M638 1159.52L622.73 1156.88A15.5 15.5 0 0 0 622.54 1158.44Z"/><path d="M638 1159.52L625.63 1158.66A12.4 12.4 0 0 0 625.61 1159.92Z"/><path d="M638 1159.52L625.61 1159.92A12.4 12.4 0 0 0 625.71 1161.17Z"/><path d="M638 1159.52L626.48 1161.07A11.62 11.62 0 0 0 626.7 1162.23Z"/><path d="M638 1159.52L633.48 1160.6A4.65 4.65 0 0 0 633.61 1161.06Z"/><path d="M638 1159.52L633.61 1161.06A4.65 4.65 0 0 0 633.79 1161.49Z"/><path d="M638 1159.52L633.79 1161.49A4.65 4.65 0 0 0 634.01 1161.91Z"/><path d="M638 1159.52L634.01 1161.91A4.65 4.65 0 0 0 634.27 1162.3Z"/><path d="M638 1159.52L634.27 1162.3A4.65 4.65 0 0 0 634.58 1162.67Z"/></g>
<g fill="none" stroke="#380000" stroke-width="0.65"><path d="M638 1159.52L642.64 1159.88A4.65 4.65 0 0 0 642.65 1159.4Z"/><path d="M638 1159.52L642.65 1159.4A4.65 4.65 0 0 0 642.61 1158.93Z"/><path d="M638 1159.52L642.61 1158.93A4.65 4.65 0 0 0 642.53 1158.47Z"/><path d="M638 1159.52L642.53 1158.47A4.65 4.65 0 0 0 642.4 1158.02Z"/><path d="M638 1159.52L642.4 1158.02A4.65 4.65 0 0 0 642.22 1157.58Z"/><path d="M638 1159.52L642.22 1157.58A4.65 4.65 0 0 0 642.01 1157.16Z"/><path d="M638 1159.52L642.01 1157.16A4.65 4.65 0 0 0 641.75 1156.76Z"/><path d="M638 1159.52L641.75 1156.76A4.65 4.65 0 0 0 641.45 1156.4Z"/><path d="M638 1159.52L634.58 1162.67A4.65 4.65 0 0 0 634.91 1163Z"/><path d="M638 1159.52L634.91 1163A4.65 4.65 0 0 0 635.28 1163.29Z"/><path d="M638 1159.52L635.28 1163.29A4.65 4.65 0 0 0 635.68 1163.55Z"/><path d="M638 1159.52L635.68 1163.55A4.65 4.65 0 0 0 636.1 1163.76Z"/><path d="M638 1159.52L636.1 1163.76A4.65 4.65 0 0 0 636.54 1163.93Z"/><path d="M638 1159.52L636.54 1163.93A4.65 4.65 0 0 0 636.99 1164.06Z"/><path d="M638 1159.52L635.99 1168.6A9.3 9.3 0 0 0 636.92 1168.76Z"/><path d="M638 1159.52L632.99 1202.32A43.09 43.09 0 0 0 637.35 1202.61Z"/><path d="M638 1159.52L637.72 1178.12A18.6 18.6 0 0 0 639.61 1178.05Z"/><path d="M638 1159.52L639.88 1181.14A21.7 21.7 0 0 0 642.06 1180.84Z"/><path d="M638 1159.52L642.7 1184.19A25.11 25.11 0 0 0 645.17 1183.58Z"/><path d="M638 1159.52L645.97 1186.26A27.9 27.9 0 0 0 648.64 1185.31Z"/><path d="M638 1159.52L665.02 1225A70.84 70.84 0 0 0 671.52 1221.92Z"/><path d="M638 1159.52L649 1180A23.25 23.25 0 0 0 651.02 1178.78Z"/><path d="M638 1159.52L648.5 1175.06A18.75 18.75 0 0 0 650.03 1173.91Z"/><path d="M638 1159.52L650.12 1174.03A18.91 18.91 0 0 0 651.53 1172.73Z"/><path d="M638 1159.52L646.87 1168.18A12.4 12.4 0 0 0 647.71 1167.24Z"/><path d="M638 1159.52L641.64 1162.41A4.65 4.65 0 0 0 641.91 1162.03Z"/><path d="M638 1159.52L641.91 1162.03A4.65 4.65 0 0 0 642.15 1161.62Z"/><path d="M638 1159.52L642.15 1161.62A4.65 4.65 0 0 0 642.34 1161.19Z"/><path d="M638 1159.52L642.34 1161.19A4.65 4.65 0 0 0 642.49 1160.74Z"/><path d="M638 1159.52L642.49 1160.74A4.65 4.65 0 0 0 642.59 1160.28Z"/><path d="M638 1159.52L642.59 1160.28A4.65 4.65 0 0 0 642.64 1159.81Z"/><path d="M638 1159.52L642.64 1159.81A4.65 4.65 0 0 0 642.65 1159.34Z"/></g>
<circle cx="638" cy="1159.52" r="15.5" fill="none" stroke="#b0b0b0" stroke-width="0.6"/>
<circle cx="638" cy="1159.52" r="31" fill="none" stroke="#b0b0b0" stroke-width="0.6"/>
<circle cx="638" cy="1159.52" r="46.5" fill="none" stroke="#b0b0b0" stroke-width="0.6"/>
<circle cx="638" cy="1159.52" r="62" fill="none" stroke="#b0b0b0" stroke-width="0.6"/>
<circle cx="638" cy="1159.52" r="77.5" fill="none" stroke="#b0b0b0" stroke-width="0.6"/>
<circle cx="638" cy="1159.52" r="93" fill="none" stroke="#b0b0b0" stroke-width="0.6"/>
<path d="M746.5 1159.52L529.5 1159.52M714.72 1082.8L561.28 1236.24M638 1051.02L638 1268.02M561.28 1082.8L714.72 1236.24" stroke="#b0b0b0" stroke-width="0.75"/>
</g>
<circle cx="638" cy="1159.52" r="108.5" fill="none" stroke="#474747" stroke-width="0.95"/>
<text class="t" x="754.1" y="1162.22" text-anchor="middle" textLength="8.86" lengthAdjust="spacingAndGlyphs">0°</text>
<text class="t" x="720.1" y="1080.12" text-anchor="middle" textLength="13.83" lengthAdjust="spacingAndGlyphs">45°</text>
<text class="t" x="638" y="1046.12" text-anchor="middle" textLength="13.83" lengthAdjust="spacingAndGlyphs">90°</text>
<text class="t" x="555.9" y="1080.12" text-anchor="middle" textLength="18.79" lengthAdjust="spacingAndGlyphs">135°</text>
<text class="t" x="521.9" y="1162.22" text-anchor="middle" textLength="18.79" lengthAdjust="spacingAndGlyphs">180°</text>
<text class="t" x="555.9" y="1244.32" text-anchor="middle" textLength="18.79" lengthAdjust="spacingAndGlyphs">225°</text>
<text class="t" x="638" y="1278.32" text-anchor="middle" textLength="18.79" lengthAdjust="spacingAndGlyphs">270°</text>
<text class="t" x="720.1" y="1244.32" text-anchor="middle" textLength="18.79" lengthAdjust="spacingAndGlyphs">315°</text>
<text class="t" x="652.12" y="1151.79" textLength="9.93" lengthAdjust="spacingAndGlyphs">10</text>
<text class="t" x="666.44" y="1145.86" textLength="9.93" lengthAdjust="spacingAndGlyphs">20</text>
<text class="t" x="680.76" y="1139.93" textLength="9.93" lengthAdjust="spacingAndGlyphs">30</text>
<text class="t" x="695.08" y="1133.99" textLength="9.93" lengthAdjust="spacingAndGlyphs">40</text>
<text class="t" x="709.4" y="1128.06" textLength="9.93" lengthAdjust="spacingAndGlyphs">50</text>
<text class="t" x="723.72" y="1122.13" textLength="9.93" lengthAdjust="spacingAndGlyphs">60</text>
<text class="ti" x="529.4" y="1036.82" textLength="74.25" lengthAdjust="spacingAndGlyphs">P8:STEREO-A</text>
<clipPath id="c18"><circle cx="894.45" cy="1159.52" r="108.5"/></clipPath>
<g clip-path="url(#c18)">
<circle cx="894.45" cy="1159.52" r="108.5" fill="#ffcccc"/>
<polygon points="999.06,1034.85 827.65,976 702.12,1125.61 789.84,1284.19 894.45,1159.52" fill="#ccccff"/>
<g fill="none" stroke="#000038" stroke-width="0.65"><path d="M894.45 1159.52L896.8 1156.77A3.62 3.62 0 0 0 896.51 1156.54Z"/><path d="M894.45 1159.52L896.51 1156.54A3.62 3.62 0 0 0 896.19 1156.35Z"/><path d="M894.45 1159.52L896.19 1156.35A3.62 3.62 0 0 0 895.85 1156.18Z"/><path d="M894.45 1159.52L895.85 1156.18A3.62 3.62 0 0 0 895.5 1156.06Z"/><path d="M894.45 1159.52L895.5 1156.06A3.62 3.62 0 0 0 895.13 1155.97Z"/><path d="M894.45 1159.52L895.77 1152.65A6.99 6.99 0 0 0 895.05 1152.55Z"/><path d="M894.45 1159.52L895.17 1151.11A8.44 8.44 0 0 0 894.3 1151.08Z"/><path d="M894.45 1159.52L894.27 1149.88A9.64 9.64 0 0 0 893.27 1149.95Z"/><path d="M894.45 1159.52L892.54 1143.96A15.67 15.67 0 0 0 890.94 1144.25Z"/><path d="M894.45 1159.52L890.02 1140.25A19.77 19.77 0 0 0 888.05 1140.81Z"/><path d="M894.45 1159.52L890.54 1148.11A12.06 12.06 0 0 0 889.38 1148.58Z"/><path d="M894.45 1159.52L889.38 1148.58A12.06 12.06 0 0 0 888.28 1149.16Z"/><path d="M894.45 1159.52L887.66 1148.13A13.26 13.26 0 0 0 886.52 1148.89Z"/><path d="M894.45 1159.52L885.79 1147.93A14.47 14.47 0 0 0 884.64 1148.89Z"/><path d="M894.45 1159.52L882.43 1146.5A17.72 17.72 0 0 0 881.15 1147.81Z"/><path d="M894.45 1159.52L885.4 1151.56A12.06 12.06 0 0 0 884.62 1152.54Z"/><path d="M894.45 1159.52L884.62 1152.54A12.06 12.06 0 0 0 883.95 1153.59Z"/><path d="M894.45 1159.52L885 1154.19A10.85 10.85 0 0 0 884.5 1155.19Z"/><path d="M894.45 1159.52L885.61 1155.67A9.64 9.64 0 0 0 885.25 1156.61Z"/><path d="M894.45 1159.52L881.81 1155.52A13.26 13.26 0 0 0 881.46 1156.85Z"/><path d="M894.45 1159.52L890.91 1158.79A3.62 3.62 0 0 0 890.85 1159.16Z"/><path d="M894.45 1159.52L890.85 1159.16A3.62 3.62 0 0 0 890.83 1159.54Z"/><path d="M894.45 1159.52L890.83 1159.54A3.62 3.62 0 0 0 890.85 1159.91Z"/><path d="M894.45 1159.52L890.85 1159.91A3.62 3.62 0 0 0 890.92 1160.28Z"/><path d="M894.45 1159.52L890.92 1160.28A3.62 3.62 0 0 0 891.01 1160.65Z"/><path d="M894.45 1159.52L891.01 1160.65A3.62 3.62 0 0 0 891.15 1161Z"/><path d="M894.45 1159.52L891.15 1161A3.62 3.62 0 0 0 891.32 1161.33Z"/><path d="M894.45 1159.52L891.32 1161.33A3.62 3.62 0 0 0 891.52 1161.65Z"/><path d="M894.45 1159.52L891.52 1161.65A3.62 3.62 0 0 0 891.76 1161.94Z"/><path d="M894.45 1159.52L891.76 1161.94A3.62 3.62 0 0 0 892.03 1162.2Z"/></g>
<g fill="none" stroke="#380000" stroke-width="0.65"><path d="M894.45 1159.52L907.68 1160.48A13.26 13.26 0 0 0 907.7 1159.1Z"/><path d="M894.45 1159.52L906.5 1159.14A12.06 12.06 0 0 0 906.4 1157.89Z"/><path d="M894.45 1159.52L905.2 1158.06A10.85 10.85 0 0 0 904.99 1156.95Z"/><path d="M894.45 1159.52L901.95 1157.69A7.72 7.72 0 0 0 901.72 1156.93Z"/><path d="M894.45 1159.52L901.26 1157.09A7.23 7.23 0 0 0 900.97 1156.39Z"/><path d="M894.45 1159.52L900.97 1156.39A7.23 7.23 0 0 0 900.61 1155.74Z"/><path d="M894.45 1159.52L900.61 1155.74A7.23 7.23 0 0 0 900.19 1155.12Z"/><path d="M894.45 1159.52L900.19 1155.12A7.23 7.23 0 0 0 899.7 1154.55Z"/><path d="M894.45 1159.52L899.7 1154.55A7.23 7.23 0 0 0 899.16 1154.03Z"/><path d="M894.45 1159.52L889.6 1164.89A7.23 7.23 0 0 0 890.18 1165.36Z"/><path d="M894.45 1159.52L890.18 1165.36A7.23 7.23 0 0 0 890.81 1165.77Z"/><path d="M894.45 1159.52L889.6 1167.86A9.64 9.64 0 0 0 890.49 1168.31Z"/><path d="M894.45 1159.52L885.29 1179.85A22.3 22.3 0 0 0 887.45 1180.69Z"/><path d="M894.45 1159.52L889.42 1174.74A16.03 16.03 0 0 0 891.02 1175.18Z"/><path d="M894.45 1159.52L892.39 1168.94A9.64 9.64 0 0 0 893.37 1169.1Z"/><path d="M894.45 1159.52L893.51 1167.91A8.44 8.44 0 0 0 894.38 1167.96Z"/><path d="M894.45 1159.52L894.37 1169.16A9.64 9.64 0 0 0 895.37 1169.12Z"/><path d="M894.45 1159.52L895.49 1170.32A10.85 10.85 0 0 0 896.6 1170.15Z"/><path d="M894.45 1159.52L897.32 1173.7A14.47 14.47 0 0 0 898.78 1173.32Z"/><path d="M894.45 1159.52L898.78 1173.32A14.47 14.47 0 0 0 900.18 1172.8Z"/><path d="M894.45 1159.52L902.19 1177.45A19.53 19.53 0 0 0 904.01 1176.55Z"/><path d="M894.45 1159.52L903.89 1176.34A19.29 19.29 0 0 0 905.58 1175.27Z"/><path d="M894.45 1159.52L908.78 1179.8A24.83 24.83 0 0 0 910.81 1178.21Z"/><path d="M894.45 1159.52L928.12 1197.98A51.12 51.12 0 0 0 931.92 1194.28Z"/><path d="M894.45 1159.52L960.47 1220.76A90.05 90.05 0 0 0 966.47 1213.59Z"/><path d="M894.45 1159.52L934.84 1189.85A50.51 50.51 0 0 0 937.77 1185.5Z"/><path d="M894.45 1159.52L924.12 1177.31A34.6 34.6 0 0 0 925.81 1174.14Z"/><path d="M894.45 1159.52L909.75 1166.65A16.88 16.88 0 0 0 910.4 1165.03Z"/><path d="M894.45 1159.52L908.12 1164.24A14.47 14.47 0 0 0 908.54 1162.8Z"/><path d="M894.45 1159.52L911.71 1163.54A17.72 17.72 0 0 0 912.03 1161.73Z"/><path d="M894.45 1159.52L906.41 1161.02A12.06 12.06 0 0 0 906.5 1159.77Z"/><path d="M894.45 1159.52L901.68 1159.67A7.23 7.23 0 0 0 901.66 1158.92Z"/></g>
<circle cx="894.45" cy="1159.52" r="12.06" fill="none" stroke="#b0b0b0" stroke-width="0.6"/>
<circle cx="894.45" cy="1159.52" r="24.11" fill="none" stroke="#b0b0b0" stroke-width="0.6"/>
<circle cx="894.45" cy="1159.52" r="36.17" fill="none" stroke="#b0b0b0" stroke-width="0.6"/>
<circle cx="894.45" cy="1159.52" r="48.22" fill="none" stroke="#b0b0b0" stroke-width="0.6"/>
<circle cx="894.45" cy="1159.52" r="60.28" fill="none" stroke="#b0b0b0" stroke-width="0.6"/>
<circle cx="894.45" cy="1159.52" r="72.33" fill="none" stroke="#b0b0b0" stroke-width="0.6"/>
<circle cx="894.45" cy="1159.52" r="84.39" fill="none" stroke="#b0b0b0" stroke-width="0.6"/>
<circle cx="894.45" cy="1159.52" r="96.44" fill="none" stroke="#b0b0b0" stroke-width="0.6"/>
<path d="M1002.95 1159.52L785.95 1159.52M971.17 1082.8L817.73 1236.24M894.45 1051.02L894.45 1268.02M817.73 1082.8L971.17 1236.24" stroke="#b0b0b0" stroke-width="0.75"/>
</g>
<circle cx="894.45" cy="1159.52" r="108.5" fill="none" stroke="#474747" stroke-width="0.95"/>
<text class="t" x="1010.55" y="1162.22" text-anchor="middle" textLength="8.86" lengthAdjust="spacingAndGlyphs">0°</text>
<text class="t" x="976.55" y="1080.12" text-anchor="middle" textLength="13.83" lengthAdjust="spacingAndGlyphs">45°</text>
<text class="t" x="894.45" y="1046.12" text-anchor="middle" textLength="13.83" lengthAdjust="spacingAndGlyphs">90°</text>
<text class="t" x="812.35" y="1080.12" text-anchor="middle" textLength="18.79" lengthAdjust="spacingAndGlyphs">135°</text>
<text class="t" x="778.35" y="1162.22" text-anchor="middle" textLength="18.79" lengthAdjust="spacingAndGlyphs">180°</text>
<text class="t" x="812.35" y="1244.32" text-anchor="middle" textLength="18.79" lengthAdjust="spacingAndGlyphs">225°</text>
<text class="t" x="894.45" y="1278.32" text-anchor="middle" textLength="18.79" lengthAdjust="spacingAndGlyphs">270°</text>
<text class="t" x="976.55" y="1244.32" text-anchor="middle" textLength="18.79" lengthAdjust="spacingAndGlyphs">315°</text>
<text class="t" x="905.39" y="1153.11" textLength="9.93" lengthAdjust="spacingAndGlyphs">10</text>
<text class="t" x="916.53" y="1148.49" textLength="9.93" lengthAdjust="spacingAndGlyphs">20</text>
<text class="t" x="927.66" y="1143.88" textLength="9.93" lengthAdjust="spacingAndGlyphs">30</text>
<text class="t" x="938.8" y="1139.27" textLength="9.93" lengthAdjust="spacingAndGlyphs">40</text>
<text class="t" x="949.94" y="1134.65" textLength="9.93" lengthAdjust="spacingAndGlyphs">50</text>
<text class="t" x="961.08" y="1130.04" textLength="9.93" lengthAdjust="spacingAndGlyphs">60</text>
<text class="t" x="972.22" y="1125.43" textLength="9.93" lengthAdjust="spacingAndGlyphs">70</text>
<text class="t" x="983.35" y="1120.81" textLength="9.93" lengthAdjust="spacingAndGlyphs">80</text>
<text class="ti" x="785.85" y="1036.82" textLength="44.29" lengthAdjust="spacingAndGlyphs">P8:SolO</text>
<clipPath id="c19"><circle cx="125.65" cy="1416" r="108.5"/></clipPath>
<g clip-path="url(#c19)">
<circle cx="125.65" cy="1416" r="108.5" fill="#ffcccc"/>
<polygon points="181.31,1263.07 0.11,1266.39 -66.68,1449.91 69.99,1568.93 125.65,1416" fill="#ccccff"/>
<g fill="none" stroke="#000038" stroke-width="0.65"><path d="M125.65 1416L127.09 1411.58A4.65 4.65 0 0 0 126.62 1411.45Z"/><path d="M125.65 1416L126.62 1411.45A4.65 4.65 0 0 0 126.14 1411.38Z"/><path d="M125.65 1416L126.14 1411.38A4.65 4.65 0 0 0 125.65 1411.35Z"/><path d="M125.65 1416L125.65 1411.35A4.65 4.65 0 0 0 125.16 1411.38Z"/><path d="M125.65 1416L125.16 1411.38A4.65 4.65 0 0 0 124.68 1411.45Z"/><path d="M125.65 1416L124.04 1408.42A7.75 7.75 0 0 0 123.26 1408.63Z"/><path d="M125.65 1416L122.35 1405.83A10.7 10.7 0 0 0 121.3 1406.23Z"/><path d="M125.65 1416L121.24 1406.09A10.85 10.85 0 0 0 120.23 1406.6Z"/><path d="M125.65 1416L120.23 1406.6A10.85 10.85 0 0 0 119.27 1407.22Z"/><path d="M125.65 1416L118.73 1406.47A11.78 11.78 0 0 0 117.77 1407.25Z"/><path d="M125.65 1416L104.6 1392.62A31.47 31.47 0 0 0 102.27 1394.95Z"/><path d="M125.65 1416L94.09 1387.58A42.47 42.47 0 0 0 91.29 1391.04Z"/><path d="M125.65 1416L79.75 1382.65A56.73 56.73 0 0 0 76.52 1387.63Z"/><path d="M125.65 1416L61.75 1379.11A73.78 73.78 0 0 0 58.25 1385.99Z"/><path d="M125.65 1416L60.51 1387A71.3 71.3 0 0 0 57.84 1393.97Z"/><path d="M125.65 1416L68.75 1397.51A59.83 59.83 0 0 0 67.13 1403.56Z"/><path d="M125.65 1416L41.05 1398.02A86.49 86.49 0 0 0 39.63 1406.96Z"/><path d="M125.65 1416L76.78 1410.86A49.13 49.13 0 0 0 76.52 1416Z"/><path d="M125.65 1416L93.56 1416A32.09 32.09 0 0 0 93.74 1419.35Z"/><path d="M125.65 1416L116.4 1416.97A9.3 9.3 0 0 0 116.55 1417.93Z"/><path d="M125.65 1416L121.1 1416.97A4.65 4.65 0 0 0 121.23 1417.44Z"/><path d="M125.65 1416L121.23 1417.44A4.65 4.65 0 0 0 121.4 1417.89Z"/><path d="M125.65 1416L121.4 1417.89A4.65 4.65 0 0 0 121.62 1418.33Z"/><path d="M125.65 1416L121.62 1418.33A4.65 4.65 0 0 0 121.89 1418.73Z"/><path d="M125.65 1416L121.89 1418.73A4.65 4.65 0 0 0 122.19 1419.11Z"/><path d="M125.65 1416L122.19 1419.11A4.65 4.65 0 0 0 122.54 1419.46Z"/><path d="M125.65 1416L122.54 1419.46A4.65 4.65 0 0 0 122.92 1419.76Z"/><path d="M125.65 1416L122.92 1419.76A4.65 4.65 0 0 0 123.33 1420.03Z"/><path d="M125.65 1416L123.33 1420.03A4.65 4.65 0 0 0 123.76 1420.25Z"/><path d="M125.65 1416L123.76 1420.25A4.65 4.65 0 0 0 124.21 1420.42Z"/></g>
<g fill="none" stroke="#380000" stroke-width="0.65"><path d="M125.65 1416L141.15 1416A15.5 15.5 0 0 0 141.07 1414.38Z"/><path d="M125.65 1416L137.98 1414.7A12.4 12.4 0 0 0 137.78 1413.42Z"/><path d="M125.65 1416L136.26 1413.74A10.85 10.85 0 0 0 135.97 1412.65Z"/><path d="M125.65 1416L133.02 1413.61A7.75 7.75 0 0 0 132.73 1412.85Z"/><path d="M125.65 1416L132.73 1412.85A7.75 7.75 0 0 0 132.36 1412.12Z"/><path d="M125.65 1416L132.36 1412.12A7.75 7.75 0 0 0 131.92 1411.44Z"/><path d="M125.65 1416L131.92 1411.44A7.75 7.75 0 0 0 131.41 1410.81Z"/><path d="M125.65 1416L131.41 1410.81A7.75 7.75 0 0 0 130.84 1410.24Z"/><path d="M125.65 1416L130.84 1410.24A7.75 7.75 0 0 0 130.21 1409.73Z"/><path d="M125.65 1416L130.21 1409.73A7.75 7.75 0 0 0 129.53 1409.29Z"/><path d="M125.65 1416L129.53 1409.29A7.75 7.75 0 0 0 128.8 1408.92Z"/><path d="M125.65 1416L128.8 1408.92A7.75 7.75 0 0 0 128.04 1408.63Z"/><path d="M125.65 1416L123.26 1423.37A7.75 7.75 0 0 0 124.04 1423.58Z"/><path d="M125.65 1416L124.04 1423.58A7.75 7.75 0 0 0 124.84 1423.71Z"/><path d="M125.65 1416L124.84 1423.71A7.75 7.75 0 0 0 125.65 1423.75Z"/><path d="M125.65 1416L125.65 1423.75A7.75 7.75 0 0 0 126.46 1423.71Z"/><path d="M125.65 1416L126.46 1423.71A7.75 7.75 0 0 0 127.26 1423.58Z"/><path d="M125.65 1416L127.26 1423.58A7.75 7.75 0 0 0 128.04 1423.37Z"/><path d="M125.65 1416L128.04 1423.37A7.75 7.75 0 0 0 128.8 1423.08Z"/><path d="M125.65 1416L128.8 1423.08A7.75 7.75 0 0 0 129.53 1422.71Z"/><path d="M125.65 1416L129.53 1422.71A7.75 7.75 0 0 0 130.21 1422.27Z"/><path d="M125.65 1416L130.21 1422.27A7.75 7.75 0 0 0 130.84 1421.76Z"/><path d="M125.65 1416L133.95 1425.21A12.4 12.4 0 0 0 134.86 1424.3Z"/><path d="M125.65 1416L144.77 1433.22A25.73 25.73 0 0 0 146.47 1431.12Z"/><path d="M125.65 1416L140.7 1426.93A18.6 18.6 0 0 0 141.76 1425.3Z"/><path d="M125.65 1416L145.79 1427.62A23.25 23.25 0 0 0 146.89 1425.46Z"/><path d="M125.65 1416L142.64 1423.57A18.6 18.6 0 0 0 143.34 1421.75Z"/><path d="M125.65 1416L148.35 1423.38A23.87 23.87 0 0 0 149 1420.96Z"/><path d="M125.65 1416L145.36 1420.19A20.15 20.15 0 0 0 145.69 1418.11Z"/><path d="M125.65 1416L152.32 1418.8A26.82 26.82 0 0 0 152.47 1416Z"/></g>
<circle cx="125.65" cy="1416" r="15.5" fill="none" stroke="#b0b0b0" stroke-width="0.6"/>
<circle cx="125.65" cy="1416" r="31" fill="none" stroke="#b0b0b0" stroke-width="0.6"/>
<circle cx="125.65" cy="1416" r="46.5" fill="none" stroke="#b0b0b0" stroke-width="0.6"/>
<circle cx="125.65" cy="1416" r="62" fill="none" stroke="#b0b0b0" stroke-width="0.6"/>
<circle cx="125.65" cy="1416" r="77.5" fill="none" stroke="#b0b0b0" stroke-width="0.6"/>
<circle cx="125.65" cy="1416" r="93" fill="none" stroke="#b0b0b0" stroke-width="0.6"/>
<path d="M234.15 1416L17.15 1416M202.37 1339.28L48.93 1492.72M125.65 1307.5L125.65 1524.5M48.93 1339.28L202.37 1492.72" stroke="#b0b0b0" stroke-width="0.75"/>
</g>
<circle cx="125.65" cy="1416" r="108.5" fill="none" stroke="#474747" stroke-width="0.95"/>
<text class="t" x="241.75" y="1418.7" text-anchor="middle" textLength="8.86" lengthAdjust="spacingAndGlyphs">0°</text>
<text class="t" x="207.75" y="1336.6" text-anchor="middle" textLength="13.83" lengthAdjust="spacingAndGlyphs">45°</text>
<text class="t" x="125.65" y="1302.6" text-anchor="middle" textLength="13.83" lengthAdjust="spacingAndGlyphs">90°</text>
<text class="t" x="43.55" y="1336.6" text-anchor="middle" textLength="18.79" lengthAdjust="spacingAndGlyphs">135°</text>
<text class="t" x="9.55" y="1418.7" text-anchor="middle" textLength="18.79" lengthAdjust="spacingAndGlyphs">180°</text>
<text class="t" x="43.55" y="1500.8" text-anchor="middle" textLength="18.79" lengthAdjust="spacingAndGlyphs">225°</text>
<text class="t" x="125.65" y="1534.8" text-anchor="middle" textLength="18.79" lengthAdjust="spacingAndGlyphs">270°</text>
<text class="t" x="207.75" y="1500.8" text-anchor="middle" textLength="18.79" lengthAdjust="spacingAndGlyphs">315°</text>
<text class="t" x="139.77" y="1408.27" textLength="9.93" lengthAdjust="spacingAndGlyphs">10</text>
<text class="t" x="154.09" y="1402.34" textLength="9.93" lengthAdjust="spacingAndGlyphs">20</text>
<text class="t" x="168.41" y="1396.41" textLength="9.93" lengthAdjust="spacingAndGlyphs">30</text>
<text class="t" x="182.73" y="1390.47" textLength="9.93" lengthAdjust="spacingAndGlyphs">40</text>
<text class="t" x="197.05" y="1384.54" textLength="9.93" lengthAdjust="spacingAndGlyphs">50</text>
<text class="t" x="211.37" y="1378.61" textLength="9.93" lengthAdjust="spacingAndGlyphs">60</text>
<text class="ti" x="17.05" y="1293.3" textLength="40.15" lengthAdjust="spacingAndGlyphs">P9:PSP</text>
<clipPath id="c20"><circle cx="382" cy="1416" r="108.5"/></clipPath>
<g clip-path="url(#c20)">
<circle cx="382" cy="1416" r="108.5" fill="#ffcccc"/>
<polygon points="497.08,1300.92 331.45,1227.35 193.35,1365.45 266.92,1531.08 382,1416" fill="#ccccff"/>
<g fill="none" stroke="#000038" stroke-width="0.65"><path d="M382 1416L384.89 1413.14A4.07 4.07 0 0 0 384.59 1412.86Z"/><path d="M382 1416L384.59 1412.86A4.07 4.07 0 0 0 384.26 1412.61Z"/><path d="M382 1416L384.26 1412.61A4.07 4.07 0 0 0 383.9 1412.4Z"/><path d="M382 1416L383.9 1412.4A4.07 4.07 0 0 0 383.53 1412.23Z"/><path d="M382 1416L383.53 1412.23A4.07 4.07 0 0 0 383.14 1412.09Z"/><path d="M382 1416L383.14 1412.09A4.07 4.07 0 0 0 382.74 1412Z"/><path d="M382 1416L382.74 1412A4.07 4.07 0 0 0 382.33 1411.94Z"/><path d="M382 1416L382.71 1407.35A8.68 8.68 0 0 0 381.83 1407.32Z"/><path d="M382 1416L381.82 1406.51A9.49 9.49 0 0 0 380.86 1406.58Z"/><path d="M382 1416L380.86 1406.58A9.49 9.49 0 0 0 379.91 1406.74Z"/><path d="M382 1416L379.61 1405.42A10.85 10.85 0 0 0 378.56 1405.71Z"/><path d="M382 1416L375.37 1396.19A20.89 20.89 0 0 0 373.41 1396.96Z"/><path d="M382 1416L374.19 1398.69A18.99 18.99 0 0 0 372.48 1399.57Z"/><path d="M382 1416L369.62 1394.64A24.68 24.68 0 0 0 367.53 1396.01Z"/><path d="M382 1416L353.61 1376.78A48.42 48.42 0 0 0 349.79 1379.85Z"/><path d="M382 1416L356.11 1386.94A38.92 38.92 0 0 0 353.3 1389.7Z"/><path d="M382 1416L372 1406.84A13.56 13.56 0 0 0 371.13 1407.89Z"/><path d="M382 1416L371.13 1407.89A13.56 13.56 0 0 0 370.36 1409.04Z"/><path d="M382 1416L366.17 1406.53A18.45 18.45 0 0 0 365.3 1408.18Z"/><path d="M382 1416L372.17 1411.4A10.85 10.85 0 0 0 371.76 1412.41Z"/><path d="M382 1416L373.04 1412.86A9.49 9.49 0 0 0 372.77 1413.78Z"/><path d="M382 1416L374.09 1414.1A8.14 8.14 0 0 0 373.94 1414.91Z"/><path d="M382 1416L373.94 1414.91A8.14 8.14 0 0 0 373.87 1415.73Z"/><path d="M382 1416L371.16 1415.64A10.85 10.85 0 0 0 371.18 1416.74Z"/><path d="M382 1416L366.03 1417.09A16 16 0 0 0 366.23 1418.7Z"/><path d="M382 1416L371.31 1417.83A10.85 10.85 0 0 0 371.54 1418.9Z"/><path d="M382 1416L366.32 1420.35A16.27 16.27 0 0 0 366.84 1421.91Z"/><path d="M382 1416L374.42 1418.96A8.14 8.14 0 0 0 374.76 1419.71Z"/><path d="M382 1416L378.38 1417.85A4.07 4.07 0 0 0 378.58 1418.21Z"/><path d="M382 1416L378.58 1418.21A4.07 4.07 0 0 0 378.82 1418.54Z"/><path d="M382 1416L378.82 1418.54A4.07 4.07 0 0 0 379.1 1418.85Z"/></g>
<g fill="none" stroke="#380000" stroke-width="0.65"><path d="M382 1416L390.68 1416.26A8.68 8.68 0 0 0 390.66 1415.38Z"/><path d="M382 1416L387.41 1415.61A5.42 5.42 0 0 0 387.34 1415.07Z"/><path d="M382 1416L387.34 1415.07A5.42 5.42 0 0 0 387.22 1414.53Z"/><path d="M382 1416L387.22 1414.53A5.42 5.42 0 0 0 387.05 1414.01Z"/><path d="M382 1416L387.05 1414.01A5.42 5.42 0 0 0 386.82 1413.51Z"/><path d="M382 1416L386.82 1413.51A5.42 5.42 0 0 0 386.54 1413.04Z"/><path d="M382 1416L386.54 1413.04A5.42 5.42 0 0 0 386.22 1412.59Z"/><path d="M382 1416L386.22 1412.59A5.42 5.42 0 0 0 385.86 1412.18Z"/><path d="M382 1416L378.13 1419.8A5.42 5.42 0 0 0 378.53 1420.17Z"/><path d="M382 1416L378.53 1420.17A5.42 5.42 0 0 0 378.97 1420.5Z"/><path d="M382 1416L375.95 1425.01A10.85 10.85 0 0 0 376.89 1425.57Z"/><path d="M382 1416L374.91 1429.28A15.05 15.05 0 0 0 376.29 1429.93Z"/><path d="M382 1416L378.91 1423.53A8.14 8.14 0 0 0 379.69 1423.8Z"/><path d="M382 1416L380.46 1421.2A5.42 5.42 0 0 0 380.99 1421.33Z"/><path d="M382 1416L380.99 1421.33A5.42 5.42 0 0 0 381.54 1421.41Z"/><path d="M382 1416L381.54 1421.41A5.42 5.42 0 0 0 382.09 1421.42Z"/><path d="M382 1416L382.17 1426.85A10.85 10.85 0 0 0 383.27 1426.78Z"/><path d="M382 1416L383.58 1429.47A13.56 13.56 0 0 0 384.94 1429.24Z"/><path d="M382 1416L387.23 1439.57A24.14 24.14 0 0 0 389.58 1438.92Z"/><path d="M382 1416L388.39 1435.31A20.34 20.34 0 0 0 390.31 1434.57Z"/><path d="M382 1416L393.08 1440.76A27.12 27.12 0 0 0 395.52 1439.51Z"/><path d="M382 1416L403.43 1453.27A42.99 42.99 0 0 0 407.09 1450.91Z"/><path d="M382 1416L417.77 1465.78A61.3 61.3 0 0 0 422.62 1461.91Z"/><path d="M382 1416L440.5 1482.13A88.29 88.29 0 0 0 446.89 1475.88Z"/><path d="M382 1416L425.76 1456.38A59.54 59.54 0 0 0 429.61 1451.75Z"/><path d="M382 1416L428.42 1450.85A58.05 58.05 0 0 0 431.7 1445.98Z"/><path d="M382 1416L397.56 1425.39A18.17 18.17 0 0 0 398.43 1423.77Z"/><path d="M382 1416L394.26 1421.8A13.56 13.56 0 0 0 394.78 1420.53Z"/><path d="M382 1416L394.15 1420.3A12.88 12.88 0 0 0 394.52 1419.05Z"/><path d="M382 1416L391.22 1418.25A9.49 9.49 0 0 0 391.4 1417.3Z"/><path d="M382 1416L387.37 1416.75A5.42 5.42 0 0 0 387.42 1416.2Z"/><path d="M382 1416L387.42 1416.2A5.42 5.42 0 0 0 387.41 1415.65Z"/></g>
<circle cx="382" cy="1416" r="13.56" fill="none" stroke="#b0b0b0" stroke-width="0.6"/>
<circle cx="382" cy="1416" r="27.12" fill="none" stroke="#b0b0b0" stroke-width="0.6"/>
<circle cx="382" cy="1416" r="40.69" fill="none" stroke="#b0b0b0" stroke-width="0.6"/>
<circle cx="382" cy="1416" r="54.25" fill="none" stroke="#b0b0b0" stroke-width="0.6"/>
<circle cx="382" cy="1416" r="67.81" fill="none" stroke="#b0b0b0" stroke-width="0.6"/>
<circle cx="382" cy="1416" r="81.38" fill="none" stroke="#b0b0b0" stroke-width="0.6"/>
<circle cx="382" cy="1416" r="94.94" fill="none" stroke="#b0b0b0" stroke-width="0.6"/>
<path d="M490.5 1416L273.5 1416M458.72 1339.28L305.28 1492.72M382 1307.5L382 1524.5M305.28 1339.28L458.72 1492.72" stroke="#b0b0b0" stroke-width="0.75"/>
</g>
<circle cx="382" cy="1416" r="108.5" fill="none" stroke="#474747" stroke-width="0.95"/>
<text class="t" x="498.1" y="1418.7" text-anchor="middle" textLength="8.86" lengthAdjust="spacingAndGlyphs">0°</text>
<text class="t" x="464.1" y="1336.6" text-anchor="middle" textLength="13.83" lengthAdjust="spacingAndGlyphs">45°</text>
<text class="t" x="382" y="1302.6" text-anchor="middle" textLength="13.83" lengthAdjust="spacingAndGlyphs">90°</text>
<text class="t" x="299.9" y="1336.6" text-anchor="middle" textLength="18.79" lengthAdjust="spacingAndGlyphs">135°</text>
<text class="t" x="265.9" y="1418.7" text-anchor="middle" textLength="18.79" lengthAdjust="spacingAndGlyphs">180°</text>
<text class="t" x="299.9" y="1500.8" text-anchor="middle" textLength="18.79" lengthAdjust="spacingAndGlyphs">225°</text>
<text class="t" x="382" y="1534.8" text-anchor="middle" textLength="18.79" lengthAdjust="spacingAndGlyphs">270°</text>
<text class="t" x="464.1" y="1500.8" text-anchor="middle" textLength="18.79" lengthAdjust="spacingAndGlyphs">315°</text>
<text class="t" x="394.33" y="1409.01" textLength="9.93" lengthAdjust="spacingAndGlyphs">10</text>
<text class="t" x="406.86" y="1403.82" textLength="9.93" lengthAdjust="spacingAndGlyphs">20</text>
<text class="t" x="419.39" y="1398.63" textLength="9.93" lengthAdjust="spacingAndGlyphs">30</text>
<text class="t" x="431.92" y="1393.44" textLength="9.93" lengthAdjust="spacingAndGlyphs">40</text>
<text class="t" x="444.45" y="1388.25" textLength="9.93" lengthAdjust="spacingAndGlyphs">50</text>
<text class="t" x="456.98" y="1383.06" textLength="9.93" lengthAdjust="spacingAndGlyphs">60</text>
<text class="t" x="469.51" y="1377.87" textLength="9.93" lengthAdjust="spacingAndGlyphs">70</text>
<text class="ti" x="273.4" y="1293.3" textLength="48.7" lengthAdjust="spacingAndGlyphs">P9:Earth</text>
<clipPath id="c21"><circle cx="638" cy="1416" r="108.5"/></clipPath>
<g clip-path="url(#c21)">
<circle cx="638" cy="1416" r="108.5" fill="#ffcccc"/>
<polygon points="753.08,1300.92 587.45,1227.35 449.35,1365.45 522.92,1531.08 638,1416" fill="#ccccff"/>
<g fill="none" stroke="#000038" stroke-width="0.65"><path d="M638 1416L647.37 1406.2A13.56 13.56 0 0 0 646.31 1405.28Z"/><path d="M638 1416L640.22 1413.14A3.62 3.62 0 0 0 639.91 1412.93Z"/><path d="M638 1416L639.91 1412.93A3.62 3.62 0 0 0 639.58 1412.75Z"/><path d="M638 1416L643.53 1404.62A12.66 12.66 0 0 0 642.33 1404.1Z"/><path d="M638 1416L642.95 1402.4A14.47 14.47 0 0 0 641.51 1401.97Z"/><path d="M638 1416L642.74 1397.06A19.53 19.53 0 0 0 640.76 1396.67Z"/><path d="M638 1416L642.32 1385.75A30.56 30.56 0 0 0 639.17 1385.46Z"/><path d="M638 1416L639.79 1369.38A46.66 46.66 0 0 0 634.96 1369.44Z"/><path d="M638 1416L632.6 1333.17A83 83 0 0 0 624.07 1334.17Z"/><path d="M638 1416L630.47 1371.79A44.85 44.85 0 0 0 625.95 1372.8Z"/><path d="M638 1416L628.28 1381.16A36.17 36.17 0 0 0 624.73 1382.35Z"/><path d="M638 1416L622.15 1375.79A43.22 43.22 0 0 0 618.08 1377.65Z"/><path d="M638 1416L623.08 1387.28A32.37 32.37 0 0 0 620.19 1388.97Z"/><path d="M638 1416L623.08 1393.35A27.12 27.12 0 0 0 620.82 1395.01Z"/><path d="M638 1416L616.12 1389.28A34.54 34.54 0 0 0 613.48 1391.68Z"/><path d="M638 1416L625.16 1403.27A18.08 18.08 0 0 0 623.91 1404.66Z"/><path d="M638 1416L625.32 1405.8A16.27 16.27 0 0 0 624.34 1407.16Z"/><path d="M638 1416L625.85 1408.14A14.47 14.47 0 0 0 625.11 1409.44Z"/><path d="M638 1416L626.72 1410.26A12.66 12.66 0 0 0 626.19 1411.46Z"/><path d="M638 1416L624.5 1410.81A14.47 14.47 0 0 0 624.03 1412.23Z"/><path d="M638 1416L634.51 1415.06A3.62 3.62 0 0 0 634.43 1415.42Z"/><path d="M638 1416L634.43 1415.42A3.62 3.62 0 0 0 634.39 1415.79Z"/><path d="M638 1416L634.39 1415.79A3.62 3.62 0 0 0 634.39 1416.17Z"/><path d="M638 1416L634.39 1416.17A3.62 3.62 0 0 0 634.42 1416.54Z"/><path d="M638 1416L627.27 1417.62A10.85 10.85 0 0 0 627.5 1418.72Z"/><path d="M638 1416L625.75 1419.18A12.66 12.66 0 0 0 626.14 1420.43Z"/><path d="M638 1416L625.63 1420.62A13.2 13.2 0 0 0 626.18 1421.87Z"/><path d="M638 1416L634.76 1417.61A3.62 3.62 0 0 0 634.94 1417.93Z"/><path d="M638 1416L634.94 1417.93A3.62 3.62 0 0 0 635.16 1418.24Z"/><path d="M638 1416L635.16 1418.24A3.62 3.62 0 0 0 635.41 1418.52Z"/></g>
<g fill="none" stroke="#380000" stroke-width="0.65"><path d="M638 1416L641.62 1416.07A3.62 3.62 0 0 0 641.6 1415.7Z"/><path d="M638 1416L641.6 1415.7A3.62 3.62 0 0 0 641.55 1415.33Z"/><path d="M638 1416L641.55 1415.33A3.62 3.62 0 0 0 641.47 1414.96Z"/><path d="M638 1416L641.47 1414.96A3.62 3.62 0 0 0 641.34 1414.61Z"/><path d="M638 1416L641.34 1414.61A3.62 3.62 0 0 0 641.18 1414.27Z"/><path d="M638 1416L641.18 1414.27A3.62 3.62 0 0 0 640.98 1413.96Z"/><path d="M638 1416L651.42 1406.8A16.27 16.27 0 0 0 650.4 1405.46Z"/><path d="M638 1416L653.98 1402.42A20.98 20.98 0 0 0 652.5 1400.84Z"/><path d="M638 1416L635.41 1418.52A3.62 3.62 0 0 0 635.68 1418.78Z"/><path d="M638 1416L635.68 1418.78A3.62 3.62 0 0 0 635.98 1419Z"/><path d="M638 1416L635.98 1419A3.62 3.62 0 0 0 636.3 1419.19Z"/><path d="M638 1416L636.3 1419.19A3.62 3.62 0 0 0 636.64 1419.35Z"/><path d="M638 1416L636.64 1419.35A3.62 3.62 0 0 0 636.99 1419.47Z"/><path d="M638 1416L636.99 1419.47A3.62 3.62 0 0 0 637.36 1419.56Z"/><path d="M638 1416L634.53 1435.22A19.53 19.53 0 0 0 636.54 1435.48Z"/><path d="M638 1416L637.19 1426.82A10.85 10.85 0 0 0 638.31 1426.85Z"/><path d="M638 1416L638.41 1430.46A14.47 14.47 0 0 0 639.9 1430.34Z"/><path d="M638 1416L640.38 1433.93A18.08 18.08 0 0 0 642.22 1433.58Z"/><path d="M638 1416L644.33 1442.38A27.12 27.12 0 0 0 647.02 1441.58Z"/><path d="M638 1416L657.18 1470.4A57.69 57.69 0 0 0 662.7 1468.13Z"/><path d="M638 1416L668.04 1479.41A70.16 70.16 0 0 0 674.43 1475.96Z"/><path d="M638 1416L676.87 1479.98A74.86 74.86 0 0 0 683.27 1475.62Z"/><path d="M638 1416L677.92 1468.57A66 66 0 0 0 683.13 1464.16Z"/><path d="M638 1416L681.77 1462.71A64.02 64.02 0 0 0 686.36 1457.94Z"/><path d="M638 1416L675.98 1448.93A50.27 50.27 0 0 0 679.18 1444.83Z"/><path d="M638 1416L672.07 1439.86A41.59 41.59 0 0 0 674.35 1436.21Z"/><path d="M638 1416L658.55 1427.42A23.51 23.51 0 0 0 659.62 1425.24Z"/><path d="M638 1416L651.3 1421.69A14.47 14.47 0 0 0 651.82 1420.28Z"/><path d="M638 1416L641.45 1417.07A3.62 3.62 0 0 0 641.55 1416.71Z"/><path d="M638 1416L641.55 1416.71A3.62 3.62 0 0 0 641.6 1416.34Z"/><path d="M638 1416L641.6 1416.34A3.62 3.62 0 0 0 641.62 1415.96Z"/></g>
<circle cx="638" cy="1416" r="18.08" fill="none" stroke="#b0b0b0" stroke-width="0.6"/>
<circle cx="638" cy="1416" r="36.17" fill="none" stroke="#b0b0b0" stroke-width="0.6"/>
<circle cx="638" cy="1416" r="54.25" fill="none" stroke="#b0b0b0" stroke-width="0.6"/>
<circle cx="638" cy="1416" r="72.33" fill="none" stroke="#b0b0b0" stroke-width="0.6"/>
<circle cx="638" cy="1416" r="90.42" fill="none" stroke="#b0b0b0" stroke-width="0.6"/>
<path d="M746.5 1416L529.5 1416M714.72 1339.28L561.28 1492.72M638 1307.5L638 1524.5M561.28 1339.28L714.72 1492.72" stroke="#b0b0b0" stroke-width="0.75"/>
</g>
<circle cx="638" cy="1416" r="108.5" fill="none" stroke="#474747" stroke-width="0.95"/>
<text class="t" x="754.1" y="1418.7" text-anchor="middle" textLength="8.86" lengthAdjust="spacingAndGlyphs">0°</text>
<text class="t" x="720.1" y="1336.6" text-anchor="middle" textLength="13.83" lengthAdjust="spacingAndGlyphs">45°</text>
<text class="t" x="638" y="1302.6" text-anchor="middle" textLength="13.83" lengthAdjust="spacingAndGlyphs">90°</text>
<text class="t" x="555.9" y="1336.6" text-anchor="middle" textLength="18.79" lengthAdjust="spacingAndGlyphs">135°</text>
<text class="t" x="521.9" y="1418.7" text-anchor="middle" textLength="18.79" lengthAdjust="spacingAndGlyphs">180°</text>
<text class="t" x="555.9" y="1500.8" text-anchor="middle" textLength="18.79" lengthAdjust="spacingAndGlyphs">225°</text>
<text class="t" x="638" y="1534.8" text-anchor="middle" textLength="18.79" lengthAdjust="spacingAndGlyphs">270°</text>
<text class="t" x="720.1" y="1500.8" text-anchor="middle" textLength="18.79" lengthAdjust="spacingAndGlyphs">315°</text>
<text class="t" x="654.51" y="1407.28" textLength="9.93" lengthAdjust="spacingAndGlyphs">10</text>
<text class="t" x="671.21" y="1400.36" textLength="9.93" lengthAdjust="spacingAndGlyphs">20</text>
<text class="t" x="687.92" y="1393.44" textLength="9.93" lengthAdjust="spacingAndGlyphs">30</text>
<text class="t" x="704.63" y="1386.52" textLength="9.93" lengthAdjust="spacingAndGlyphs">40</text>
<text class="t" x="721.33" y="1379.6" textLength="9.93" lengthAdjust="spacingAndGlyphs">50</text>
<text class="ti" x="529.4" y="1293.3" textLength="74.25" lengthAdjust="spacingAndGlyphs">P9:STEREO-A</text>
<clipPath id="c22"><circle cx="894.45" cy="1416" r="108.5"/></clipPath>
<g clip-path="url(#c22)">
<circle cx="894.45" cy="1416" r="108.5" fill="#ffcccc"/>
<polygon points="1019.12,1311.39 860.54,1223.67 710.93,1349.2 769.78,1520.61 894.45,1416" fill="#ccccff"/>
<g fill="none" stroke="#000038" stroke-width="0.65"><path d="M894.45 1416L903.03 1408.97A11.09 11.09 0 0 0 902.32 1408.19Z"/><path d="M894.45 1416L897.87 1412.6A4.82 4.82 0 0 0 897.53 1412.29Z"/><path d="M894.45 1416L897.53 1412.29A4.82 4.82 0 0 0 897.17 1412.01Z"/><path d="M894.45 1416L897.17 1412.01A4.82 4.82 0 0 0 896.77 1411.77Z"/><path d="M894.45 1416L896.77 1411.77A4.82 4.82 0 0 0 896.36 1411.57Z"/><path d="M894.45 1416L896.36 1411.57A4.82 4.82 0 0 0 895.93 1411.41Z"/><path d="M894.45 1416L900.88 1396.03A20.98 20.98 0 0 0 898.95 1395.51Z"/><path d="M894.45 1416L900.04 1390.57A26.04 26.04 0 0 0 897.59 1390.15Z"/><path d="M894.45 1416L899.04 1378.18A38.1 38.1 0 0 0 895.41 1377.92Z"/><path d="M894.45 1416L895.18 1387.32A28.69 28.69 0 0 0 892.44 1387.38Z"/><path d="M894.45 1416L892.76 1391.95A24.11 24.11 0 0 0 890.47 1392.22Z"/><path d="M894.45 1416L890.16 1390.32A26.04 26.04 0 0 0 887.73 1390.84Z"/><path d="M894.45 1416L884.55 1378.96A38.34 38.34 0 0 0 881.07 1380.07Z"/><path d="M894.45 1416L880.31 1378.04A40.51 40.51 0 0 0 876.76 1379.56Z"/><path d="M894.45 1416L871.39 1368.5A52.8 52.8 0 0 0 866.96 1370.92Z"/><path d="M894.45 1416L871.86 1378.94A43.4 43.4 0 0 0 868.43 1381.27Z"/><path d="M894.45 1416L860.04 1370.07A57.38 57.38 0 0 0 855.82 1373.56Z"/><path d="M894.45 1416L839.43 1355.55A81.74 81.74 0 0 0 833.92 1361.07Z"/><path d="M894.45 1416L855.35 1380.52A52.8 52.8 0 0 0 852.14 1384.41Z"/><path d="M894.45 1416L864.31 1393.5A37.61 37.61 0 0 0 862.3 1396.47Z"/><path d="M894.45 1416L869.72 1400.98A28.93 28.93 0 0 0 868.4 1403.4Z"/><path d="M894.45 1416L870.57 1404.45A26.52 26.52 0 0 0 869.58 1406.78Z"/><path d="M894.45 1416L870.94 1407.28A25.08 25.08 0 0 0 870.21 1409.56Z"/><path d="M894.45 1416L880.47 1412.29A14.47 14.47 0 0 0 880.18 1413.64Z"/><path d="M894.45 1416L889.69 1415.21A4.82 4.82 0 0 0 889.64 1415.67Z"/><path d="M894.45 1416L889.64 1415.67A4.82 4.82 0 0 0 889.63 1416.13Z"/><path d="M894.45 1416L889.63 1416.13A4.82 4.82 0 0 0 889.66 1416.59Z"/><path d="M894.45 1416L887.27 1416.88A7.23 7.23 0 0 0 887.39 1417.56Z"/><path d="M894.45 1416L889.74 1417.04A4.82 4.82 0 0 0 889.86 1417.49Z"/><path d="M894.45 1416L889.86 1417.49A4.82 4.82 0 0 0 890.03 1417.92Z"/><path d="M894.45 1416L890.03 1417.92A4.82 4.82 0 0 0 890.23 1418.33Z"/><path d="M894.45 1416L890.23 1418.33A4.82 4.82 0 0 0 890.47 1418.72Z"/><path d="M894.45 1416L890.47 1418.72A4.82 4.82 0 0 0 890.75 1419.09Z"/></g>
<g fill="none" stroke="#380000" stroke-width="0.65"><path d="M894.45 1416L899.26 1416.37A4.82 4.82 0 0 0 899.27 1415.91Z"/><path d="M894.45 1416L899.27 1415.91A4.82 4.82 0 0 0 899.24 1415.45Z"/><path d="M894.45 1416L899.24 1415.45A4.82 4.82 0 0 0 899.17 1415Z"/><path d="M894.45 1416L899.17 1415A4.82 4.82 0 0 0 899.05 1414.55Z"/><path d="M894.45 1416L899.05 1414.55A4.82 4.82 0 0 0 898.89 1414.12Z"/><path d="M894.45 1416L898.89 1414.12A4.82 4.82 0 0 0 898.69 1413.71Z"/><path d="M894.45 1416L898.69 1413.71A4.82 4.82 0 0 0 898.45 1413.31Z"/><path d="M894.45 1416L898.45 1413.31A4.82 4.82 0 0 0 898.18 1412.94Z"/><path d="M894.45 1416L890.75 1419.09A4.82 4.82 0 0 0 891.06 1419.43Z"/><path d="M894.45 1416L891.06 1419.43A4.82 4.82 0 0 0 891.4 1419.74Z"/><path d="M894.45 1416L891.4 1419.74A4.82 4.82 0 0 0 891.77 1420.01Z"/><path d="M894.45 1416L891.77 1420.01A4.82 4.82 0 0 0 892.16 1420.25Z"/><path d="M894.45 1416L892.16 1420.25A4.82 4.82 0 0 0 892.58 1420.44Z"/><path d="M894.45 1416L892.58 1420.44A4.82 4.82 0 0 0 893.01 1420.6Z"/><path d="M894.45 1416L893.01 1420.6A4.82 4.82 0 0 0 893.46 1420.72Z"/><path d="M894.45 1416L891.47 1430.16A14.47 14.47 0 0 0 892.83 1430.38Z"/><path d="M894.45 1416L890.76 1448.83A33.03 33.03 0 0 0 893.91 1449.03Z"/><path d="M894.45 1416L893.9 1449.75A33.76 33.76 0 0 0 897.12 1449.65Z"/><path d="M894.45 1416L897.67 1456.62A40.75 40.75 0 0 0 901.53 1456.13Z"/><path d="M894.45 1416L901.9 1458.27A42.92 42.92 0 0 0 905.9 1457.36Z"/><path d="M894.45 1416L904.1 1450.86A36.17 36.17 0 0 0 907.38 1449.78Z"/><path d="M894.45 1416L911.51 1460.59A47.74 47.74 0 0 0 915.68 1458.76Z"/><path d="M894.45 1416L912.36 1452.06A40.27 40.27 0 0 0 915.72 1450.19Z"/><path d="M894.45 1416L917.37 1452.85A43.4 43.4 0 0 0 920.78 1450.5Z"/><path d="M894.45 1416L928.39 1460.47A55.94 55.94 0 0 0 932.47 1457.03Z"/><path d="M894.45 1416L927.23 1451.37A48.22 48.22 0 0 0 930.45 1448.09Z"/><path d="M894.45 1416L941.25 1457.71A62.69 62.69 0 0 0 945.01 1453.06Z"/><path d="M894.45 1416L960.37 1464.32A81.74 81.74 0 0 0 964.68 1457.82Z"/><path d="M894.45 1416L951.84 1450.17A66.79 66.79 0 0 0 954.83 1444.54Z"/><path d="M894.45 1416L916.25 1426.3A24.11 24.11 0 0 0 917.13 1424.18Z"/><path d="M894.45 1416L898.99 1417.64A4.82 4.82 0 0 0 899.12 1417.2Z"/><path d="M894.45 1416L899.12 1417.2A4.82 4.82 0 0 0 899.21 1416.75Z"/><path d="M894.45 1416L899.21 1416.75A4.82 4.82 0 0 0 899.26 1416.29Z"/><path d="M894.45 1416L899.26 1416.29A4.82 4.82 0 0 0 899.27 1415.83Z"/></g>
<circle cx="894.45" cy="1416" r="12.06" fill="none" stroke="#b0b0b0" stroke-width="0.6"/>
<circle cx="894.45" cy="1416" r="24.11" fill="none" stroke="#b0b0b0" stroke-width="0.6"/>
<circle cx="894.45" cy="1416" r="36.17" fill="none" stroke="#b0b0b0" stroke-width="0.6"/>
<circle cx="894.45" cy="1416" r="48.22" fill="none" stroke="#b0b0b0" stroke-width="0.6"/>
<circle cx="894.45" cy="1416" r="60.28" fill="none" stroke="#b0b0b0" stroke-width="0.6"/>
<circle cx="894.45" cy="1416" r="72.33" fill="none" stroke="#b0b0b0" stroke-width="0.6"/>
<circle cx="894.45" cy="1416" r="84.39" fill="none" stroke="#b0b0b0" stroke-width="0.6"/>
<circle cx="894.45" cy="1416" r="96.44" fill="none" stroke="#b0b0b0" stroke-width="0.6"/>
<path d="M1002.95 1416L785.95 1416M971.17 1339.28L817.73 1492.72M894.45 1307.5L894.45 1524.5M817.73 1339.28L971.17 1492.72" stroke="#b0b0b0" stroke-width="0.75"/>
</g>
<circle cx="894.45" cy="1416" r="108.5" fill="none" stroke="#474747" stroke-width="0.95"/>
<text class="t" x="1010.55" y="1418.7" text-anchor="middle" textLength="8.86" lengthAdjust="spacingAndGlyphs">0°</text>
<text class="t" x="976.55" y="1336.6" text-anchor="middle" textLength="13.83" lengthAdjust="spacingAndGlyphs">45°</text>
<text class="t" x="894.45" y="1302.6" text-anchor="middle" textLength="13.83" lengthAdjust="spacingAndGlyphs">90°</text>
<text class="t" x="812.35" y="1336.6" text-anchor="middle" textLength="18.79" lengthAdjust="spacingAndGlyphs">135°</text>
<text class="t" x="778.35" y="1418.7" text-anchor="middle" textLength="18.79" lengthAdjust="spacingAndGlyphs">180°</text>
<text class="t" x="812.35" y="1500.8" text-anchor="middle" textLength="18.79" lengthAdjust="spacingAndGlyphs">225°</text>
<text class="t" x="894.45" y="1534.8" text-anchor="middle" textLength="18.79" lengthAdjust="spacingAndGlyphs">270°</text>
<text class="t" x="976.55" y="1500.8" text-anchor="middle" textLength="18.79" lengthAdjust="spacingAndGlyphs">315°</text>
<text class="t" x="905.39" y="1409.59" textLength="4.96" lengthAdjust="spacingAndGlyphs">5</text>
<text class="t" x="916.53" y="1404.97" textLength="9.93" lengthAdjust="spacingAndGlyphs">10</text>
<text class="t" x="927.66" y="1400.36" textLength="9.93" lengthAdjust="spacingAndGlyphs">15</text>
<text class="t" x="938.8" y="1395.75" textLength="9.93" lengthAdjust="spacingAndGlyphs">20</text>
<text class="t" x="949.94" y="1391.13" textLength="9.93" lengthAdjust="spacingAndGlyphs">25</text>
<text class="t" x="961.08" y="1386.52" textLength="9.93" lengthAdjust="spacingAndGlyphs">30</text>
<text class="t" x="972.22" y="1381.91" textLength="9.93" lengthAdjust="spacingAndGlyphs">35</text>
<text class="t" x="983.35" y="1377.29" textLength="9.93" lengthAdjust="spacingAndGlyphs">40</text>
<text class="ti" x="785.85" y="1293.3" textLength="44.29" lengthAdjust="spacingAndGlyphs">P9:SolO</text>
<rect x="804" y="99.5" width="23" height="22" fill="#ffcccc"/>
<rect x="804" y="143" width="23" height="22" fill="#ccccff"/>
<text class="lg" x="831.0" y="113.6" textLength="132.39" lengthAdjust="spacingAndGlyphs">Away / +ve IMF Polarity</text>
<text class="lg" x="831.0" y="157.1" textLength="138.61" lengthAdjust="spacingAndGlyphs">Toward / -ve IMF Polarity</text>
</svg></body></html>
